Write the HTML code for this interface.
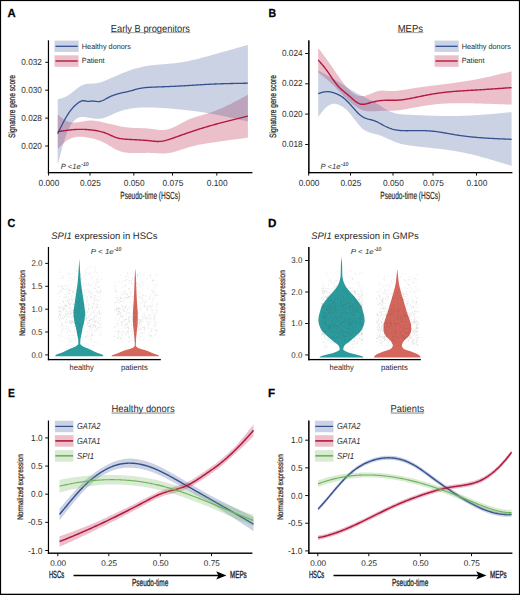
<!DOCTYPE html><html><head><meta charset="utf-8"><style>html,body{margin:0;padding:0;background:#fff}svg{display:block}</style></head><body><svg width="520" height="595" viewBox="0 0 520 595" font-family='"Liberation Sans", sans-serif' text-rendering="geometricPrecision">
<rect x="0" y="0" width="520" height="595" fill="#fff"/>
<path d="M57.70,114.50 L58.70,115.32 L59.70,116.13 L60.70,116.93 L61.70,117.70 L62.70,118.44 L63.70,119.14 L64.70,119.80 L65.70,120.40 L66.70,120.93 L67.70,121.40 L68.70,121.78 L69.70,122.09 L70.70,122.32 L71.70,122.48 L72.70,122.59 L73.70,122.63 L74.70,122.62 L75.70,122.57 L76.70,122.49 L77.70,122.37 L78.70,122.22 L79.70,122.05 L80.70,121.87 L81.70,121.67 L82.70,121.48 L83.70,121.29 L84.70,121.10 L85.70,120.93 L86.70,120.79 L87.70,120.67 L88.70,120.58 L89.70,120.52 L90.70,120.51 L91.70,120.52 L92.70,120.56 L93.70,120.63 L94.70,120.73 L95.70,120.85 L96.70,120.99 L97.70,121.15 L98.70,121.33 L99.70,121.52 L100.70,121.73 L101.70,121.95 L102.70,122.18 L103.70,122.41 L104.70,122.65 L105.70,122.89 L106.70,123.13 L107.70,123.38 L108.70,123.63 L109.70,123.87 L110.70,124.12 L111.70,124.36 L112.70,124.61 L113.70,124.85 L114.70,125.08 L115.70,125.31 L116.70,125.54 L117.70,125.76 L118.70,125.97 L119.70,126.18 L120.70,126.38 L121.70,126.57 L122.70,126.75 L123.70,126.92 L124.70,127.08 L125.70,127.23 L126.70,127.36 L127.70,127.48 L128.70,127.59 L129.70,127.68 L130.70,127.76 L131.70,127.83 L132.70,127.89 L133.70,127.93 L134.70,127.97 L135.70,128.01 L136.70,128.04 L137.70,128.06 L138.70,128.09 L139.70,128.11 L140.70,128.14 L141.70,128.17 L142.70,128.20 L143.70,128.24 L144.70,128.28 L145.70,128.34 L146.70,128.40 L147.70,128.48 L148.70,128.56 L149.70,128.67 L150.70,128.78 L151.70,128.92 L152.70,129.06 L153.70,129.20 L154.70,129.35 L155.70,129.49 L156.70,129.63 L157.70,129.75 L158.70,129.86 L159.70,129.94 L160.70,130.00 L161.70,130.03 L162.70,130.03 L163.70,129.99 L164.70,129.91 L165.70,129.78 L166.70,129.60 L167.70,129.38 L168.70,129.10 L169.70,128.78 L170.70,128.42 L171.70,128.03 L172.70,127.60 L173.70,127.15 L174.70,126.67 L175.70,126.17 L176.70,125.66 L177.70,125.13 L178.70,124.59 L179.70,124.05 L180.70,123.51 L181.70,122.96 L182.70,122.43 L183.70,121.90 L184.70,121.39 L185.70,120.89 L186.70,120.41 L187.70,119.96 L188.70,119.53 L189.70,119.11 L190.70,118.72 L191.70,118.34 L192.70,117.98 L193.70,117.63 L194.70,117.29 L195.70,116.97 L196.70,116.66 L197.70,116.35 L198.70,116.05 L199.70,115.75 L200.70,115.46 L201.70,115.18 L202.70,114.89 L203.70,114.60 L204.70,114.31 L205.70,114.02 L206.70,113.73 L207.70,113.42 L208.70,113.11 L209.70,112.80 L210.70,112.47 L211.70,112.13 L212.70,111.77 L213.70,111.41 L214.70,111.04 L215.70,110.66 L216.70,110.26 L217.70,109.86 L218.70,109.45 L219.70,109.03 L220.70,108.60 L221.70,108.16 L222.70,107.71 L223.70,107.26 L224.70,106.79 L225.70,106.33 L226.70,105.85 L227.70,105.37 L228.70,104.88 L229.70,104.38 L230.70,103.88 L231.70,103.38 L232.70,102.87 L233.70,102.35 L234.70,101.83 L235.70,101.31 L236.70,100.78 L237.70,100.25 L238.70,99.71 L239.70,99.17 L240.70,98.63 L241.70,98.09 L242.70,97.55 L243.70,97.00 L244.70,96.46 L245.70,95.91 L246.70,95.36 L247.70,94.81 L247.90,94.70 L247.90,137.70 L247.70,137.73 L246.70,137.86 L245.70,137.99 L244.70,138.12 L243.70,138.25 L242.70,138.38 L241.70,138.51 L240.70,138.64 L239.70,138.77 L238.70,138.90 L237.70,139.03 L236.70,139.16 L235.70,139.30 L234.70,139.43 L233.70,139.56 L232.70,139.69 L231.70,139.83 L230.70,139.96 L229.70,140.10 L228.70,140.23 L227.70,140.37 L226.70,140.50 L225.70,140.64 L224.70,140.78 L223.70,140.92 L222.70,141.06 L221.70,141.19 L220.70,141.34 L219.70,141.48 L218.70,141.62 L217.70,141.76 L216.70,141.90 L215.70,142.05 L214.70,142.19 L213.70,142.34 L212.70,142.49 L211.70,142.64 L210.70,142.79 L209.70,142.94 L208.70,143.09 L207.70,143.24 L206.70,143.40 L205.70,143.56 L204.70,143.72 L203.70,143.89 L202.70,144.06 L201.70,144.24 L200.70,144.42 L199.70,144.62 L198.70,144.81 L197.70,145.02 L196.70,145.23 L195.70,145.45 L194.70,145.69 L193.70,145.93 L192.70,146.18 L191.70,146.44 L190.70,146.72 L189.70,147.00 L188.70,147.30 L187.70,147.60 L186.70,147.92 L185.70,148.24 L184.70,148.56 L183.70,148.89 L182.70,149.22 L181.70,149.55 L180.70,149.87 L179.70,150.19 L178.70,150.51 L177.70,150.82 L176.70,151.12 L175.70,151.40 L174.70,151.68 L173.70,151.94 L172.70,152.19 L171.70,152.42 L170.70,152.63 L169.70,152.82 L168.70,152.99 L167.70,153.13 L166.70,153.25 L165.70,153.34 L164.70,153.41 L163.70,153.45 L162.70,153.47 L161.70,153.46 L160.70,153.45 L159.70,153.42 L158.70,153.37 L157.70,153.32 L156.70,153.26 L155.70,153.20 L154.70,153.14 L153.70,153.08 L152.70,153.02 L151.70,152.97 L150.70,152.92 L149.70,152.89 L148.70,152.87 L147.70,152.87 L146.70,152.87 L145.70,152.88 L144.70,152.89 L143.70,152.92 L142.70,152.94 L141.70,152.97 L140.70,153.00 L139.70,153.03 L138.70,153.06 L137.70,153.08 L136.70,153.10 L135.70,153.11 L134.70,153.12 L133.70,153.11 L132.70,153.10 L131.70,153.07 L130.70,153.02 L129.70,152.97 L128.70,152.89 L127.70,152.80 L126.70,152.68 L125.70,152.55 L124.70,152.38 L123.70,152.19 L122.70,151.97 L121.70,151.72 L120.70,151.44 L119.70,151.11 L118.70,150.75 L117.70,150.35 L116.70,149.90 L115.70,149.41 L114.70,148.88 L113.70,148.32 L112.70,147.73 L111.70,147.12 L110.70,146.50 L109.70,145.88 L108.70,145.25 L107.70,144.64 L106.70,144.04 L105.70,143.46 L104.70,142.91 L103.70,142.39 L102.70,141.91 L101.70,141.46 L100.70,141.04 L99.70,140.65 L98.70,140.28 L97.70,139.95 L96.70,139.63 L95.70,139.34 L94.70,139.07 L93.70,138.82 L92.70,138.58 L91.70,138.36 L90.70,138.15 L89.70,137.95 L88.70,137.76 L87.70,137.57 L86.70,137.40 L85.70,137.24 L84.70,137.09 L83.70,136.96 L82.70,136.86 L81.70,136.78 L80.70,136.73 L79.70,136.70 L78.70,136.72 L77.70,136.77 L76.70,136.87 L75.70,137.01 L74.70,137.19 L73.70,137.43 L72.70,137.72 L71.70,138.07 L70.70,138.48 L69.70,138.96 L68.70,139.50 L67.70,140.12 L66.70,140.80 L65.70,141.54 L64.70,142.34 L63.70,143.19 L62.70,144.08 L61.70,145.00 L60.70,145.95 L59.70,146.92 L58.70,147.91 L57.70,148.90 Z" fill="#b5173f" fill-opacity="0.27"/>
<path d="M57.70,99.40 L58.70,99.12 L59.70,98.84 L60.70,98.54 L61.70,98.23 L62.70,97.89 L63.70,97.52 L64.70,97.11 L65.70,96.66 L66.70,96.16 L67.70,95.60 L68.70,94.98 L69.70,94.31 L70.70,93.58 L71.70,92.82 L72.70,92.02 L73.70,91.22 L74.70,90.40 L75.70,89.60 L76.70,88.81 L77.70,88.05 L78.70,87.32 L79.70,86.65 L80.70,86.03 L81.70,85.49 L82.70,85.03 L83.70,84.65 L84.70,84.35 L85.70,84.11 L86.70,83.93 L87.70,83.80 L88.70,83.70 L89.70,83.63 L90.70,83.59 L91.70,83.55 L92.70,83.51 L93.70,83.46 L94.70,83.40 L95.70,83.30 L96.70,83.17 L97.70,83.00 L98.70,82.78 L99.70,82.53 L100.70,82.24 L101.70,81.93 L102.70,81.58 L103.70,81.22 L104.70,80.83 L105.70,80.43 L106.70,80.01 L107.70,79.59 L108.70,79.16 L109.70,78.72 L110.70,78.29 L111.70,77.85 L112.70,77.41 L113.70,76.98 L114.70,76.54 L115.70,76.10 L116.70,75.67 L117.70,75.23 L118.70,74.80 L119.70,74.37 L120.70,73.95 L121.70,73.53 L122.70,73.12 L123.70,72.71 L124.70,72.31 L125.70,71.91 L126.70,71.52 L127.70,71.14 L128.70,70.77 L129.70,70.40 L130.70,70.05 L131.70,69.70 L132.70,69.37 L133.70,69.05 L134.70,68.74 L135.70,68.44 L136.70,68.16 L137.70,67.88 L138.70,67.63 L139.70,67.38 L140.70,67.15 L141.70,66.93 L142.70,66.72 L143.70,66.52 L144.70,66.33 L145.70,66.16 L146.70,65.99 L147.70,65.83 L148.70,65.68 L149.70,65.54 L150.70,65.41 L151.70,65.28 L152.70,65.16 L153.70,65.05 L154.70,64.95 L155.70,64.84 L156.70,64.75 L157.70,64.66 L158.70,64.57 L159.70,64.48 L160.70,64.40 L161.70,64.32 L162.70,64.24 L163.70,64.16 L164.70,64.08 L165.70,64.00 L166.70,63.92 L167.70,63.84 L168.70,63.76 L169.70,63.68 L170.70,63.59 L171.70,63.50 L172.70,63.40 L173.70,63.31 L174.70,63.20 L175.70,63.09 L176.70,62.98 L177.70,62.85 L178.70,62.72 L179.70,62.59 L180.70,62.44 L181.70,62.29 L182.70,62.12 L183.70,61.95 L184.70,61.78 L185.70,61.59 L186.70,61.40 L187.70,61.20 L188.70,60.99 L189.70,60.78 L190.70,60.56 L191.70,60.34 L192.70,60.11 L193.70,59.88 L194.70,59.64 L195.70,59.39 L196.70,59.14 L197.70,58.89 L198.70,58.64 L199.70,58.38 L200.70,58.11 L201.70,57.85 L202.70,57.58 L203.70,57.31 L204.70,57.04 L205.70,56.76 L206.70,56.49 L207.70,56.21 L208.70,55.93 L209.70,55.65 L210.70,55.37 L211.70,55.09 L212.70,54.81 L213.70,54.53 L214.70,54.25 L215.70,53.97 L216.70,53.69 L217.70,53.41 L218.70,53.13 L219.70,52.85 L220.70,52.57 L221.70,52.29 L222.70,52.01 L223.70,51.73 L224.70,51.45 L225.70,51.16 L226.70,50.88 L227.70,50.60 L228.70,50.32 L229.70,50.04 L230.70,49.76 L231.70,49.47 L232.70,49.19 L233.70,48.91 L234.70,48.63 L235.70,48.35 L236.70,48.06 L237.70,47.78 L238.70,47.50 L239.70,47.22 L240.70,46.93 L241.70,46.65 L242.70,46.37 L243.70,46.09 L244.70,45.80 L245.70,45.52 L246.70,45.24 L247.70,44.96 L247.90,44.90 L247.90,121.60 L247.70,121.55 L246.70,121.32 L245.70,121.09 L244.70,120.86 L243.70,120.62 L242.70,120.39 L241.70,120.16 L240.70,119.93 L239.70,119.70 L238.70,119.47 L237.70,119.24 L236.70,119.01 L235.70,118.78 L234.70,118.56 L233.70,118.33 L232.70,118.11 L231.70,117.89 L230.70,117.66 L229.70,117.44 L228.70,117.22 L227.70,117.01 L226.70,116.79 L225.70,116.58 L224.70,116.36 L223.70,116.15 L222.70,115.95 L221.70,115.74 L220.70,115.53 L219.70,115.33 L218.70,115.13 L217.70,114.93 L216.70,114.74 L215.70,114.55 L214.70,114.36 L213.70,114.17 L212.70,113.98 L211.70,113.80 L210.70,113.62 L209.70,113.44 L208.70,113.27 L207.70,113.10 L206.70,112.93 L205.70,112.77 L204.70,112.61 L203.70,112.45 L202.70,112.30 L201.70,112.15 L200.70,112.00 L199.70,111.85 L198.70,111.71 L197.70,111.57 L196.70,111.43 L195.70,111.30 L194.70,111.16 L193.70,111.03 L192.70,110.91 L191.70,110.78 L190.70,110.66 L189.70,110.54 L188.70,110.42 L187.70,110.30 L186.70,110.19 L185.70,110.08 L184.70,109.97 L183.70,109.86 L182.70,109.75 L181.70,109.64 L180.70,109.54 L179.70,109.44 L178.70,109.34 L177.70,109.24 L176.70,109.14 L175.70,109.05 L174.70,108.95 L173.70,108.86 L172.70,108.77 L171.70,108.68 L170.70,108.60 L169.70,108.51 L168.70,108.43 L167.70,108.36 L166.70,108.28 L165.70,108.21 L164.70,108.14 L163.70,108.07 L162.70,108.01 L161.70,107.95 L160.70,107.89 L159.70,107.84 L158.70,107.79 L157.70,107.74 L156.70,107.69 L155.70,107.65 L154.70,107.62 L153.70,107.59 L152.70,107.56 L151.70,107.53 L150.70,107.51 L149.70,107.50 L148.70,107.48 L147.70,107.48 L146.70,107.48 L145.70,107.48 L144.70,107.49 L143.70,107.51 L142.70,107.53 L141.70,107.57 L140.70,107.61 L139.70,107.66 L138.70,107.72 L137.70,107.79 L136.70,107.87 L135.70,107.96 L134.70,108.07 L133.70,108.18 L132.70,108.31 L131.70,108.45 L130.70,108.61 L129.70,108.78 L128.70,108.96 L127.70,109.16 L126.70,109.38 L125.70,109.61 L124.70,109.86 L123.70,110.12 L122.70,110.40 L121.70,110.70 L120.70,111.02 L119.70,111.36 L118.70,111.72 L117.70,112.10 L116.70,112.50 L115.70,112.92 L114.70,113.36 L113.70,113.81 L112.70,114.26 L111.70,114.72 L110.70,115.18 L109.70,115.62 L108.70,116.06 L107.70,116.48 L106.70,116.88 L105.70,117.26 L104.70,117.60 L103.70,117.91 L102.70,118.18 L101.70,118.40 L100.70,118.57 L99.70,118.69 L98.70,118.76 L97.70,118.78 L96.70,118.76 L95.70,118.71 L94.70,118.62 L93.70,118.50 L92.70,118.36 L91.70,118.20 L90.70,118.02 L89.70,117.84 L88.70,117.66 L87.70,117.47 L86.70,117.29 L85.70,117.14 L84.70,117.02 L83.70,116.94 L82.70,116.92 L81.70,116.97 L80.70,117.10 L79.70,117.32 L78.70,117.65 L77.70,118.09 L76.70,118.65 L75.70,119.36 L74.70,120.21 L73.70,121.23 L72.70,122.42 L71.70,123.79 L70.70,125.35 L69.70,127.11 L68.70,129.09 L67.70,131.28 L66.70,133.69 L65.70,136.35 L64.70,139.25 L63.70,142.41 L62.70,145.81 L61.70,149.41 L60.70,153.16 L59.70,157.04 L58.70,161.00 L57.70,165.00 Z" fill="#3d5a98" fill-opacity="0.27"/>
<path d="M57.70,133.70 L58.70,131.60 L59.70,129.51 L60.70,127.45 L61.70,125.42 L62.70,123.45 L63.70,121.53 L64.70,119.69 L65.70,117.93 L66.70,116.25 L67.70,114.65 L68.70,113.14 L69.70,111.71 L70.70,110.36 L71.70,109.10 L72.70,107.92 L73.70,106.83 L74.70,105.82 L75.70,104.89 L76.70,104.02 L77.70,103.23 L78.70,102.50 L79.70,101.85 L80.70,101.32 L81.70,100.94 L82.70,100.75 L83.70,100.73 L84.70,100.84 L85.70,101.01 L86.70,101.20 L87.70,101.35 L88.70,101.40 L89.70,101.34 L90.70,101.21 L91.70,101.08 L92.70,101.00 L93.70,101.03 L94.70,101.15 L95.70,101.31 L96.70,101.47 L97.70,101.58 L98.70,101.59 L99.70,101.48 L100.70,101.25 L101.70,100.93 L102.70,100.52 L103.70,100.05 L104.70,99.53 L105.70,98.99 L106.70,98.43 L107.70,97.88 L108.70,97.35 L109.70,96.85 L110.70,96.39 L111.70,95.96 L112.70,95.57 L113.70,95.20 L114.70,94.85 L115.70,94.53 L116.70,94.23 L117.70,93.94 L118.70,93.67 L119.70,93.42 L120.70,93.17 L121.70,92.94 L122.70,92.71 L123.70,92.48 L124.70,92.26 L125.70,92.03 L126.70,91.80 L127.70,91.57 L128.70,91.32 L129.70,91.07 L130.70,90.81 L131.70,90.54 L132.70,90.27 L133.70,90.00 L134.70,89.73 L135.70,89.46 L136.70,89.20 L137.70,88.95 L138.70,88.71 L139.70,88.49 L140.70,88.28 L141.70,88.09 L142.70,87.93 L143.70,87.79 L144.70,87.67 L145.70,87.58 L146.70,87.49 L147.70,87.43 L148.70,87.37 L149.70,87.32 L150.70,87.27 L151.70,87.22 L152.70,87.17 L153.70,87.13 L154.70,87.08 L155.70,87.04 L156.70,87.00 L157.70,86.96 L158.70,86.92 L159.70,86.88 L160.70,86.85 L161.70,86.81 L162.70,86.77 L163.70,86.73 L164.70,86.69 L165.70,86.66 L166.70,86.62 L167.70,86.58 L168.70,86.54 L169.70,86.50 L170.70,86.46 L171.70,86.41 L172.70,86.37 L173.70,86.32 L174.70,86.28 L175.70,86.23 L176.70,86.18 L177.70,86.12 L178.70,86.07 L179.70,86.02 L180.70,85.96 L181.70,85.90 L182.70,85.85 L183.70,85.79 L184.70,85.73 L185.70,85.67 L186.70,85.61 L187.70,85.54 L188.70,85.48 L189.70,85.42 L190.70,85.36 L191.70,85.30 L192.70,85.23 L193.70,85.17 L194.70,85.11 L195.70,85.04 L196.70,84.98 L197.70,84.92 L198.70,84.86 L199.70,84.80 L200.70,84.74 L201.70,84.68 L202.70,84.62 L203.70,84.56 L204.70,84.51 L205.70,84.45 L206.70,84.40 L207.70,84.34 L208.70,84.29 L209.70,84.24 L210.70,84.20 L211.70,84.15 L212.70,84.10 L213.70,84.06 L214.70,84.02 L215.70,83.98 L216.70,83.94 L217.70,83.90 L218.70,83.87 L219.70,83.83 L220.70,83.80 L221.70,83.76 L222.70,83.73 L223.70,83.70 L224.70,83.67 L225.70,83.65 L226.70,83.62 L227.70,83.59 L228.70,83.57 L229.70,83.54 L230.70,83.52 L231.70,83.50 L232.70,83.48 L233.70,83.45 L234.70,83.43 L235.70,83.41 L236.70,83.39 L237.70,83.38 L238.70,83.36 L239.70,83.34 L240.70,83.32 L241.70,83.30 L242.70,83.29 L243.70,83.27 L244.70,83.25 L245.70,83.24 L246.70,83.22 L247.70,83.20 L247.90,83.20" fill="none" stroke="#34508f" stroke-width="1.3" stroke-linecap="butt" stroke-linejoin="round"/>
<path d="M57.70,131.70 L58.70,131.54 L59.70,131.38 L60.70,131.21 L61.70,131.06 L62.70,130.90 L63.70,130.75 L64.70,130.60 L65.70,130.46 L66.70,130.32 L67.70,130.19 L68.70,130.07 L69.70,129.95 L70.70,129.84 L71.70,129.75 L72.70,129.66 L73.70,129.58 L74.70,129.51 L75.70,129.46 L76.70,129.41 L77.70,129.37 L78.70,129.35 L79.70,129.33 L80.70,129.33 L81.70,129.33 L82.70,129.35 L83.70,129.38 L84.70,129.42 L85.70,129.47 L86.70,129.53 L87.70,129.60 L88.70,129.68 L89.70,129.77 L90.70,129.88 L91.70,129.99 L92.70,130.12 L93.70,130.26 L94.70,130.40 L95.70,130.56 L96.70,130.74 L97.70,130.92 L98.70,131.12 L99.70,131.33 L100.70,131.57 L101.70,131.83 L102.70,132.11 L103.70,132.43 L104.70,132.77 L105.70,133.15 L106.70,133.55 L107.70,133.98 L108.70,134.42 L109.70,134.87 L110.70,135.31 L111.70,135.76 L112.70,136.19 L113.70,136.61 L114.70,137.00 L115.70,137.37 L116.70,137.70 L117.70,137.99 L118.70,138.24 L119.70,138.46 L120.70,138.64 L121.70,138.80 L122.70,138.93 L123.70,139.05 L124.70,139.14 L125.70,139.22 L126.70,139.28 L127.70,139.34 L128.70,139.39 L129.70,139.45 L130.70,139.50 L131.70,139.55 L132.70,139.60 L133.70,139.65 L134.70,139.70 L135.70,139.75 L136.70,139.80 L137.70,139.86 L138.70,139.91 L139.70,139.97 L140.70,140.03 L141.70,140.10 L142.70,140.17 L143.70,140.24 L144.70,140.31 L145.70,140.39 L146.70,140.48 L147.70,140.57 L148.70,140.67 L149.70,140.77 L150.70,140.88 L151.70,140.99 L152.70,141.10 L153.70,141.20 L154.70,141.29 L155.70,141.37 L156.70,141.43 L157.70,141.46 L158.70,141.46 L159.70,141.42 L160.70,141.35 L161.70,141.24 L162.70,141.09 L163.70,140.91 L164.70,140.69 L165.70,140.45 L166.70,140.19 L167.70,139.90 L168.70,139.59 L169.70,139.27 L170.70,138.93 L171.70,138.59 L172.70,138.24 L173.70,137.88 L174.70,137.52 L175.70,137.16 L176.70,136.81 L177.70,136.45 L178.70,136.09 L179.70,135.74 L180.70,135.38 L181.70,135.03 L182.70,134.68 L183.70,134.33 L184.70,133.98 L185.70,133.63 L186.70,133.28 L187.70,132.93 L188.70,132.59 L189.70,132.25 L190.70,131.91 L191.70,131.57 L192.70,131.23 L193.70,130.90 L194.70,130.57 L195.70,130.24 L196.70,129.91 L197.70,129.59 L198.70,129.27 L199.70,128.95 L200.70,128.64 L201.70,128.33 L202.70,128.02 L203.70,127.71 L204.70,127.41 L205.70,127.11 L206.70,126.81 L207.70,126.51 L208.70,126.22 L209.70,125.93 L210.70,125.64 L211.70,125.36 L212.70,125.08 L213.70,124.80 L214.70,124.52 L215.70,124.24 L216.70,123.97 L217.70,123.69 L218.70,123.42 L219.70,123.16 L220.70,122.89 L221.70,122.63 L222.70,122.36 L223.70,122.10 L224.70,121.84 L225.70,121.58 L226.70,121.33 L227.70,121.07 L228.70,120.82 L229.70,120.56 L230.70,120.31 L231.70,120.06 L232.70,119.81 L233.70,119.56 L234.70,119.31 L235.70,119.07 L236.70,118.82 L237.70,118.58 L238.70,118.33 L239.70,118.09 L240.70,117.84 L241.70,117.60 L242.70,117.36 L243.70,117.12 L244.70,116.87 L245.70,116.63 L246.70,116.39 L247.70,116.15 L247.90,116.10" fill="none" stroke="#b4173f" stroke-width="1.4" stroke-linecap="butt" stroke-linejoin="round"/>
<rect x="47.850" y="40.3" width="1.2" height="133.025" fill="#000"/><rect x="47.850" y="171.975" width="204.550" height="1.35" fill="#000"/>
<path d="M45.2,62.3 H48.3" stroke="#111" stroke-width="1"/>
<path d="M45.2,90.2 H48.3" stroke="#111" stroke-width="1"/>
<path d="M45.2,118.1 H48.3" stroke="#111" stroke-width="1"/>
<path d="M45.2,146.0 H48.3" stroke="#111" stroke-width="1"/>
<text x="41.9" y="64.95" font-size="8.8" text-anchor="end" font-weight="normal" font-style="normal" fill="#2a2a2a" textLength="20.6" lengthAdjust="spacingAndGlyphs" >0.032</text>
<text x="41.9" y="92.85000000000001" font-size="8.8" text-anchor="end" font-weight="normal" font-style="normal" fill="#2a2a2a" textLength="20.6" lengthAdjust="spacingAndGlyphs" >0.030</text>
<text x="41.9" y="120.75" font-size="8.8" text-anchor="end" font-weight="normal" font-style="normal" fill="#2a2a2a" textLength="20.6" lengthAdjust="spacingAndGlyphs" >0.028</text>
<text x="41.9" y="148.65" font-size="8.8" text-anchor="end" font-weight="normal" font-style="normal" fill="#2a2a2a" textLength="20.6" lengthAdjust="spacingAndGlyphs" >0.020</text>
<path d="M48.55,172.5 V175.6" stroke="#111" stroke-width="1"/>
<text x="48.949999999999996" y="185.8" font-size="8.8" text-anchor="middle" font-weight="normal" font-style="normal" fill="#2a2a2a" textLength="20.8" lengthAdjust="spacingAndGlyphs" >0.000</text>
<path d="M90.0,172.5 V175.6" stroke="#111" stroke-width="1"/>
<text x="90.4" y="185.8" font-size="8.8" text-anchor="middle" font-weight="normal" font-style="normal" fill="#2a2a2a" textLength="20.8" lengthAdjust="spacingAndGlyphs" >0.025</text>
<path d="M133.8,172.5 V175.6" stroke="#111" stroke-width="1"/>
<text x="134.20000000000002" y="185.8" font-size="8.8" text-anchor="middle" font-weight="normal" font-style="normal" fill="#2a2a2a" textLength="20.8" lengthAdjust="spacingAndGlyphs" >0.050</text>
<path d="M172.5,172.5 V175.6" stroke="#111" stroke-width="1"/>
<text x="172.9" y="185.8" font-size="8.8" text-anchor="middle" font-weight="normal" font-style="normal" fill="#2a2a2a" textLength="20.8" lengthAdjust="spacingAndGlyphs" >0.075</text>
<path d="M216.8,172.5 V175.6" stroke="#111" stroke-width="1"/>
<text x="217.20000000000002" y="185.8" font-size="8.8" text-anchor="middle" font-weight="normal" font-style="normal" fill="#2a2a2a" textLength="20.8" lengthAdjust="spacingAndGlyphs" >0.100</text>
<text x="150.3" y="198.6" font-size="10.4" text-anchor="middle" font-weight="normal" font-style="normal" fill="#2a2a2a" textLength="60" lengthAdjust="spacingAndGlyphs" stroke="#2a2a2a" stroke-width="0.2" >Pseudo-time (HSCs)</text>
<text transform="translate(12.1,106.5) rotate(-90)" x="0" y="0" font-size="9.2" text-anchor="middle" dominant-baseline="central" fill="#2a2a2a" stroke="#2a2a2a" stroke-width="0.25" textLength="63" lengthAdjust="spacingAndGlyphs">Signature gene score</text>
<text x="110.8" y="31.9" font-size="10.2" text-anchor="start" font-weight="normal" font-style="normal" fill="#2a2a2a" textLength="79.2" lengthAdjust="spacingAndGlyphs" >Early B progenitors</text>
<rect x="110.8" y="32.2" width="79.5" height="0.9" fill="#999"/>
<rect x="54.5" y="40.6" width="24.2" height="11.3" fill="#3d5a98" fill-opacity="0.27"/>
<rect x="54.5" y="55.3" width="24.2" height="11.5" fill="#b5173f" fill-opacity="0.27"/>
<path d="M55.5,46.3 H77.7" stroke="#34508f" stroke-width="1.3"/>
<path d="M55.5,61 H77.7" stroke="#b4173f" stroke-width="1.4"/>
<text x="81.8" y="48.5" font-size="7.5" text-anchor="start" font-weight="normal" font-style="normal" fill="#2a2a2a" textLength="49.1" lengthAdjust="spacingAndGlyphs" >Healthy donors</text>
<text x="81.8" y="63.3" font-size="7.5" text-anchor="start" font-weight="normal" font-style="normal" fill="#2a2a2a" textLength="22.726344117996906" lengthAdjust="spacingAndGlyphs" >Patient</text>
<text x="60.8" y="168.8" font-size="7.5" font-style="italic" fill="#333" textLength="19.9" lengthAdjust="spacingAndGlyphs">P &lt;1e</text>
<text x="81.3" y="165.7" font-size="5.4" font-style="italic" fill="#333" stroke="#333" stroke-width="0.12" textLength="7.3" lengthAdjust="spacingAndGlyphs">-10</text>
<path d="M318.20,47.90 L319.20,49.22 L320.20,50.54 L321.20,51.87 L322.20,53.20 L323.20,54.54 L324.20,55.88 L325.20,57.23 L326.20,58.60 L327.20,59.97 L328.20,61.36 L329.20,62.76 L330.20,64.18 L331.20,65.62 L332.20,67.07 L333.20,68.54 L334.20,70.01 L335.20,71.48 L336.20,72.95 L337.20,74.42 L338.20,75.87 L339.20,77.31 L340.20,78.72 L341.20,80.11 L342.20,81.47 L343.20,82.79 L344.20,84.07 L345.20,85.31 L346.20,86.50 L347.20,87.64 L348.20,88.73 L349.20,89.75 L350.20,90.71 L351.20,91.61 L352.20,92.43 L353.20,93.18 L354.20,93.85 L355.20,94.44 L356.20,94.95 L357.20,95.36 L358.20,95.69 L359.20,95.92 L360.20,96.06 L361.20,96.12 L362.20,96.11 L363.20,96.03 L364.20,95.88 L365.20,95.68 L366.20,95.42 L367.20,95.12 L368.20,94.78 L369.20,94.40 L370.20,94.00 L371.20,93.58 L372.20,93.15 L373.20,92.72 L374.20,92.31 L375.20,91.93 L376.20,91.58 L377.20,91.27 L378.20,91.02 L379.20,90.84 L380.20,90.71 L381.20,90.64 L382.20,90.61 L383.20,90.62 L384.20,90.66 L385.20,90.71 L386.20,90.78 L387.20,90.86 L388.20,90.93 L389.20,90.98 L390.20,91.02 L391.20,91.03 L392.20,91.03 L393.20,91.00 L394.20,90.96 L395.20,90.90 L396.20,90.82 L397.20,90.73 L398.20,90.62 L399.20,90.50 L400.20,90.37 L401.20,90.23 L402.20,90.09 L403.20,89.93 L404.20,89.77 L405.20,89.61 L406.20,89.44 L407.20,89.27 L408.20,89.10 L409.20,88.93 L410.20,88.77 L411.20,88.60 L412.20,88.44 L413.20,88.28 L414.20,88.13 L415.20,87.98 L416.20,87.83 L417.20,87.68 L418.20,87.53 L419.20,87.39 L420.20,87.25 L421.20,87.11 L422.20,86.97 L423.20,86.83 L424.20,86.70 L425.20,86.57 L426.20,86.44 L427.20,86.31 L428.20,86.18 L429.20,86.05 L430.20,85.92 L431.20,85.80 L432.20,85.67 L433.20,85.54 L434.20,85.42 L435.20,85.30 L436.20,85.17 L437.20,85.05 L438.20,84.92 L439.20,84.80 L440.20,84.68 L441.20,84.55 L442.20,84.43 L443.20,84.30 L444.20,84.17 L445.20,84.05 L446.20,83.92 L447.20,83.79 L448.20,83.66 L449.20,83.53 L450.20,83.40 L451.20,83.27 L452.20,83.13 L453.20,83.00 L454.20,82.86 L455.20,82.72 L456.20,82.58 L457.20,82.44 L458.20,82.30 L459.20,82.15 L460.20,82.00 L461.20,81.86 L462.20,81.70 L463.20,81.55 L464.20,81.40 L465.20,81.24 L466.20,81.08 L467.20,80.92 L468.20,80.75 L469.20,80.59 L470.20,80.42 L471.20,80.24 L472.20,80.07 L473.20,79.89 L474.20,79.71 L475.20,79.53 L476.20,79.34 L477.20,79.15 L478.20,78.96 L479.20,78.77 L480.20,78.57 L481.20,78.37 L482.20,78.16 L483.20,77.95 L484.20,77.74 L485.20,77.53 L486.20,77.32 L487.20,77.10 L488.20,76.88 L489.20,76.66 L490.20,76.43 L491.20,76.21 L492.20,75.98 L493.20,75.75 L494.20,75.52 L495.20,75.28 L496.20,75.05 L497.20,74.81 L498.20,74.57 L499.20,74.33 L500.20,74.09 L501.20,73.85 L502.20,73.61 L503.20,73.37 L504.20,73.12 L505.20,72.88 L506.20,72.63 L507.20,72.39 L508.20,72.14 L509.20,71.89 L510.20,71.65 L511.20,71.40 L511.60,71.30 L511.60,104.60 L511.20,104.59 L510.20,104.55 L509.20,104.52 L508.20,104.48 L507.20,104.45 L506.20,104.41 L505.20,104.38 L504.20,104.34 L503.20,104.31 L502.20,104.28 L501.20,104.24 L500.20,104.21 L499.20,104.17 L498.20,104.14 L497.20,104.11 L496.20,104.07 L495.20,104.04 L494.20,104.01 L493.20,103.97 L492.20,103.94 L491.20,103.91 L490.20,103.87 L489.20,103.84 L488.20,103.81 L487.20,103.78 L486.20,103.75 L485.20,103.72 L484.20,103.68 L483.20,103.65 L482.20,103.62 L481.20,103.59 L480.20,103.56 L479.20,103.53 L478.20,103.51 L477.20,103.48 L476.20,103.45 L475.20,103.42 L474.20,103.39 L473.20,103.37 L472.20,103.34 L471.20,103.32 L470.20,103.30 L469.20,103.28 L468.20,103.26 L467.20,103.24 L466.20,103.22 L465.20,103.21 L464.20,103.19 L463.20,103.18 L462.20,103.18 L461.20,103.17 L460.20,103.17 L459.20,103.17 L458.20,103.17 L457.20,103.17 L456.20,103.18 L455.20,103.20 L454.20,103.21 L453.20,103.23 L452.20,103.25 L451.20,103.28 L450.20,103.31 L449.20,103.34 L448.20,103.38 L447.20,103.42 L446.20,103.47 L445.20,103.52 L444.20,103.58 L443.20,103.64 L442.20,103.70 L441.20,103.77 L440.20,103.85 L439.20,103.93 L438.20,104.02 L437.20,104.11 L436.20,104.21 L435.20,104.31 L434.20,104.42 L433.20,104.54 L432.20,104.66 L431.20,104.79 L430.20,104.93 L429.20,105.07 L428.20,105.21 L427.20,105.36 L426.20,105.52 L425.20,105.67 L424.20,105.84 L423.20,106.00 L422.20,106.17 L421.20,106.35 L420.20,106.52 L419.20,106.70 L418.20,106.88 L417.20,107.06 L416.20,107.25 L415.20,107.43 L414.20,107.62 L413.20,107.80 L412.20,107.99 L411.20,108.18 L410.20,108.36 L409.20,108.55 L408.20,108.73 L407.20,108.91 L406.20,109.09 L405.20,109.27 L404.20,109.43 L403.20,109.60 L402.20,109.75 L401.20,109.90 L400.20,110.05 L399.20,110.18 L398.20,110.30 L397.20,110.41 L396.20,110.51 L395.20,110.60 L394.20,110.67 L393.20,110.73 L392.20,110.78 L391.20,110.81 L390.20,110.82 L389.20,110.82 L388.20,110.82 L387.20,110.81 L386.20,110.80 L385.20,110.79 L384.20,110.78 L383.20,110.79 L382.20,110.81 L381.20,110.85 L380.20,110.90 L379.20,110.95 L378.20,111.01 L377.20,111.07 L376.20,111.13 L375.20,111.18 L374.20,111.23 L373.20,111.27 L372.20,111.30 L371.20,111.31 L370.20,111.30 L369.20,111.28 L368.20,111.22 L367.20,111.14 L366.20,111.02 L365.20,110.85 L364.20,110.64 L363.20,110.38 L362.20,110.06 L361.20,109.67 L360.20,109.22 L359.20,108.70 L358.20,108.12 L357.20,107.48 L356.20,106.79 L355.20,106.06 L354.20,105.29 L353.20,104.49 L352.20,103.67 L351.20,102.82 L350.20,101.96 L349.20,101.08 L348.20,100.18 L347.20,99.26 L346.20,98.33 L345.20,97.37 L344.20,96.40 L343.20,95.41 L342.20,94.40 L341.20,93.37 L340.20,92.33 L339.20,91.29 L338.20,90.23 L337.20,89.18 L336.20,88.14 L335.20,87.10 L334.20,86.08 L333.20,85.08 L332.20,84.10 L331.20,83.15 L330.20,82.23 L329.20,81.33 L328.20,80.45 L327.20,79.60 L326.20,78.76 L325.20,77.95 L324.20,77.14 L323.20,76.35 L322.20,75.57 L321.20,74.79 L320.20,74.02 L319.20,73.26 L318.20,72.50 Z" fill="#b5173f" fill-opacity="0.27"/>
<path d="M318.20,70.40 L319.20,70.96 L320.20,71.51 L321.20,72.07 L322.20,72.63 L323.20,73.18 L324.20,73.74 L325.20,74.31 L326.20,74.87 L327.20,75.43 L328.20,76.00 L329.20,76.57 L330.20,77.14 L331.20,77.72 L332.20,78.30 L333.20,78.88 L334.20,79.47 L335.20,80.06 L336.20,80.65 L337.20,81.25 L338.20,81.85 L339.20,82.46 L340.20,83.07 L341.20,83.68 L342.20,84.30 L343.20,84.92 L344.20,85.55 L345.20,86.17 L346.20,86.80 L347.20,87.42 L348.20,88.05 L349.20,88.67 L350.20,89.29 L351.20,89.91 L352.20,90.52 L353.20,91.13 L354.20,91.72 L355.20,92.31 L356.20,92.89 L357.20,93.46 L358.20,94.02 L359.20,94.56 L360.20,95.09 L361.20,95.60 L362.20,96.10 L363.20,96.59 L364.20,97.06 L365.20,97.53 L366.20,98.00 L367.20,98.47 L368.20,98.94 L369.20,99.41 L370.20,99.89 L371.20,100.38 L372.20,100.89 L373.20,101.41 L374.20,101.95 L375.20,102.51 L376.20,103.10 L377.20,103.71 L378.20,104.35 L379.20,105.00 L380.20,105.66 L381.20,106.33 L382.20,106.99 L383.20,107.64 L384.20,108.27 L385.20,108.88 L386.20,109.46 L387.20,110.02 L388.20,110.53 L389.20,111.02 L390.20,111.47 L391.20,111.88 L392.20,112.26 L393.20,112.60 L394.20,112.90 L395.20,113.18 L396.20,113.42 L397.20,113.63 L398.20,113.82 L399.20,113.99 L400.20,114.13 L401.20,114.25 L402.20,114.36 L403.20,114.45 L404.20,114.52 L405.20,114.59 L406.20,114.64 L407.20,114.69 L408.20,114.73 L409.20,114.77 L410.20,114.81 L411.20,114.85 L412.20,114.89 L413.20,114.93 L414.20,114.97 L415.20,115.01 L416.20,115.05 L417.20,115.09 L418.20,115.13 L419.20,115.17 L420.20,115.21 L421.20,115.25 L422.20,115.30 L423.20,115.34 L424.20,115.38 L425.20,115.42 L426.20,115.46 L427.20,115.50 L428.20,115.53 L429.20,115.57 L430.20,115.61 L431.20,115.64 L432.20,115.68 L433.20,115.71 L434.20,115.74 L435.20,115.77 L436.20,115.80 L437.20,115.83 L438.20,115.86 L439.20,115.88 L440.20,115.91 L441.20,115.93 L442.20,115.95 L443.20,115.97 L444.20,115.98 L445.20,116.00 L446.20,116.01 L447.20,116.02 L448.20,116.02 L449.20,116.03 L450.20,116.03 L451.20,116.03 L452.20,116.03 L453.20,116.02 L454.20,116.01 L455.20,116.00 L456.20,115.99 L457.20,115.97 L458.20,115.95 L459.20,115.93 L460.20,115.90 L461.20,115.87 L462.20,115.84 L463.20,115.81 L464.20,115.77 L465.20,115.73 L466.20,115.69 L467.20,115.65 L468.20,115.60 L469.20,115.55 L470.20,115.50 L471.20,115.45 L472.20,115.39 L473.20,115.34 L474.20,115.28 L475.20,115.22 L476.20,115.15 L477.20,115.09 L478.20,115.02 L479.20,114.95 L480.20,114.88 L481.20,114.81 L482.20,114.74 L483.20,114.66 L484.20,114.59 L485.20,114.51 L486.20,114.43 L487.20,114.35 L488.20,114.26 L489.20,114.18 L490.20,114.10 L491.20,114.01 L492.20,113.92 L493.20,113.84 L494.20,113.75 L495.20,113.66 L496.20,113.57 L497.20,113.48 L498.20,113.38 L499.20,113.29 L500.20,113.20 L501.20,113.10 L502.20,113.01 L503.20,112.91 L504.20,112.82 L505.20,112.72 L506.20,112.62 L507.20,112.53 L508.20,112.43 L509.20,112.33 L510.20,112.24 L511.20,112.14 L511.60,112.10 L511.60,165.90 L511.20,165.78 L510.20,165.47 L509.20,165.16 L508.20,164.85 L507.20,164.54 L506.20,164.23 L505.20,163.92 L504.20,163.62 L503.20,163.31 L502.20,163.00 L501.20,162.70 L500.20,162.39 L499.20,162.09 L498.20,161.79 L497.20,161.49 L496.20,161.19 L495.20,160.89 L494.20,160.59 L493.20,160.30 L492.20,160.00 L491.20,159.71 L490.20,159.42 L489.20,159.13 L488.20,158.85 L487.20,158.56 L486.20,158.28 L485.20,158.00 L484.20,157.72 L483.20,157.45 L482.20,157.17 L481.20,156.90 L480.20,156.64 L479.20,156.37 L478.20,156.11 L477.20,155.85 L476.20,155.59 L475.20,155.34 L474.20,155.09 L473.20,154.84 L472.20,154.60 L471.20,154.36 L470.20,154.12 L469.20,153.89 L468.20,153.66 L467.20,153.44 L466.20,153.22 L465.20,153.00 L464.20,152.79 L463.20,152.58 L462.20,152.37 L461.20,152.17 L460.20,151.98 L459.20,151.79 L458.20,151.60 L457.20,151.42 L456.20,151.24 L455.20,151.07 L454.20,150.90 L453.20,150.74 L452.20,150.58 L451.20,150.42 L450.20,150.27 L449.20,150.13 L448.20,149.98 L447.20,149.85 L446.20,149.71 L445.20,149.58 L444.20,149.45 L443.20,149.32 L442.20,149.20 L441.20,149.08 L440.20,148.96 L439.20,148.84 L438.20,148.73 L437.20,148.61 L436.20,148.50 L435.20,148.39 L434.20,148.28 L433.20,148.17 L432.20,148.07 L431.20,147.96 L430.20,147.85 L429.20,147.75 L428.20,147.64 L427.20,147.54 L426.20,147.43 L425.20,147.32 L424.20,147.21 L423.20,147.11 L422.20,147.00 L421.20,146.88 L420.20,146.77 L419.20,146.66 L418.20,146.54 L417.20,146.42 L416.20,146.30 L415.20,146.18 L414.20,146.06 L413.20,145.93 L412.20,145.80 L411.20,145.66 L410.20,145.53 L409.20,145.39 L408.20,145.24 L407.20,145.09 L406.20,144.93 L405.20,144.75 L404.20,144.56 L403.20,144.36 L402.20,144.14 L401.20,143.90 L400.20,143.64 L399.20,143.35 L398.20,143.04 L397.20,142.70 L396.20,142.34 L395.20,141.96 L394.20,141.56 L393.20,141.15 L392.20,140.72 L391.20,140.28 L390.20,139.84 L389.20,139.38 L388.20,138.93 L387.20,138.47 L386.20,138.02 L385.20,137.57 L384.20,137.13 L383.20,136.70 L382.20,136.28 L381.20,135.87 L380.20,135.49 L379.20,135.12 L378.20,134.77 L377.20,134.45 L376.20,134.16 L375.20,133.89 L374.20,133.65 L373.20,133.41 L372.20,133.18 L371.20,132.93 L370.20,132.67 L369.20,132.37 L368.20,132.02 L367.20,131.62 L366.20,131.16 L365.20,130.62 L364.20,129.99 L363.20,129.26 L362.20,128.42 L361.20,127.47 L360.20,126.43 L359.20,125.30 L358.20,124.10 L357.20,122.85 L356.20,121.56 L355.20,120.26 L354.20,118.95 L353.20,117.66 L352.20,116.37 L351.20,115.12 L350.20,113.90 L349.20,112.73 L348.20,111.61 L347.20,110.56 L346.20,109.59 L345.20,108.69 L344.20,107.88 L343.20,107.15 L342.20,106.50 L341.20,105.91 L340.20,105.40 L339.20,104.94 L338.20,104.55 L337.20,104.24 L336.20,104.01 L335.20,103.86 L334.20,103.81 L333.20,103.86 L332.20,104.02 L331.20,104.29 L330.20,104.68 L329.20,105.17 L328.20,105.78 L327.20,106.49 L326.20,107.32 L325.20,108.24 L324.20,109.28 L323.20,110.42 L322.20,111.65 L321.20,112.95 L320.20,114.30 L319.20,115.69 L318.20,117.10 Z" fill="#3d5a98" fill-opacity="0.27"/>
<path d="M318.20,93.70 L319.20,93.36 L320.20,93.03 L321.20,92.71 L322.20,92.42 L323.20,92.17 L324.20,91.96 L325.20,91.79 L326.20,91.69 L327.20,91.66 L328.20,91.68 L329.20,91.77 L330.20,91.91 L331.20,92.10 L332.20,92.34 L333.20,92.62 L334.20,92.95 L335.20,93.30 L336.20,93.69 L337.20,94.11 L338.20,94.57 L339.20,95.08 L340.20,95.63 L341.20,96.24 L342.20,96.90 L343.20,97.63 L344.20,98.42 L345.20,99.28 L346.20,100.20 L347.20,101.18 L348.20,102.21 L349.20,103.28 L350.20,104.38 L351.20,105.50 L352.20,106.63 L353.20,107.77 L354.20,108.91 L355.20,110.04 L356.20,111.14 L357.20,112.20 L358.20,113.22 L359.20,114.17 L360.20,115.06 L361.20,115.86 L362.20,116.57 L363.20,117.18 L364.20,117.68 L365.20,118.11 L366.20,118.47 L367.20,118.77 L368.20,119.04 L369.20,119.28 L370.20,119.52 L371.20,119.75 L372.20,120.01 L373.20,120.30 L374.20,120.64 L375.20,121.04 L376.20,121.48 L377.20,121.95 L378.20,122.46 L379.20,123.00 L380.20,123.54 L381.20,124.10 L382.20,124.66 L383.20,125.20 L384.20,125.74 L385.20,126.25 L386.20,126.73 L387.20,127.18 L388.20,127.61 L389.20,128.00 L390.20,128.37 L391.20,128.70 L392.20,129.01 L393.20,129.29 L394.20,129.54 L395.20,129.77 L396.20,129.96 L397.20,130.13 L398.20,130.28 L399.20,130.40 L400.20,130.49 L401.20,130.57 L402.20,130.63 L403.20,130.67 L404.20,130.70 L405.20,130.72 L406.20,130.73 L407.20,130.73 L408.20,130.72 L409.20,130.71 L410.20,130.70 L411.20,130.68 L412.20,130.67 L413.20,130.66 L414.20,130.65 L415.20,130.64 L416.20,130.63 L417.20,130.62 L418.20,130.62 L419.20,130.62 L420.20,130.63 L421.20,130.63 L422.20,130.65 L423.20,130.67 L424.20,130.69 L425.20,130.72 L426.20,130.76 L427.20,130.80 L428.20,130.86 L429.20,130.92 L430.20,130.99 L431.20,131.06 L432.20,131.15 L433.20,131.25 L434.20,131.36 L435.20,131.47 L436.20,131.60 L437.20,131.73 L438.20,131.88 L439.20,132.02 L440.20,132.18 L441.20,132.34 L442.20,132.50 L443.20,132.67 L444.20,132.84 L445.20,133.01 L446.20,133.19 L447.20,133.37 L448.20,133.55 L449.20,133.73 L450.20,133.90 L451.20,134.08 L452.20,134.26 L453.20,134.43 L454.20,134.60 L455.20,134.77 L456.20,134.93 L457.20,135.09 L458.20,135.24 L459.20,135.39 L460.20,135.54 L461.20,135.68 L462.20,135.81 L463.20,135.95 L464.20,136.08 L465.20,136.20 L466.20,136.32 L467.20,136.44 L468.20,136.56 L469.20,136.67 L470.20,136.78 L471.20,136.88 L472.20,136.98 L473.20,137.08 L474.20,137.18 L475.20,137.27 L476.20,137.36 L477.20,137.44 L478.20,137.53 L479.20,137.61 L480.20,137.69 L481.20,137.76 L482.20,137.84 L483.20,137.91 L484.20,137.98 L485.20,138.05 L486.20,138.11 L487.20,138.17 L488.20,138.23 L489.20,138.29 L490.20,138.35 L491.20,138.41 L492.20,138.46 L493.20,138.51 L494.20,138.56 L495.20,138.61 L496.20,138.66 L497.20,138.71 L498.20,138.76 L499.20,138.80 L500.20,138.84 L501.20,138.89 L502.20,138.93 L503.20,138.97 L504.20,139.01 L505.20,139.05 L506.20,139.09 L507.20,139.13 L508.20,139.17 L509.20,139.21 L510.20,139.25 L511.20,139.28 L511.60,139.30" fill="none" stroke="#34508f" stroke-width="1.3" stroke-linecap="butt" stroke-linejoin="round"/>
<path d="M318.20,60.00 L319.20,61.13 L320.20,62.27 L321.20,63.42 L322.20,64.59 L323.20,65.79 L324.20,67.03 L325.20,68.31 L326.20,69.64 L327.20,71.02 L328.20,72.44 L329.20,73.89 L330.20,75.36 L331.20,76.83 L332.20,78.29 L333.20,79.73 L334.20,81.14 L335.20,82.51 L336.20,83.81 L337.20,85.05 L338.20,86.20 L339.20,87.27 L340.20,88.27 L341.20,89.21 L342.20,90.11 L343.20,90.97 L344.20,91.80 L345.20,92.62 L346.20,93.43 L347.20,94.25 L348.20,95.09 L349.20,95.95 L350.20,96.84 L351.20,97.74 L352.20,98.64 L353.20,99.53 L354.20,100.38 L355.20,101.19 L356.20,101.93 L357.20,102.60 L358.20,103.18 L359.20,103.65 L360.20,104.00 L361.20,104.22 L362.20,104.32 L363.20,104.31 L364.20,104.22 L365.20,104.05 L366.20,103.83 L367.20,103.57 L368.20,103.29 L369.20,103.00 L370.20,102.72 L371.20,102.44 L372.20,102.18 L373.20,101.93 L374.20,101.70 L375.20,101.48 L376.20,101.28 L377.20,101.09 L378.20,100.92 L379.20,100.77 L380.20,100.65 L381.20,100.54 L382.20,100.45 L383.20,100.39 L384.20,100.34 L385.20,100.30 L386.20,100.28 L387.20,100.26 L388.20,100.26 L389.20,100.26 L390.20,100.26 L391.20,100.26 L392.20,100.26 L393.20,100.26 L394.20,100.26 L395.20,100.24 L396.20,100.22 L397.20,100.18 L398.20,100.13 L399.20,100.06 L400.20,99.98 L401.20,99.88 L402.20,99.76 L403.20,99.64 L404.20,99.50 L405.20,99.34 L406.20,99.18 L407.20,99.01 L408.20,98.83 L409.20,98.65 L410.20,98.46 L411.20,98.27 L412.20,98.07 L413.20,97.87 L414.20,97.67 L415.20,97.47 L416.20,97.26 L417.20,97.06 L418.20,96.85 L419.20,96.64 L420.20,96.43 L421.20,96.23 L422.20,96.02 L423.20,95.81 L424.20,95.61 L425.20,95.41 L426.20,95.21 L427.20,95.01 L428.20,94.82 L429.20,94.63 L430.20,94.44 L431.20,94.26 L432.20,94.09 L433.20,93.92 L434.20,93.75 L435.20,93.59 L436.20,93.44 L437.20,93.29 L438.20,93.15 L439.20,93.01 L440.20,92.87 L441.20,92.74 L442.20,92.62 L443.20,92.50 L444.20,92.38 L445.20,92.27 L446.20,92.16 L447.20,92.06 L448.20,91.95 L449.20,91.86 L450.20,91.76 L451.20,91.67 L452.20,91.58 L453.20,91.50 L454.20,91.42 L455.20,91.34 L456.20,91.26 L457.20,91.18 L458.20,91.11 L459.20,91.04 L460.20,90.97 L461.20,90.90 L462.20,90.84 L463.20,90.77 L464.20,90.71 L465.20,90.65 L466.20,90.59 L467.20,90.53 L468.20,90.47 L469.20,90.41 L470.20,90.35 L471.20,90.29 L472.20,90.24 L473.20,90.18 L474.20,90.12 L475.20,90.06 L476.20,90.01 L477.20,89.95 L478.20,89.89 L479.20,89.83 L480.20,89.77 L481.20,89.71 L482.20,89.64 L483.20,89.58 L484.20,89.52 L485.20,89.45 L486.20,89.39 L487.20,89.32 L488.20,89.26 L489.20,89.19 L490.20,89.12 L491.20,89.05 L492.20,88.99 L493.20,88.92 L494.20,88.85 L495.20,88.78 L496.20,88.71 L497.20,88.64 L498.20,88.57 L499.20,88.50 L500.20,88.43 L501.20,88.35 L502.20,88.28 L503.20,88.21 L504.20,88.14 L505.20,88.07 L506.20,87.99 L507.20,87.92 L508.20,87.85 L509.20,87.77 L510.20,87.70 L511.20,87.63 L511.60,87.60" fill="none" stroke="#b4173f" stroke-width="1.4" stroke-linecap="butt" stroke-linejoin="round"/>
<rect x="308.100" y="40.3" width="1.5" height="133.025" fill="#000"/><rect x="308.100" y="171.975" width="204.300" height="1.35" fill="#000"/>
<path d="M305.2,53.5 H308.3" stroke="#111" stroke-width="1"/>
<path d="M305.2,83.8 H308.3" stroke="#111" stroke-width="1"/>
<path d="M305.2,114.1 H308.3" stroke="#111" stroke-width="1"/>
<path d="M305.2,144.5 H308.3" stroke="#111" stroke-width="1"/>
<text x="302.6" y="56.15" font-size="8.8" text-anchor="end" font-weight="normal" font-style="normal" fill="#2a2a2a" textLength="20.6" lengthAdjust="spacingAndGlyphs" >0.024</text>
<text x="302.6" y="86.45" font-size="8.8" text-anchor="end" font-weight="normal" font-style="normal" fill="#2a2a2a" textLength="20.6" lengthAdjust="spacingAndGlyphs" >0.022</text>
<text x="302.6" y="116.75" font-size="8.8" text-anchor="end" font-weight="normal" font-style="normal" fill="#2a2a2a" textLength="20.6" lengthAdjust="spacingAndGlyphs" >0.020</text>
<text x="302.6" y="147.15" font-size="8.8" text-anchor="end" font-weight="normal" font-style="normal" fill="#2a2a2a" textLength="20.6" lengthAdjust="spacingAndGlyphs" >0.018</text>
<path d="M308.7,172.5 V175.6" stroke="#111" stroke-width="1"/>
<text x="309.09999999999997" y="185.8" font-size="8.8" text-anchor="middle" font-weight="normal" font-style="normal" fill="#2a2a2a" textLength="20.8" lengthAdjust="spacingAndGlyphs" >0.000</text>
<path d="M350.5,172.5 V175.6" stroke="#111" stroke-width="1"/>
<text x="350.9" y="185.8" font-size="8.8" text-anchor="middle" font-weight="normal" font-style="normal" fill="#2a2a2a" textLength="20.8" lengthAdjust="spacingAndGlyphs" >0.025</text>
<path d="M393.0,172.5 V175.6" stroke="#111" stroke-width="1"/>
<text x="393.4" y="185.8" font-size="8.8" text-anchor="middle" font-weight="normal" font-style="normal" fill="#2a2a2a" textLength="20.8" lengthAdjust="spacingAndGlyphs" >0.050</text>
<path d="M433.0,172.5 V175.6" stroke="#111" stroke-width="1"/>
<text x="433.4" y="185.8" font-size="8.8" text-anchor="middle" font-weight="normal" font-style="normal" fill="#2a2a2a" textLength="20.8" lengthAdjust="spacingAndGlyphs" >0.075</text>
<path d="M476.5,172.5 V175.6" stroke="#111" stroke-width="1"/>
<text x="476.9" y="185.8" font-size="8.8" text-anchor="middle" font-weight="normal" font-style="normal" fill="#2a2a2a" textLength="20.8" lengthAdjust="spacingAndGlyphs" >0.100</text>
<text x="410.3" y="198.6" font-size="10.4" text-anchor="middle" font-weight="normal" font-style="normal" fill="#2a2a2a" textLength="60" lengthAdjust="spacingAndGlyphs" stroke="#2a2a2a" stroke-width="0.2" >Pseudo-time (HSCs)</text>
<text transform="translate(272.8,106.5) rotate(-90)" x="0" y="0" font-size="9.2" text-anchor="middle" dominant-baseline="central" fill="#2a2a2a" stroke="#2a2a2a" stroke-width="0.25" textLength="63" lengthAdjust="spacingAndGlyphs">Signature gene score</text>
<text x="397.7" y="31.9" font-size="10.2" text-anchor="start" font-weight="normal" font-style="normal" fill="#2a2a2a" textLength="25.30000000000001" lengthAdjust="spacingAndGlyphs" >MEPs</text>
<rect x="397.7" y="32.2" width="25.600000000000012" height="0.9" fill="#999"/>
<rect x="434.5" y="40.6" width="24.2" height="11.3" fill="#3d5a98" fill-opacity="0.27"/>
<rect x="434.5" y="55.3" width="24.2" height="11.5" fill="#b5173f" fill-opacity="0.27"/>
<path d="M435.5,46.3 H457.7" stroke="#34508f" stroke-width="1.3"/>
<path d="M435.5,61 H457.7" stroke="#b4173f" stroke-width="1.4"/>
<text x="461.7" y="48.5" font-size="7.5" text-anchor="start" font-weight="normal" font-style="normal" fill="#2a2a2a" textLength="49.1" lengthAdjust="spacingAndGlyphs" >Healthy donors</text>
<text x="461.7" y="63.3" font-size="7.5" text-anchor="start" font-weight="normal" font-style="normal" fill="#2a2a2a" textLength="22.726344117996906" lengthAdjust="spacingAndGlyphs" >Patient</text>
<text x="320.6" y="168.8" font-size="7.5" font-style="italic" fill="#333" textLength="19.9" lengthAdjust="spacingAndGlyphs">P &lt;1e</text>
<text x="341.1" y="165.7" font-size="5.4" font-style="italic" fill="#333" stroke="#333" stroke-width="0.12" textLength="7.3" lengthAdjust="spacingAndGlyphs">-10</text>
<rect x="47.850" y="247" width="1.2" height="113.250" fill="#000"/><rect x="47.850" y="358.950" width="112.950" height="1.3" fill="#000"/>
<path d="M45.2,263.4 H48.3" stroke="#111" stroke-width="1"/>
<text x="42.4" y="266.15" font-size="8.4" text-anchor="end" font-weight="normal" font-style="normal" fill="#2a2a2a" textLength="11.0" lengthAdjust="spacingAndGlyphs" >2.0</text>
<path d="M45.2,286.3 H48.3" stroke="#111" stroke-width="1"/>
<text x="42.4" y="289.05" font-size="8.4" text-anchor="end" font-weight="normal" font-style="normal" fill="#2a2a2a" textLength="11.0" lengthAdjust="spacingAndGlyphs" >1.5</text>
<path d="M45.2,309.2 H48.3" stroke="#111" stroke-width="1"/>
<text x="42.4" y="311.95" font-size="8.4" text-anchor="end" font-weight="normal" font-style="normal" fill="#2a2a2a" textLength="11.0" lengthAdjust="spacingAndGlyphs" >1.0</text>
<path d="M45.2,332.0 H48.3" stroke="#111" stroke-width="1"/>
<text x="42.4" y="334.75" font-size="8.4" text-anchor="end" font-weight="normal" font-style="normal" fill="#2a2a2a" textLength="11.0" lengthAdjust="spacingAndGlyphs" >0.5</text>
<path d="M45.2,354.9 H48.3" stroke="#111" stroke-width="1"/>
<text x="42.4" y="357.65" font-size="8.4" text-anchor="end" font-weight="normal" font-style="normal" fill="#2a2a2a" textLength="11.0" lengthAdjust="spacingAndGlyphs" >0.0</text>
<text transform="translate(22.4,303) rotate(-90)" x="0" y="0" font-size="8.2" text-anchor="middle" dominant-baseline="central" fill="#2a2a2a" stroke="#2a2a2a" stroke-width="0.25" textLength="65.6" lengthAdjust="spacingAndGlyphs">Normalized expression</text>
<text x="51.25" y="238.8" font-size="9.5" fill="#2a2a2a" textLength="106.3" lengthAdjust="spacingAndGlyphs"><tspan font-style="italic">SPI1</tspan> expression in HSCs</text>
<text x="90.8" y="253.6" font-size="7.2" font-style="italic" fill="#333" textLength="23" lengthAdjust="spacingAndGlyphs">P &lt; 1e</text>
<text x="114.19999999999999" y="250.6" font-size="5.4" font-style="italic" fill="#333" stroke="#333" stroke-width="0.12" textLength="7.2" lengthAdjust="spacingAndGlyphs">-10</text>
<text x="81.65" y="369.6" font-size="7.9" text-anchor="middle" font-weight="normal" font-style="normal" fill="#2a2a2a" textLength="24.3" lengthAdjust="spacingAndGlyphs" >healthy</text>
<text x="134.35" y="369.6" font-size="7.9" text-anchor="middle" font-weight="normal" font-style="normal" fill="#2a2a2a" textLength="26.9" lengthAdjust="spacingAndGlyphs" >patients</text>
<path d="M79.30,258.50 L79.33,259.00 L79.36,259.50 L79.38,260.00 L79.41,260.50 L79.44,261.00 L79.47,261.50 L79.50,262.00 L79.53,262.50 L79.56,263.00 L79.59,263.50 L79.62,264.00 L79.65,264.50 L79.68,265.00 L79.71,265.50 L79.74,266.00 L79.77,266.50 L79.80,267.00 L79.84,267.50 L79.87,268.00 L79.90,268.50 L79.93,269.00 L79.96,269.50 L80.00,270.00 L80.03,270.50 L80.06,271.00 L80.09,271.50 L80.12,272.00 L80.15,272.50 L80.18,273.00 L80.21,273.50 L80.25,274.00 L80.28,274.50 L80.31,275.00 L80.34,275.50 L80.38,276.00 L80.41,276.50 L80.45,277.00 L80.48,277.50 L80.52,278.00 L80.56,278.50 L80.60,279.00 L80.64,279.50 L80.68,280.00 L80.72,280.50 L80.77,281.00 L80.81,281.50 L80.86,282.00 L80.91,282.50 L80.96,283.00 L81.02,283.50 L81.08,284.00 L81.14,284.50 L81.21,285.00 L81.28,285.50 L81.35,286.00 L81.42,286.50 L81.49,287.00 L81.57,287.50 L81.64,288.00 L81.72,288.50 L81.80,289.00 L81.88,289.50 L81.96,290.00 L82.04,290.50 L82.12,291.00 L82.20,291.50 L82.28,292.00 L82.36,292.50 L82.44,293.00 L82.52,293.50 L82.59,294.00 L82.67,294.50 L82.74,295.00 L82.81,295.50 L82.89,296.00 L82.96,296.50 L83.03,297.00 L83.11,297.50 L83.18,298.00 L83.25,298.50 L83.33,299.00 L83.40,299.50 L83.48,300.00 L83.55,300.50 L83.62,301.00 L83.70,301.50 L83.77,302.00 L83.85,302.50 L83.92,303.00 L83.99,303.50 L84.06,304.00 L84.13,304.50 L84.20,305.00 L84.27,305.50 L84.34,306.00 L84.41,306.50 L84.47,307.00 L84.54,307.50 L84.60,308.00 L84.66,308.50 L84.73,309.00 L84.79,309.50 L84.87,310.00 L84.94,310.50 L85.01,311.00 L85.07,311.50 L85.11,312.00 L85.14,312.50 L85.15,313.00 L85.14,313.50 L85.13,314.00 L85.10,314.50 L85.07,315.00 L85.03,315.50 L84.98,316.00 L84.93,316.50 L84.87,317.00 L84.82,317.50 L84.75,318.00 L84.69,318.50 L84.63,319.00 L84.56,319.50 L84.49,320.00 L84.41,320.50 L84.32,321.00 L84.22,321.50 L84.11,322.00 L84.00,322.50 L83.87,323.00 L83.75,323.50 L83.62,324.00 L83.48,324.50 L83.35,325.00 L83.22,325.50 L83.10,326.00 L82.97,326.50 L82.85,327.00 L82.74,327.50 L82.64,328.00 L82.54,328.50 L82.43,329.00 L82.33,329.50 L82.24,330.00 L82.14,330.50 L82.04,331.00 L81.95,331.50 L81.85,332.00 L81.76,332.50 L81.66,333.00 L81.57,333.50 L81.48,334.00 L81.39,334.50 L81.30,335.00 L81.21,335.50 L81.11,336.00 L81.00,336.50 L80.90,337.00 L80.79,337.50 L80.70,338.00 L80.60,338.50 L80.52,339.00 L80.45,339.50 L80.39,340.00 L80.36,340.50 L80.33,341.00 L80.31,341.50 L80.29,342.00 L80.27,342.50 L80.26,343.00 L80.25,343.50 L80.31,344.00 L80.61,344.50 L81.10,345.00 L81.70,345.50 L82.33,346.00 L83.16,346.50 L84.22,347.00 L85.42,347.50 L86.70,348.00 L87.95,348.50 L89.10,349.00 L90.15,349.50 L91.17,350.00 L92.18,350.50 L93.19,351.00 L94.22,351.50 L95.27,352.00 L96.41,352.50 L97.78,353.00 L99.26,353.50 L100.69,354.00 L101.91,354.50 L102.77,355.00 L103.13,355.50 L103.27,356.00 L103.30,356.30 L55.30,356.30 L55.33,356.00 L55.47,355.50 L55.83,355.00 L56.69,354.50 L57.91,354.00 L59.34,353.50 L60.82,353.00 L62.19,352.50 L63.33,352.00 L64.38,351.50 L65.41,351.00 L66.42,350.50 L67.43,350.00 L68.45,349.50 L69.50,349.00 L70.65,348.50 L71.90,348.00 L73.18,347.50 L74.38,347.00 L75.44,346.50 L76.27,346.00 L76.90,345.50 L77.50,345.00 L77.99,344.50 L78.29,344.00 L78.35,343.50 L78.34,343.00 L78.33,342.50 L78.31,342.00 L78.29,341.50 L78.27,341.00 L78.24,340.50 L78.21,340.00 L78.15,339.50 L78.08,339.00 L78.00,338.50 L77.90,338.00 L77.81,337.50 L77.70,337.00 L77.60,336.50 L77.49,336.00 L77.39,335.50 L77.30,335.00 L77.21,334.50 L77.12,334.00 L77.03,333.50 L76.94,333.00 L76.84,332.50 L76.75,332.00 L76.65,331.50 L76.56,331.00 L76.46,330.50 L76.36,330.00 L76.27,329.50 L76.17,329.00 L76.06,328.50 L75.96,328.00 L75.86,327.50 L75.75,327.00 L75.63,326.50 L75.50,326.00 L75.38,325.50 L75.25,325.00 L75.12,324.50 L74.98,324.00 L74.85,323.50 L74.73,323.00 L74.60,322.50 L74.49,322.00 L74.38,321.50 L74.28,321.00 L74.19,320.50 L74.11,320.00 L74.04,319.50 L73.97,319.00 L73.91,318.50 L73.85,318.00 L73.78,317.50 L73.73,317.00 L73.67,316.50 L73.62,316.00 L73.57,315.50 L73.53,315.00 L73.50,314.50 L73.47,314.00 L73.46,313.50 L73.45,313.00 L73.46,312.50 L73.49,312.00 L73.53,311.50 L73.59,311.00 L73.66,310.50 L73.73,310.00 L73.81,309.50 L73.87,309.00 L73.94,308.50 L74.00,308.00 L74.06,307.50 L74.13,307.00 L74.19,306.50 L74.26,306.00 L74.33,305.50 L74.40,305.00 L74.47,304.50 L74.54,304.00 L74.61,303.50 L74.68,303.00 L74.75,302.50 L74.83,302.00 L74.90,301.50 L74.98,301.00 L75.05,300.50 L75.12,300.00 L75.20,299.50 L75.27,299.00 L75.35,298.50 L75.42,298.00 L75.49,297.50 L75.57,297.00 L75.64,296.50 L75.71,296.00 L75.79,295.50 L75.86,295.00 L75.93,294.50 L76.01,294.00 L76.08,293.50 L76.16,293.00 L76.24,292.50 L76.32,292.00 L76.40,291.50 L76.48,291.00 L76.56,290.50 L76.64,290.00 L76.72,289.50 L76.80,289.00 L76.88,288.50 L76.96,288.00 L77.03,287.50 L77.11,287.00 L77.18,286.50 L77.25,286.00 L77.32,285.50 L77.39,285.00 L77.46,284.50 L77.52,284.00 L77.58,283.50 L77.64,283.00 L77.69,282.50 L77.74,282.00 L77.79,281.50 L77.83,281.00 L77.88,280.50 L77.92,280.00 L77.96,279.50 L78.00,279.00 L78.04,278.50 L78.08,278.00 L78.12,277.50 L78.15,277.00 L78.19,276.50 L78.22,276.00 L78.26,275.50 L78.29,275.00 L78.32,274.50 L78.35,274.00 L78.39,273.50 L78.42,273.00 L78.45,272.50 L78.48,272.00 L78.51,271.50 L78.54,271.00 L78.57,270.50 L78.60,270.00 L78.64,269.50 L78.67,269.00 L78.70,268.50 L78.73,268.00 L78.76,267.50 L78.80,267.00 L78.83,266.50 L78.86,266.00 L78.89,265.50 L78.92,265.00 L78.95,264.50 L78.98,264.00 L79.01,263.50 L79.04,263.00 L79.07,262.50 L79.10,262.00 L79.13,261.50 L79.16,261.00 L79.19,260.50 L79.22,260.00 L79.24,259.50 L79.27,259.00 L79.30,258.50 Z" fill="#2b9c9e"/>
<path d="M135.30,268.30 L135.34,268.80 L135.38,269.30 L135.42,269.80 L135.45,270.30 L135.49,270.80 L135.53,271.30 L135.56,271.80 L135.60,272.30 L135.63,272.80 L135.66,273.30 L135.70,273.80 L135.73,274.30 L135.76,274.80 L135.79,275.30 L135.82,275.80 L135.84,276.30 L135.87,276.80 L135.90,277.30 L135.92,277.80 L135.95,278.30 L135.97,278.80 L135.99,279.30 L136.01,279.80 L136.03,280.30 L136.05,280.80 L136.07,281.30 L136.09,281.80 L136.10,282.30 L136.12,282.80 L136.14,283.30 L136.15,283.80 L136.17,284.30 L136.18,284.80 L136.20,285.30 L136.22,285.80 L136.24,286.30 L136.25,286.80 L136.27,287.30 L136.29,287.80 L136.32,288.30 L136.34,288.80 L136.36,289.30 L136.38,289.80 L136.40,290.30 L136.42,290.80 L136.45,291.30 L136.47,291.80 L136.49,292.30 L136.52,292.80 L136.54,293.30 L136.56,293.80 L136.59,294.30 L136.61,294.80 L136.64,295.30 L136.66,295.80 L136.68,296.30 L136.71,296.80 L136.73,297.30 L136.75,297.80 L136.78,298.30 L136.80,298.80 L136.82,299.30 L136.85,299.80 L136.87,300.30 L136.90,300.80 L136.92,301.30 L136.95,301.80 L136.98,302.30 L137.00,302.80 L137.03,303.30 L137.06,303.80 L137.09,304.30 L137.12,304.80 L137.16,305.30 L137.20,305.80 L137.25,306.30 L137.29,306.80 L137.34,307.30 L137.39,307.80 L137.43,308.30 L137.48,308.80 L137.52,309.30 L137.56,309.80 L137.60,310.30 L137.63,310.80 L137.66,311.30 L137.68,311.80 L137.69,312.30 L137.70,312.80 L137.70,313.30 L137.70,313.80 L137.70,314.30 L137.70,314.80 L137.70,315.30 L137.70,315.80 L137.70,316.30 L137.70,316.80 L137.70,317.30 L137.70,317.80 L137.70,318.30 L137.70,318.80 L137.70,319.30 L137.70,319.80 L137.70,320.30 L137.70,320.80 L137.70,321.30 L137.69,321.80 L137.68,322.30 L137.66,322.80 L137.64,323.30 L137.61,323.80 L137.57,324.30 L137.53,324.80 L137.48,325.30 L137.43,325.80 L137.38,326.30 L137.33,326.80 L137.28,327.30 L137.22,327.80 L137.16,328.30 L137.10,328.80 L137.05,329.30 L136.99,329.80 L136.94,330.30 L136.89,330.80 L136.84,331.30 L136.79,331.80 L136.74,332.30 L136.69,332.80 L136.64,333.30 L136.59,333.80 L136.54,334.30 L136.48,334.80 L136.43,335.30 L136.38,335.80 L136.32,336.30 L136.27,336.80 L136.22,337.30 L136.18,337.80 L136.13,338.30 L136.09,338.80 L136.05,339.30 L136.02,339.80 L135.99,340.30 L135.97,340.80 L135.94,341.30 L135.92,341.80 L135.89,342.30 L135.87,342.80 L135.85,343.30 L135.83,343.80 L135.82,344.30 L135.81,344.80 L135.80,345.30 L135.85,345.80 L136.10,346.30 L136.52,346.80 L137.05,347.30 L137.68,347.80 L138.75,348.30 L140.21,348.80 L141.91,349.30 L143.70,349.80 L145.41,350.30 L146.90,350.80 L148.17,351.30 L149.36,351.80 L150.51,352.30 L151.65,352.80 L152.82,353.30 L154.04,353.80 L155.50,354.30 L157.16,354.80 L158.43,355.30 L158.94,355.80 L159.10,356.20 L111.50,356.20 L111.66,355.80 L112.17,355.30 L113.44,354.80 L115.10,354.30 L116.56,353.80 L117.78,353.30 L118.95,352.80 L120.09,352.30 L121.24,351.80 L122.43,351.30 L123.70,350.80 L125.19,350.30 L126.90,349.80 L128.69,349.30 L130.39,348.80 L131.85,348.30 L132.92,347.80 L133.55,347.30 L134.08,346.80 L134.50,346.30 L134.75,345.80 L134.80,345.30 L134.79,344.80 L134.78,344.30 L134.77,343.80 L134.75,343.30 L134.73,342.80 L134.71,342.30 L134.68,341.80 L134.66,341.30 L134.63,340.80 L134.61,340.30 L134.58,339.80 L134.55,339.30 L134.51,338.80 L134.47,338.30 L134.42,337.80 L134.38,337.30 L134.33,336.80 L134.28,336.30 L134.22,335.80 L134.17,335.30 L134.12,334.80 L134.06,334.30 L134.01,333.80 L133.96,333.30 L133.91,332.80 L133.86,332.30 L133.81,331.80 L133.76,331.30 L133.71,330.80 L133.66,330.30 L133.61,329.80 L133.55,329.30 L133.50,328.80 L133.44,328.30 L133.38,327.80 L133.32,327.30 L133.27,326.80 L133.22,326.30 L133.17,325.80 L133.12,325.30 L133.07,324.80 L133.03,324.30 L132.99,323.80 L132.96,323.30 L132.94,322.80 L132.92,322.30 L132.91,321.80 L132.90,321.30 L132.90,320.80 L132.90,320.30 L132.90,319.80 L132.90,319.30 L132.90,318.80 L132.90,318.30 L132.90,317.80 L132.90,317.30 L132.90,316.80 L132.90,316.30 L132.90,315.80 L132.90,315.30 L132.90,314.80 L132.90,314.30 L132.90,313.80 L132.90,313.30 L132.90,312.80 L132.91,312.30 L132.92,311.80 L132.94,311.30 L132.97,310.80 L133.00,310.30 L133.04,309.80 L133.08,309.30 L133.12,308.80 L133.17,308.30 L133.21,307.80 L133.26,307.30 L133.31,306.80 L133.35,306.30 L133.40,305.80 L133.44,305.30 L133.48,304.80 L133.51,304.30 L133.54,303.80 L133.57,303.30 L133.60,302.80 L133.62,302.30 L133.65,301.80 L133.68,301.30 L133.70,300.80 L133.73,300.30 L133.75,299.80 L133.78,299.30 L133.80,298.80 L133.82,298.30 L133.85,297.80 L133.87,297.30 L133.89,296.80 L133.92,296.30 L133.94,295.80 L133.96,295.30 L133.99,294.80 L134.01,294.30 L134.04,293.80 L134.06,293.30 L134.08,292.80 L134.11,292.30 L134.13,291.80 L134.15,291.30 L134.18,290.80 L134.20,290.30 L134.22,289.80 L134.24,289.30 L134.26,288.80 L134.28,288.30 L134.31,287.80 L134.33,287.30 L134.35,286.80 L134.36,286.30 L134.38,285.80 L134.40,285.30 L134.42,284.80 L134.43,284.30 L134.45,283.80 L134.46,283.30 L134.48,282.80 L134.50,282.30 L134.51,281.80 L134.53,281.30 L134.55,280.80 L134.57,280.30 L134.59,279.80 L134.61,279.30 L134.63,278.80 L134.65,278.30 L134.68,277.80 L134.70,277.30 L134.73,276.80 L134.76,276.30 L134.78,275.80 L134.81,275.30 L134.84,274.80 L134.87,274.30 L134.90,273.80 L134.94,273.30 L134.97,272.80 L135.00,272.30 L135.04,271.80 L135.07,271.30 L135.11,270.80 L135.15,270.30 L135.18,269.80 L135.22,269.30 L135.26,268.80 L135.30,268.30 Z" fill="#d4665c"/>
<path d="M85.8,316.0h0.75M89.2,333.1h0.75M62.5,324.0h0.75M65.8,294.3h0.75M71.3,299.3h0.75M70.1,330.9h0.75M90.5,266.8h0.75M100.7,326.9h0.75M87.4,325.3h0.75M59.4,308.5h0.75M70.8,299.4h0.75M92.5,298.0h0.75M97.7,296.4h0.75M83.6,307.3h0.75M73.0,310.4h0.75M73.3,313.1h0.75M85.2,345.9h0.75M95.2,325.0h0.75M72.7,316.1h0.75M66.2,345.5h0.75M58.1,293.7h0.75M63.9,289.2h0.75M94.6,315.4h0.75M84.9,274.6h0.75M100.6,272.9h0.75M61.0,310.8h0.75M73.7,308.5h0.75M92.2,335.1h0.75M86.4,316.7h0.75M60.9,310.8h0.75M75.3,310.1h0.75M85.4,296.0h0.75M87.6,268.3h0.75M77.4,291.7h0.75M66.1,319.6h0.75M99.5,292.3h0.75M78.1,303.7h0.75M88.8,266.3h0.75M81.0,327.3h0.75M61.5,288.4h0.75M68.2,297.7h0.75M60.7,331.3h0.75M66.2,310.7h0.75M66.6,329.1h0.75M75.8,316.8h0.75M71.8,322.0h0.75M73.6,281.5h0.75M93.1,312.0h0.75M58.9,310.6h0.75M62.4,330.6h0.75M92.7,303.2h0.75M81.0,314.8h0.75M76.9,277.2h0.75M69.5,304.5h0.75M81.3,301.1h0.75M67.5,288.2h0.75M94.9,326.7h0.75M93.4,303.9h0.75M71.8,344.0h0.75M59.1,314.7h0.75M96.2,315.2h0.75M70.8,316.4h0.75M86.2,318.7h0.75M94.9,288.0h0.75M92.3,307.4h0.75M95.1,295.6h0.75M79.0,305.5h0.75M94.2,282.0h0.75M77.8,341.9h0.75M69.3,293.5h0.75M78.7,318.3h0.75M72.4,299.3h0.75M91.0,331.1h0.75M93.8,318.0h0.75M64.1,286.1h0.75M65.1,328.7h0.75M74.5,338.4h0.75M77.9,333.4h0.75M99.1,313.4h0.75M98.5,287.4h0.75M99.6,291.6h0.75M89.4,336.4h0.75M87.1,312.4h0.75M69.6,290.6h0.75M74.0,331.8h0.75M58.1,316.8h0.75M93.8,313.6h0.75M69.9,304.1h0.75M61.4,305.4h0.75M71.6,295.6h0.75M71.9,273.3h0.75M89.1,331.0h0.75M58.2,308.5h0.75M67.9,312.4h0.75M96.5,300.4h0.75M94.8,322.6h0.75M85.0,271.0h0.75M82.0,303.3h0.75M67.6,272.1h0.75M95.6,284.8h0.75M90.7,342.2h0.75M80.1,317.4h0.75M64.9,306.4h0.75M67.3,311.4h0.75M74.3,331.2h0.75M72.2,301.9h0.75M60.6,314.6h0.75M75.5,319.2h0.75M77.3,302.7h0.75M70.3,310.8h0.75M74.5,323.5h0.75M72.3,334.1h0.75M74.2,288.1h0.75M84.6,336.9h0.75M79.4,266.9h0.75M66.5,322.3h0.75M92.2,325.8h0.75M80.1,286.5h0.75M77.7,305.8h0.75M88.7,326.4h0.75M90.3,268.9h0.75M94.5,316.3h0.75M92.9,324.8h0.75M86.8,311.2h0.75M89.0,321.0h0.75M64.8,294.4h0.75M88.1,292.1h0.75M68.9,302.8h0.75M69.1,290.4h0.75M63.2,302.2h0.75M75.1,339.2h0.75M58.9,313.6h0.75M86.3,301.8h0.75M90.2,297.4h0.75M91.3,339.3h0.75M63.5,307.4h0.75M85.6,343.8h0.75M94.0,310.8h0.75M59.5,311.1h0.75M66.3,332.8h0.75M69.5,321.8h0.75M77.9,314.2h0.75M65.4,306.4h0.75M81.2,331.4h0.75M72.8,305.8h0.75M86.2,335.6h0.75M80.8,278.1h0.75M87.5,306.5h0.75M68.6,311.1h0.75M88.4,339.3h0.75M89.6,295.9h0.75M89.0,326.0h0.75M60.9,318.7h0.75M98.7,320.7h0.75M82.8,316.6h0.75M69.7,342.5h0.75M76.7,301.3h0.75M80.3,305.2h0.75M80.3,292.3h0.75M68.7,275.3h0.75M69.4,293.6h0.75M73.6,335.2h0.75M91.6,328.1h0.75M76.8,284.0h0.75M59.7,314.8h0.75M77.4,308.8h0.75M66.7,314.7h0.75M58.5,318.2h0.75M100.0,299.9h0.75M70.6,341.2h0.75M81.1,308.5h0.75M73.4,315.9h0.75M60.3,316.5h0.75M96.7,290.8h0.75M98.2,277.0h0.75M66.0,305.8h0.75M76.0,323.1h0.75M74.1,326.5h0.75M65.2,321.7h0.75M86.5,284.2h0.75M91.6,334.4h0.75M90.7,325.4h0.75M87.0,331.7h0.75M58.8,311.5h0.75M67.9,334.8h0.75M80.1,274.8h0.75M88.2,272.2h0.75M74.6,270.0h0.75M77.3,295.8h0.75M94.2,296.0h0.75M59.0,291.5h0.75M69.5,313.5h0.75M70.5,273.7h0.75M100.7,314.7h0.75M67.8,289.3h0.75M60.0,318.3h0.75M75.9,270.0h0.75M85.9,300.2h0.75M64.6,337.6h0.75M94.1,312.1h0.75M66.4,326.0h0.75M88.3,317.4h0.75M65.0,315.7h0.75M95.9,291.3h0.75M66.7,313.6h0.75M89.4,273.3h0.75M94.1,325.5h0.75M69.0,341.2h0.75M62.0,329.5h0.75M83.2,275.3h0.75M79.5,301.5h0.75M78.6,300.6h0.75M91.6,283.8h0.75M77.9,315.9h0.75M79.4,325.3h0.75M79.0,300.0h0.75M77.5,329.9h0.75M75.4,325.5h0.75M64.9,285.9h0.75M70.7,323.6h0.75M69.4,331.3h0.75M68.7,292.2h0.75M91.7,313.7h0.75M62.9,317.0h0.75M66.8,315.5h0.75M80.6,282.2h0.75M71.4,317.9h0.75M68.3,316.7h0.75M74.1,326.9h0.75M79.6,325.6h0.75M87.0,300.9h0.75M99.8,321.1h0.75M94.7,330.7h0.75M76.5,332.3h0.75M77.4,289.2h0.75M75.9,271.5h0.75M68.3,317.4h0.75M98.9,293.4h0.75M61.0,312.8h0.75M66.8,338.4h0.75M86.5,304.1h0.75M83.4,295.8h0.75M70.0,308.1h0.75M98.3,317.7h0.75M75.6,282.7h0.75M83.6,304.2h0.75M61.9,286.7h0.75M96.3,317.8h0.75M62.4,327.7h0.75M74.9,303.9h0.75M96.1,303.7h0.75M98.6,312.2h0.75M96.9,293.6h0.75M93.6,296.0h0.75M68.0,300.9h0.75M59.4,308.0h0.75M77.4,279.9h0.75M60.7,322.3h0.75M99.3,313.8h0.75M58.4,299.7h0.75M72.0,279.7h0.75M66.7,322.8h0.75M58.6,285.8h0.75M79.5,286.4h0.75M61.3,285.8h0.75M96.7,279.8h0.75M87.6,334.0h0.75M73.9,297.5h0.75M94.2,300.0h0.75M92.3,327.4h0.75M72.0,316.1h0.75M94.4,291.4h0.75M98.0,306.9h0.75M84.7,332.0h0.75M73.1,304.2h0.75M96.7,320.4h0.75M98.5,282.1h0.75M72.9,320.9h0.75M61.7,324.2h0.75M95.3,326.9h0.75M86.6,318.5h0.75M68.0,303.7h0.75M82.4,277.6h0.75M71.3,310.8h0.75M97.5,322.8h0.75M72.7,291.7h0.75M66.4,296.8h0.75M59.9,311.9h0.75M72.7,322.7h0.75M100.5,332.8h0.75M67.4,285.3h0.75M77.7,290.9h0.75M99.8,325.3h0.75M58.3,317.0h0.75M70.7,321.0h0.75M93.3,345.9h0.75M62.1,337.3h0.75M97.9,328.7h0.75M93.9,324.2h0.75M64.2,305.0h0.75M83.5,316.8h0.75M81.9,291.0h0.75M87.8,323.1h0.75M71.2,323.0h0.75M74.5,321.2h0.75M68.4,307.4h0.75M70.6,304.0h0.75M65.6,305.8h0.75M96.9,272.5h0.75M96.2,328.6h0.75M73.5,312.1h0.75M87.8,304.4h0.75M79.1,312.7h0.75M70.1,321.1h0.75M73.0,304.0h0.75M99.5,327.5h0.75M72.7,335.6h0.75M82.9,304.3h0.75M98.6,287.1h0.75M70.8,323.1h0.75M92.8,345.5h0.75M62.9,288.2h0.75M89.5,320.5h0.75M92.7,327.0h0.75M94.0,335.4h0.75M99.9,285.2h0.75M88.6,281.4h0.75M100.0,345.1h0.75M70.0,284.5h0.75M80.4,290.7h0.75M67.2,313.7h0.75M61.6,307.3h0.75M76.9,322.7h0.75M88.9,291.6h0.75M91.5,334.8h0.75M58.7,293.5h0.75M98.5,323.3h0.75M68.6,278.0h0.75M70.6,308.8h0.75M93.8,272.4h0.75M96.5,299.9h0.75M89.7,300.1h0.75M72.3,321.2h0.75M77.9,308.2h0.75M93.9,276.4h0.75M73.4,346.0h0.75M92.6,332.3h0.75M91.6,334.9h0.75M78.2,296.2h0.75M96.6,304.8h0.75M74.5,294.7h0.75M90.2,285.6h0.75M85.5,272.4h0.75M72.2,310.6h0.75M80.9,284.9h0.75M84.1,290.7h0.75M81.1,329.8h0.75M62.8,309.3h0.75M100.6,291.1h0.75M99.6,318.5h0.75M59.6,296.8h0.75M98.6,311.5h0.75M80.9,298.4h0.75M63.4,311.0h0.75M93.3,316.6h0.75M76.6,312.2h0.75M88.7,304.8h0.75M93.6,325.0h0.75M81.1,331.2h0.75M60.1,290.5h0.75M93.4,286.6h0.75M87.8,283.8h0.75M97.1,344.2h0.75M69.6,338.0h0.75M91.8,294.7h0.75M95.5,342.6h0.75M73.3,293.2h0.75M75.6,310.3h0.75M72.4,310.1h0.75M58.2,334.8h0.75M68.0,273.9h0.75M72.3,300.4h0.75M62.7,315.0h0.75M90.9,278.1h0.75M76.4,295.2h0.75M82.4,308.3h0.75M70.2,331.3h0.75M73.5,322.9h0.75M90.4,327.7h0.75M78.2,323.0h0.75M83.7,320.0h0.75M76.2,329.1h0.75M82.0,319.1h0.75M96.6,321.4h0.75M69.5,299.3h0.75M80.3,289.5h0.75M87.6,323.2h0.75M61.7,289.5h0.75M99.4,335.3h0.75M79.4,315.0h0.75M68.5,300.9h0.75M90.7,337.5h0.75M93.1,288.5h0.75M85.1,311.2h0.75M97.4,281.4h0.75M61.8,341.5h0.75M80.7,314.1h0.75M89.9,325.7h0.75M97.4,298.1h0.75M85.6,325.5h0.75M83.9,320.2h0.75M74.7,317.0h0.75M82.6,339.7h0.75M81.9,306.9h0.75M96.9,305.8h0.75M93.6,319.7h0.75M89.7,327.9h0.75M97.7,301.7h0.75M60.8,318.6h0.75M91.1,293.0h0.75M77.9,312.3h0.75M90.3,323.6h0.75M70.7,277.3h0.75M78.1,321.2h0.75M93.5,269.2h0.75M59.5,340.4h0.75M70.5,308.3h0.75M79.0,305.7h0.75M94.6,321.0h0.75M69.6,311.3h0.75M93.4,321.5h0.75M68.5,280.4h0.75M71.0,313.0h0.75M81.8,313.1h0.75M86.1,337.2h0.75M95.8,273.7h0.75M95.8,307.8h0.75M68.8,316.5h0.75M90.1,312.5h0.75M85.3,279.2h0.75M74.6,314.3h0.75M91.4,294.0h0.75M96.6,292.2h0.75M78.6,331.4h0.75M97.4,291.9h0.75M63.5,308.0h0.75M65.1,322.4h0.75M90.9,320.2h0.75M71.1,312.3h0.75M83.2,325.9h0.75M79.4,308.3h0.75M64.3,316.1h0.75M90.4,326.4h0.75M89.9,318.7h0.75M64.2,317.2h0.75M69.2,305.7h0.75M92.4,312.9h0.75M97.2,304.8h0.75M95.4,321.9h0.75M79.6,304.2h0.75M73.8,308.6h0.75M77.1,322.8h0.75M65.6,310.6h0.75M79.3,301.7h0.75M67.9,327.7h0.75M65.0,304.1h0.75M74.4,328.7h0.75M60.7,324.7h0.75M78.2,307.4h0.75M87.9,320.3h0.75M86.0,272.6h0.75M99.9,304.3h0.75M96.1,329.9h0.75M85.3,314.2h0.75M96.6,313.0h0.75M77.1,318.0h0.75M92.4,318.7h0.75M70.2,313.9h0.75M80.6,306.2h0.75M100.1,291.2h0.75M83.7,298.9h0.75M79.8,298.9h0.75M91.9,306.8h0.75M71.4,346.2h0.75M93.7,302.3h0.75M58.8,307.3h0.75M68.2,303.7h0.75M65.6,314.0h0.75M69.1,339.1h0.75M98.7,332.6h0.75M59.0,303.8h0.75M70.8,296.8h0.75M82.7,332.0h0.75M88.2,309.8h0.75M91.3,319.0h0.75M74.5,279.1h0.75M67.5,330.6h0.75M94.7,300.1h0.75M63.2,309.8h0.75M60.8,291.9h0.75M68.0,306.2h0.75M79.2,327.3h0.75M98.5,327.5h0.75M89.3,308.8h0.75M82.3,323.7h0.75M80.4,307.8h0.75M87.8,303.5h0.75M84.9,312.5h0.75M72.5,292.6h0.75M62.0,300.7h0.75M66.6,320.1h0.75M91.7,323.4h0.75M85.3,276.3h0.75M92.3,321.6h0.75M59.9,326.7h0.75M96.7,307.3h0.75M74.4,277.6h0.75M97.8,318.8h0.75M83.6,296.0h0.75M81.5,317.0h0.75M93.2,304.1h0.75M84.9,316.7h0.75M87.0,296.6h0.75M64.8,308.9h0.75M84.0,311.6h0.75M73.3,316.5h0.75M61.3,292.5h0.75M63.7,340.9h0.75M78.6,298.5h0.75M69.3,299.4h0.75M90.9,296.4h0.75M63.3,277.8h0.75M58.6,306.5h0.75M100.9,323.4h0.75M71.5,320.7h0.75M79.9,292.2h0.75M67.0,286.4h0.75M67.0,300.6h0.75M75.3,323.7h0.75M92.0,309.4h0.75M59.7,336.0h0.75M94.0,317.5h0.75M100.6,316.1h0.75M82.0,323.7h0.75M73.5,322.3h0.75M68.1,302.2h0.75M65.9,296.6h0.75M71.9,307.1h0.75M94.6,309.6h0.75M58.1,287.2h0.75M91.8,307.4h0.75M86.7,317.1h0.75M58.8,286.4h0.75M61.0,287.0h0.75M89.6,290.1h0.75M86.9,298.4h0.75M71.5,340.8h0.75M95.0,271.1h0.75M67.0,291.2h0.75M76.4,289.6h0.75M62.9,308.9h0.75M85.8,269.1h0.75M61.7,307.8h0.75M65.7,289.1h0.75M91.0,297.5h0.75M79.5,325.1h0.75M86.5,291.0h0.75M89.6,315.4h0.75M84.1,305.6h0.75M66.5,306.0h0.75M88.0,326.6h0.75M63.0,288.9h0.75M69.6,335.8h0.75M77.3,332.5h0.75M62.9,318.1h0.75M62.6,275.7h0.75M86.0,318.2h0.75M89.9,314.8h0.75M73.9,323.6h0.75M74.8,293.4h0.75M66.9,340.1h0.75M80.4,331.9h0.75M83.0,283.9h0.75M98.1,300.5h0.75M59.7,272.5h0.75M97.1,327.6h0.75M100.6,335.1h0.75M72.9,345.6h0.75M89.2,315.4h0.75M93.5,318.1h0.75M86.0,318.4h0.75M70.4,313.6h0.75M84.8,339.5h0.75M95.7,315.5h0.75M62.6,301.3h0.75M78.6,311.0h0.75M59.0,269.9h0.75M94.3,320.9h0.75M91.5,319.3h0.75M60.0,306.6h0.75M90.1,329.2h0.75M87.7,322.9h0.75M63.4,301.3h0.75M80.6,279.6h0.75M87.6,285.8h0.75M72.4,291.2h0.75M79.7,299.3h0.75M100.0,307.4h0.75M85.3,336.5h0.75M79.6,297.8h0.75M60.8,332.9h0.75M63.2,318.9h0.75M94.6,329.6h0.75M89.9,305.7h0.75M93.9,266.4h0.75M82.9,324.6h0.75M82.8,295.3h0.75M80.8,287.0h0.75M89.6,325.5h0.75M72.2,318.9h0.75M79.4,293.7h0.75M78.2,297.6h0.75M86.5,337.3h0.75M67.3,297.4h0.75M59.1,320.2h0.75M61.8,286.2h0.75M65.7,326.6h0.75M94.9,284.7h0.75M88.8,311.2h0.75M90.2,273.1h0.75M77.1,312.6h0.75M62.4,328.4h0.75M78.0,280.4h0.75M95.1,297.6h0.75M79.9,323.7h0.75M85.2,315.4h0.75M74.1,299.9h0.75M64.5,316.3h0.75M84.9,308.1h0.75M78.9,330.0h0.75M72.9,299.1h0.75M69.1,322.9h0.75M87.9,316.6h0.75M71.7,322.1h0.75M82.8,304.0h0.75M69.2,320.8h0.75M90.4,319.5h0.75M74.1,304.6h0.75M78.6,271.3h0.75M97.9,341.3h0.75M88.9,320.5h0.75M89.7,292.4h0.75M72.6,321.7h0.75M94.1,298.2h0.75M74.6,308.7h0.75M100.5,330.2h0.75M96.5,307.6h0.75M86.3,298.3h0.75M93.8,299.7h0.75M81.4,279.6h0.75M89.5,294.1h0.75M63.4,297.6h0.75M100.5,290.2h0.75M92.4,277.4h0.75M64.1,308.6h0.75M68.4,293.5h0.75M82.7,321.9h0.75M90.8,335.4h0.75M64.4,297.3h0.75M99.3,313.5h0.75M72.9,310.4h0.75M100.8,279.0h0.75M90.4,285.7h0.75M78.9,332.1h0.75M73.6,309.1h0.75M62.1,325.7h0.75M61.8,277.9h0.75M85.1,314.5h0.75M91.3,329.8h0.75M97.0,330.4h0.75M73.7,267.2h0.75M98.3,311.3h0.75M70.8,303.6h0.75M98.4,323.2h0.75M97.5,279.0h0.75M64.7,297.1h0.75M95.0,326.5h0.75M88.3,308.4h0.75M88.2,308.0h0.75M94.1,341.8h0.75M81.1,300.4h0.75M79.8,273.9h0.75M73.8,304.7h0.75M95.2,288.4h0.75M96.7,279.9h0.75M64.9,313.7h0.75M91.2,339.8h0.75M69.8,314.2h0.75M65.9,317.2h0.75M66.5,301.1h0.75M82.7,313.5h0.75M70.0,322.3h0.75M68.4,314.3h0.75M62.2,325.3h0.75M72.0,312.4h0.75M91.3,292.0h0.75M58.9,314.2h0.75M78.8,310.0h0.75M83.9,289.7h0.75M60.1,316.1h0.75M70.6,326.3h0.75M97.0,286.5h0.75M100.8,312.3h0.75M94.6,321.3h0.75M65.3,305.7h0.75M90.9,297.4h0.75M77.4,303.3h0.75M65.3,311.8h0.75M78.7,319.1h0.75M97.7,313.0h0.75M95.7,283.3h0.75M74.8,326.6h0.75M60.7,335.9h0.75M96.7,282.6h0.75M100.4,296.0h0.75M80.0,290.0h0.75M67.7,329.0h0.75M81.4,334.6h0.75M87.9,274.7h0.75M78.7,301.6h0.75M73.2,291.3h0.75M68.7,308.5h0.75M70.8,335.4h0.75M60.1,278.3h0.75M69.0,289.8h0.75M99.0,309.4h0.75M58.3,311.7h0.75M89.3,322.1h0.75M91.9,307.2h0.75M75.4,287.1h0.75M83.6,302.4h0.75M67.5,344.4h0.75M86.7,322.5h0.75M88.4,284.4h0.75M89.6,326.0h0.75M79.1,300.1h0.75M99.7,324.3h0.75M95.3,268.4h0.75M82.6,330.5h0.75M87.3,289.1h0.75" stroke="#555" stroke-width="0.75" stroke-opacity="0.2" fill="none"/>
<path d="M141.0,298.1h0.75M114.6,336.3h0.75M130.8,318.9h0.75M144.2,332.2h0.75M129.4,299.4h0.75M148.7,339.6h0.75M153.2,284.7h0.75M119.7,313.3h0.75M143.5,285.1h0.75M130.0,292.3h0.75M121.3,324.2h0.75M128.9,280.5h0.75M134.6,305.2h0.75M152.5,292.2h0.75M146.9,329.5h0.75M114.0,282.3h0.75M116.2,302.6h0.75M156.7,329.7h0.75M137.8,320.9h0.75M140.2,321.1h0.75M129.0,340.7h0.75M149.7,275.4h0.75M137.9,319.8h0.75M139.4,323.7h0.75M124.6,323.8h0.75M147.4,322.4h0.75M123.1,281.1h0.75M119.7,282.2h0.75M139.6,324.7h0.75M149.8,317.5h0.75M126.5,297.6h0.75M126.9,273.2h0.75M120.3,313.1h0.75M139.9,283.4h0.75M147.1,324.0h0.75M119.2,302.6h0.75M136.9,327.0h0.75M137.1,283.9h0.75M118.4,311.2h0.75M136.7,284.0h0.75M125.5,325.2h0.75M122.4,314.9h0.75M156.4,295.6h0.75M117.7,337.8h0.75M128.6,320.3h0.75M140.5,303.0h0.75M131.3,330.0h0.75M114.6,305.3h0.75M151.2,335.6h0.75M124.1,300.3h0.75M131.6,340.2h0.75M153.0,280.5h0.75M155.7,323.4h0.75M153.3,299.8h0.75M131.6,307.7h0.75M145.9,318.4h0.75M150.5,278.1h0.75M122.3,295.0h0.75M155.7,284.4h0.75M118.2,323.3h0.75M142.2,294.9h0.75M124.1,311.7h0.75M123.1,302.1h0.75M119.7,295.8h0.75M154.5,335.1h0.75M119.3,311.6h0.75M153.2,318.8h0.75M121.0,322.0h0.75M128.0,327.7h0.75M122.9,297.8h0.75M156.5,282.0h0.75M117.8,310.0h0.75M151.0,290.5h0.75M126.8,275.4h0.75M154.9,334.3h0.75M146.2,317.8h0.75M125.2,307.4h0.75M135.8,287.3h0.75M120.8,324.2h0.75M131.4,313.2h0.75M114.9,290.6h0.75M143.2,339.7h0.75M139.4,336.9h0.75M125.5,334.8h0.75M114.4,327.6h0.75M154.4,313.5h0.75M119.2,300.1h0.75M128.0,319.0h0.75M114.9,288.9h0.75M130.4,317.3h0.75M131.2,280.3h0.75M136.8,274.5h0.75M127.8,322.1h0.75M124.6,302.6h0.75M147.7,321.3h0.75M125.8,325.2h0.75M128.1,328.3h0.75M135.0,317.3h0.75M125.6,329.1h0.75M145.2,319.5h0.75M117.4,334.9h0.75M127.8,332.1h0.75M132.0,277.9h0.75M124.9,297.8h0.75M150.1,305.9h0.75M129.1,296.9h0.75M132.0,291.5h0.75M134.1,330.6h0.75M149.7,276.0h0.75M123.2,291.3h0.75M149.6,324.2h0.75M154.8,294.7h0.75M125.3,297.2h0.75M121.1,338.5h0.75M147.9,324.3h0.75M127.3,309.1h0.75M123.6,287.4h0.75M117.2,298.3h0.75M140.3,340.0h0.75M154.3,325.6h0.75M151.9,281.0h0.75M139.2,322.0h0.75M132.7,305.1h0.75M156.0,322.3h0.75M142.3,299.6h0.75M155.1,286.8h0.75M143.5,274.6h0.75M143.9,300.0h0.75M144.1,329.6h0.75M119.2,331.9h0.75M124.7,320.9h0.75M116.6,323.7h0.75M154.1,292.2h0.75M156.8,304.0h0.75M139.9,332.6h0.75M120.5,340.2h0.75M119.2,308.7h0.75M133.1,325.3h0.75M130.7,335.2h0.75M122.3,341.6h0.75M117.7,299.8h0.75M141.8,319.4h0.75M148.0,305.9h0.75M116.5,309.8h0.75M127.2,309.7h0.75M126.8,298.6h0.75M137.2,274.8h0.75M139.9,324.9h0.75M131.5,321.3h0.75M151.2,329.0h0.75M130.7,289.2h0.75M126.9,296.0h0.75M146.9,316.4h0.75M150.2,335.5h0.75M151.7,310.5h0.75M121.1,292.7h0.75M122.3,316.5h0.75M133.8,337.3h0.75M155.6,330.4h0.75M140.6,333.0h0.75M140.7,306.8h0.75M127.9,297.8h0.75M156.6,330.6h0.75M121.7,325.8h0.75M138.0,329.2h0.75M143.0,305.7h0.75M148.8,299.2h0.75M148.9,296.5h0.75M130.5,330.9h0.75M125.5,334.4h0.75M156.1,304.1h0.75M137.7,330.7h0.75M126.0,305.5h0.75M119.8,309.1h0.75M148.5,315.0h0.75M150.5,294.8h0.75M138.4,297.7h0.75M130.4,297.8h0.75M142.3,297.3h0.75M156.1,312.3h0.75M138.8,284.3h0.75M147.8,325.4h0.75M151.9,290.7h0.75M146.5,308.6h0.75M134.8,318.8h0.75M121.5,287.6h0.75M143.9,306.8h0.75M149.7,314.8h0.75M155.4,314.4h0.75M120.4,332.1h0.75M118.7,325.7h0.75M141.3,286.4h0.75M149.5,328.2h0.75M117.1,314.5h0.75M140.3,320.4h0.75M125.3,289.6h0.75M157.0,310.2h0.75M129.4,321.4h0.75M117.3,326.3h0.75M147.6,326.9h0.75M126.8,294.5h0.75M131.9,328.4h0.75M119.4,314.8h0.75M128.1,320.0h0.75M119.6,329.3h0.75M124.9,306.6h0.75M138.8,334.2h0.75M126.7,331.3h0.75M142.6,327.0h0.75M152.7,305.4h0.75M138.7,312.7h0.75M115.0,291.0h0.75M155.3,324.3h0.75M122.3,331.7h0.75M128.8,289.8h0.75M136.5,323.7h0.75M140.5,321.1h0.75M128.6,277.4h0.75M132.8,333.9h0.75M140.9,311.0h0.75M133.5,298.1h0.75M126.0,276.5h0.75M131.5,325.4h0.75M130.4,302.7h0.75M126.4,312.3h0.75M139.7,292.9h0.75M135.9,316.7h0.75M131.6,306.1h0.75M144.4,327.0h0.75M148.9,319.6h0.75M141.8,322.3h0.75M128.5,296.8h0.75M154.3,280.5h0.75M118.3,331.3h0.75M148.6,335.3h0.75M132.0,319.0h0.75M130.9,334.2h0.75M150.2,321.9h0.75M142.1,316.7h0.75M155.9,307.4h0.75M151.7,303.9h0.75M118.8,311.5h0.75M135.5,294.8h0.75M147.0,307.7h0.75M117.4,311.9h0.75M137.2,276.5h0.75M156.7,306.2h0.75M124.1,299.1h0.75M118.8,318.1h0.75M126.3,327.5h0.75M128.7,317.1h0.75M126.1,319.6h0.75M132.5,317.1h0.75M149.8,297.5h0.75M136.2,305.2h0.75M139.3,328.9h0.75M118.5,336.4h0.75M116.6,291.3h0.75M154.9,273.9h0.75M128.8,337.8h0.75M154.7,329.8h0.75M128.3,316.7h0.75M141.4,327.1h0.75M142.4,316.3h0.75M117.7,332.7h0.75M116.9,296.2h0.75M132.9,309.0h0.75M119.3,319.7h0.75M126.6,294.1h0.75M122.3,322.4h0.75M127.3,297.8h0.75M133.5,321.6h0.75M127.2,326.7h0.75M128.3,307.9h0.75M134.8,340.7h0.75M143.3,318.0h0.75M115.6,324.4h0.75M156.9,275.3h0.75M132.4,285.5h0.75M153.7,321.6h0.75M114.1,336.2h0.75M116.3,318.0h0.75M118.1,333.8h0.75M153.2,279.6h0.75M131.6,332.3h0.75M150.4,331.4h0.75M143.8,317.9h0.75M117.6,308.1h0.75M129.4,321.6h0.75M128.1,296.3h0.75M133.4,319.6h0.75M146.4,321.1h0.75M117.4,313.9h0.75M153.8,297.3h0.75M134.4,272.1h0.75M129.6,293.0h0.75M143.9,328.2h0.75M125.7,294.0h0.75M144.6,281.4h0.75M131.8,296.4h0.75M134.5,312.8h0.75M122.0,315.9h0.75M122.6,331.2h0.75M151.0,329.7h0.75M138.7,338.5h0.75M132.0,331.7h0.75M147.3,309.2h0.75M153.2,287.9h0.75M120.7,337.2h0.75M156.9,295.2h0.75M114.4,318.0h0.75M140.3,297.7h0.75M125.2,327.2h0.75M124.7,293.0h0.75M135.2,307.7h0.75M139.9,294.2h0.75M132.7,330.0h0.75M144.6,317.2h0.75M154.9,318.0h0.75M121.1,301.5h0.75M124.1,291.5h0.75M140.1,329.7h0.75M131.5,324.7h0.75M127.4,323.4h0.75M135.6,342.0h0.75M143.9,314.7h0.75M153.1,291.2h0.75M154.4,316.7h0.75M149.2,299.1h0.75M128.8,312.3h0.75M152.0,309.8h0.75M144.5,314.9h0.75M121.3,334.1h0.75M155.0,326.6h0.75M124.5,307.1h0.75M143.3,327.2h0.75M143.8,329.6h0.75M153.0,325.0h0.75M142.6,314.2h0.75M156.3,332.6h0.75M116.4,311.4h0.75M115.4,285.0h0.75M122.3,298.4h0.75M138.7,319.4h0.75M132.1,305.2h0.75M117.4,307.8h0.75M122.5,306.7h0.75M138.8,292.5h0.75M131.2,283.5h0.75M146.8,278.8h0.75M134.0,320.0h0.75M151.7,301.9h0.75M146.6,309.4h0.75M135.2,335.2h0.75M129.3,317.7h0.75M123.0,326.7h0.75M126.4,324.5h0.75M129.1,337.5h0.75M129.4,281.0h0.75M121.5,305.5h0.75M134.2,337.0h0.75M118.6,309.8h0.75M151.3,336.4h0.75M137.6,291.6h0.75M117.9,279.9h0.75M128.0,332.1h0.75M124.8,307.5h0.75M120.5,312.5h0.75M134.6,335.1h0.75M121.7,294.4h0.75M120.4,338.5h0.75M144.1,306.1h0.75M132.4,296.8h0.75M142.8,295.8h0.75M134.1,312.9h0.75M135.6,310.0h0.75M127.2,331.9h0.75M132.2,278.7h0.75M134.6,277.8h0.75M128.6,288.8h0.75M149.5,316.6h0.75M124.4,325.1h0.75M123.3,310.7h0.75M128.7,317.1h0.75M147.7,318.7h0.75M150.4,274.9h0.75M138.2,296.5h0.75M129.4,341.8h0.75M141.8,302.4h0.75M149.5,336.4h0.75M124.3,311.4h0.75M142.6,294.9h0.75M144.5,272.1h0.75M130.7,294.5h0.75M120.1,301.6h0.75M140.0,308.6h0.75M122.9,308.8h0.75M129.7,313.8h0.75M137.3,310.4h0.75M155.4,276.7h0.75M120.1,298.0h0.75M117.0,337.9h0.75M137.1,276.0h0.75M154.5,322.8h0.75M115.8,310.1h0.75M141.5,321.6h0.75M115.0,302.4h0.75M137.6,304.8h0.75M118.9,312.3h0.75M142.3,333.2h0.75M129.4,302.1h0.75M142.1,282.8h0.75M125.0,277.2h0.75M117.0,331.5h0.75M121.7,301.1h0.75M125.6,286.0h0.75M120.9,316.5h0.75M122.4,328.7h0.75M137.3,316.4h0.75M132.7,288.8h0.75M149.5,306.8h0.75M135.3,298.0h0.75M137.1,275.0h0.75M144.5,338.2h0.75M150.7,310.0h0.75M139.1,287.1h0.75M115.4,331.6h0.75M133.6,340.3h0.75M115.2,327.2h0.75M139.9,296.8h0.75M116.6,292.3h0.75M137.1,312.8h0.75M120.3,316.0h0.75M150.8,331.5h0.75M117.9,338.2h0.75M142.3,333.2h0.75M144.2,302.9h0.75M125.7,315.6h0.75M139.4,286.3h0.75M128.1,312.9h0.75M125.0,280.6h0.75M125.0,285.4h0.75M114.5,286.4h0.75M142.9,300.2h0.75M116.9,300.7h0.75M122.3,321.8h0.75M117.6,281.7h0.75M148.5,285.5h0.75M136.7,319.3h0.75M134.0,320.2h0.75M139.0,322.0h0.75M148.7,322.4h0.75M140.8,319.6h0.75M136.0,314.3h0.75M127.3,323.3h0.75M136.1,282.5h0.75M156.4,293.7h0.75M138.4,323.3h0.75M134.4,292.5h0.75M152.2,313.3h0.75M116.2,297.5h0.75M116.5,308.1h0.75M147.9,328.2h0.75M154.5,319.1h0.75M116.0,309.0h0.75M114.8,298.3h0.75M114.2,326.7h0.75M138.7,319.1h0.75M119.8,308.8h0.75M138.0,330.6h0.75M142.5,320.8h0.75M114.5,339.9h0.75M151.4,319.7h0.75M124.7,332.6h0.75M137.7,314.2h0.75M129.1,321.6h0.75M128.6,329.0h0.75M131.2,283.1h0.75M114.0,310.4h0.75M132.3,316.7h0.75M125.2,279.9h0.75M129.2,325.9h0.75M120.8,322.1h0.75M128.3,335.4h0.75M144.0,305.0h0.75M156.3,310.3h0.75M122.3,333.9h0.75M151.2,307.2h0.75M140.4,328.1h0.75M118.2,307.9h0.75M114.4,303.0h0.75M152.0,298.7h0.75M123.9,293.6h0.75M118.4,308.2h0.75M142.1,289.9h0.75M144.3,327.7h0.75M152.5,339.5h0.75M135.4,283.9h0.75M127.3,279.5h0.75M127.5,272.8h0.75M122.6,335.4h0.75M141.2,281.5h0.75M154.5,320.1h0.75M117.5,300.3h0.75M130.5,292.6h0.75M129.0,296.4h0.75M117.3,320.7h0.75M139.5,274.9h0.75M156.3,330.2h0.75M125.8,314.9h0.75M145.2,295.9h0.75M152.7,294.0h0.75M125.5,319.5h0.75M153.5,317.8h0.75M146.1,301.4h0.75M141.7,302.1h0.75M122.2,309.6h0.75M125.8,333.4h0.75M118.2,313.5h0.75M152.5,328.9h0.75M148.7,318.3h0.75M117.5,314.9h0.75M136.7,311.4h0.75M123.0,320.3h0.75M146.9,311.2h0.75M138.6,323.0h0.75M154.6,291.2h0.75M145.2,302.0h0.75M118.1,330.9h0.75M129.9,306.4h0.75M138.7,329.0h0.75M153.2,336.0h0.75M129.8,315.5h0.75M121.9,284.3h0.75M126.0,324.2h0.75M124.5,319.9h0.75M120.5,300.0h0.75M128.7,330.4h0.75M124.6,310.6h0.75M135.9,279.1h0.75M152.4,280.8h0.75M155.0,295.4h0.75M120.7,317.0h0.75M138.4,327.2h0.75M142.9,283.8h0.75M120.4,275.3h0.75M136.8,317.6h0.75M122.4,306.6h0.75M129.5,308.8h0.75M127.8,327.8h0.75M149.0,334.5h0.75M123.9,338.1h0.75M137.1,325.5h0.75M139.1,272.7h0.75M128.1,288.8h0.75M154.0,315.9h0.75M128.1,337.1h0.75M127.9,282.5h0.75M143.7,312.5h0.75M134.9,306.5h0.75M145.1,306.6h0.75M120.4,298.4h0.75M120.2,298.4h0.75M145.6,296.0h0.75M130.6,284.2h0.75M150.8,314.1h0.75M123.9,309.0h0.75M124.2,321.7h0.75M151.1,318.1h0.75M129.4,336.6h0.75M118.5,302.9h0.75M123.3,331.3h0.75M147.0,305.9h0.75M125.3,319.5h0.75M137.8,326.6h0.75M149.9,306.5h0.75M140.2,309.0h0.75M146.3,318.0h0.75M156.0,285.4h0.75M126.7,313.2h0.75M151.7,283.2h0.75M137.6,295.0h0.75M122.5,317.8h0.75M119.5,338.8h0.75M128.0,341.9h0.75M119.7,297.4h0.75M147.1,288.4h0.75M137.9,312.9h0.75M115.7,308.8h0.75M151.7,305.4h0.75M139.5,324.7h0.75M132.9,321.7h0.75M119.9,315.0h0.75M134.1,318.0h0.75M153.4,315.9h0.75M139.0,320.1h0.75M133.6,334.6h0.75M140.1,336.5h0.75M137.6,340.0h0.75M140.7,329.7h0.75" stroke="#555" stroke-width="0.75" stroke-opacity="0.2" fill="none"/>
<rect x="308.100" y="247" width="1.5" height="113.250" fill="#000"/><rect x="308.100" y="358.950" width="112.700" height="1.3" fill="#000"/>
<path d="M305.2,260.5 H308.3" stroke="#111" stroke-width="1"/>
<text x="302.3" y="263.25" font-size="8.4" text-anchor="end" font-weight="normal" font-style="normal" fill="#2a2a2a" textLength="11.0" lengthAdjust="spacingAndGlyphs" >3.0</text>
<path d="M305.2,292.0 H308.3" stroke="#111" stroke-width="1"/>
<text x="302.3" y="294.75" font-size="8.4" text-anchor="end" font-weight="normal" font-style="normal" fill="#2a2a2a" textLength="11.0" lengthAdjust="spacingAndGlyphs" >2.0</text>
<path d="M305.2,323.5 H308.3" stroke="#111" stroke-width="1"/>
<text x="302.3" y="326.25" font-size="8.4" text-anchor="end" font-weight="normal" font-style="normal" fill="#2a2a2a" textLength="11.0" lengthAdjust="spacingAndGlyphs" >1.0</text>
<path d="M305.2,354.95 H308.3" stroke="#111" stroke-width="1"/>
<text x="302.3" y="357.7" font-size="8.4" text-anchor="end" font-weight="normal" font-style="normal" fill="#2a2a2a" textLength="11.0" lengthAdjust="spacingAndGlyphs" >0.0</text>
<text transform="translate(282.4,303) rotate(-90)" x="0" y="0" font-size="8.2" text-anchor="middle" dominant-baseline="central" fill="#2a2a2a" stroke="#2a2a2a" stroke-width="0.25" textLength="65.6" lengthAdjust="spacingAndGlyphs">Normalized expression</text>
<text x="311.25" y="238.8" font-size="9.5" fill="#2a2a2a" textLength="107.5" lengthAdjust="spacingAndGlyphs"><tspan font-style="italic">SPI1</tspan> expression in GMPs</text>
<text x="350.8" y="253.6" font-size="7.2" font-style="italic" fill="#333" textLength="23" lengthAdjust="spacingAndGlyphs">P &lt; 1e</text>
<text x="374.2" y="250.6" font-size="5.4" font-style="italic" fill="#333" stroke="#333" stroke-width="0.12" textLength="7.2" lengthAdjust="spacingAndGlyphs">-10</text>
<text x="341.65" y="369.6" font-size="7.9" text-anchor="middle" font-weight="normal" font-style="normal" fill="#2a2a2a" textLength="24.3" lengthAdjust="spacingAndGlyphs" >healthy</text>
<text x="394.35" y="369.6" font-size="7.9" text-anchor="middle" font-weight="normal" font-style="normal" fill="#2a2a2a" textLength="26.9" lengthAdjust="spacingAndGlyphs" >patients</text>
<path d="M341.50,257.00 L341.55,257.50 L341.59,258.00 L341.64,258.50 L341.69,259.00 L341.73,259.50 L341.77,260.00 L341.82,260.50 L341.86,261.00 L341.89,261.50 L341.93,262.00 L341.96,262.50 L342.00,263.00 L342.02,263.50 L342.05,264.00 L342.08,264.50 L342.10,265.00 L342.11,265.50 L342.13,266.00 L342.14,266.50 L342.16,267.00 L342.17,267.50 L342.18,268.00 L342.19,268.50 L342.19,269.00 L342.20,269.50 L342.21,270.00 L342.22,270.50 L342.23,271.00 L342.24,271.50 L342.25,272.00 L342.26,272.50 L342.27,273.00 L342.28,273.50 L342.30,274.00 L342.32,274.50 L342.34,275.00 L342.36,275.50 L342.40,276.00 L342.45,276.50 L342.52,277.00 L342.59,277.50 L342.68,278.00 L342.78,278.50 L342.88,279.00 L342.99,279.50 L343.11,280.00 L343.23,280.50 L343.35,281.00 L343.50,281.50 L343.68,282.00 L343.86,282.50 L344.07,283.00 L344.29,283.50 L344.52,284.00 L344.77,284.50 L345.02,285.00 L345.29,285.50 L345.55,286.00 L345.84,286.50 L346.16,287.00 L346.50,287.50 L346.85,288.00 L347.23,288.50 L347.61,289.00 L348.01,289.50 L348.42,290.00 L348.83,290.50 L349.24,291.00 L349.65,291.50 L350.09,292.00 L350.54,292.50 L351.01,293.00 L351.49,293.50 L351.97,294.00 L352.45,294.50 L352.93,295.00 L353.40,295.50 L353.85,296.00 L354.29,296.50 L354.71,297.00 L355.13,297.50 L355.55,298.00 L355.96,298.50 L356.37,299.00 L356.77,299.50 L357.16,300.00 L357.54,300.50 L357.91,301.00 L358.26,301.50 L358.61,302.00 L358.95,302.50 L359.29,303.00 L359.63,303.50 L359.96,304.00 L360.28,304.50 L360.59,305.00 L360.88,305.50 L361.14,306.00 L361.38,306.50 L361.60,307.00 L361.79,307.50 L361.97,308.00 L362.13,308.50 L362.28,309.00 L362.42,309.50 L362.56,310.00 L362.69,310.50 L362.83,311.00 L362.97,311.50 L363.11,312.00 L363.26,312.50 L363.41,313.00 L363.56,313.50 L363.70,314.00 L363.83,314.50 L363.96,315.00 L364.08,315.50 L364.18,316.00 L364.27,316.50 L364.35,317.00 L364.40,317.50 L364.44,318.00 L364.48,318.50 L364.52,319.00 L364.55,319.50 L364.58,320.00 L364.59,320.50 L364.60,321.00 L364.58,321.50 L364.53,322.00 L364.44,322.50 L364.34,323.00 L364.21,323.50 L364.08,324.00 L363.94,324.50 L363.80,325.00 L363.65,325.50 L363.48,326.00 L363.29,326.50 L363.08,327.00 L362.86,327.50 L362.61,328.00 L362.35,328.50 L362.08,329.00 L361.79,329.50 L361.49,330.00 L361.17,330.50 L360.81,331.00 L360.41,331.50 L359.98,332.00 L359.51,332.50 L359.02,333.00 L358.51,333.50 L357.99,334.00 L357.46,334.50 L356.93,335.00 L356.40,335.50 L355.88,336.00 L355.33,336.50 L354.78,337.00 L354.20,337.50 L353.62,338.00 L353.03,338.50 L352.44,339.00 L351.84,339.50 L351.25,340.00 L350.66,340.50 L350.08,341.00 L349.47,341.50 L348.80,342.00 L348.11,342.50 L347.42,343.00 L346.73,343.50 L346.08,344.00 L345.48,344.50 L344.96,345.00 L344.52,345.50 L344.19,346.00 L343.97,346.50 L343.77,347.00 L343.59,347.50 L343.44,348.00 L343.33,348.50 L343.26,349.00 L343.28,349.50 L343.60,350.00 L344.23,350.50 L345.08,351.00 L346.11,351.50 L347.24,352.00 L348.40,352.50 L349.89,353.00 L351.85,353.50 L353.97,354.00 L355.95,354.50 L357.76,355.00 L359.66,355.50 L361.38,356.00 L362.61,356.50 L363.21,357.00 L363.50,357.50 L319.50,357.50 L319.79,357.00 L320.39,356.50 L321.62,356.00 L323.34,355.50 L325.24,355.00 L327.05,354.50 L329.03,354.00 L331.15,353.50 L333.11,353.00 L334.60,352.50 L335.76,352.00 L336.89,351.50 L337.92,351.00 L338.77,350.50 L339.40,350.00 L339.72,349.50 L339.74,349.00 L339.67,348.50 L339.56,348.00 L339.41,347.50 L339.23,347.00 L339.03,346.50 L338.81,346.00 L338.48,345.50 L338.04,345.00 L337.52,344.50 L336.92,344.00 L336.27,343.50 L335.58,343.00 L334.89,342.50 L334.20,342.00 L333.53,341.50 L332.92,341.00 L332.34,340.50 L331.75,340.00 L331.16,339.50 L330.56,339.00 L329.97,338.50 L329.38,338.00 L328.80,337.50 L328.22,337.00 L327.67,336.50 L327.12,336.00 L326.60,335.50 L326.07,335.00 L325.54,334.50 L325.01,334.00 L324.49,333.50 L323.98,333.00 L323.49,332.50 L323.02,332.00 L322.59,331.50 L322.19,331.00 L321.83,330.50 L321.51,330.00 L321.21,329.50 L320.92,329.00 L320.65,328.50 L320.39,328.00 L320.14,327.50 L319.92,327.00 L319.71,326.50 L319.52,326.00 L319.35,325.50 L319.20,325.00 L319.06,324.50 L318.92,324.00 L318.79,323.50 L318.66,323.00 L318.56,322.50 L318.47,322.00 L318.42,321.50 L318.40,321.00 L318.41,320.50 L318.42,320.00 L318.45,319.50 L318.48,319.00 L318.52,318.50 L318.56,318.00 L318.60,317.50 L318.65,317.00 L318.73,316.50 L318.82,316.00 L318.92,315.50 L319.04,315.00 L319.17,314.50 L319.30,314.00 L319.44,313.50 L319.59,313.00 L319.74,312.50 L319.89,312.00 L320.03,311.50 L320.17,311.00 L320.31,310.50 L320.44,310.00 L320.58,309.50 L320.72,309.00 L320.87,308.50 L321.03,308.00 L321.21,307.50 L321.40,307.00 L321.62,306.50 L321.86,306.00 L322.12,305.50 L322.41,305.00 L322.72,304.50 L323.04,304.00 L323.37,303.50 L323.71,303.00 L324.05,302.50 L324.39,302.00 L324.74,301.50 L325.09,301.00 L325.46,300.50 L325.84,300.00 L326.23,299.50 L326.63,299.00 L327.04,298.50 L327.45,298.00 L327.87,297.50 L328.29,297.00 L328.71,296.50 L329.15,296.00 L329.60,295.50 L330.07,295.00 L330.55,294.50 L331.03,294.00 L331.51,293.50 L331.99,293.00 L332.46,292.50 L332.91,292.00 L333.35,291.50 L333.76,291.00 L334.17,290.50 L334.58,290.00 L334.99,289.50 L335.39,289.00 L335.77,288.50 L336.15,288.00 L336.50,287.50 L336.84,287.00 L337.16,286.50 L337.45,286.00 L337.71,285.50 L337.98,285.00 L338.23,284.50 L338.48,284.00 L338.71,283.50 L338.93,283.00 L339.14,282.50 L339.32,282.00 L339.50,281.50 L339.65,281.00 L339.77,280.50 L339.89,280.00 L340.01,279.50 L340.12,279.00 L340.22,278.50 L340.32,278.00 L340.41,277.50 L340.48,277.00 L340.55,276.50 L340.60,276.00 L340.64,275.50 L340.66,275.00 L340.68,274.50 L340.70,274.00 L340.72,273.50 L340.73,273.00 L340.74,272.50 L340.75,272.00 L340.76,271.50 L340.77,271.00 L340.78,270.50 L340.79,270.00 L340.80,269.50 L340.81,269.00 L340.81,268.50 L340.82,268.00 L340.83,267.50 L340.84,267.00 L340.86,266.50 L340.87,266.00 L340.89,265.50 L340.90,265.00 L340.92,264.50 L340.95,264.00 L340.98,263.50 L341.00,263.00 L341.04,262.50 L341.07,262.00 L341.11,261.50 L341.14,261.00 L341.18,260.50 L341.23,260.00 L341.27,259.50 L341.31,259.00 L341.36,258.50 L341.41,258.00 L341.45,257.50 L341.50,257.00 Z" fill="#2b9c9e"/>
<path d="M397.30,269.10 L397.35,269.60 L397.41,270.10 L397.46,270.60 L397.52,271.10 L397.57,271.60 L397.62,272.10 L397.68,272.60 L397.73,273.10 L397.79,273.60 L397.84,274.10 L397.89,274.60 L397.95,275.10 L398.00,275.60 L398.05,276.10 L398.11,276.60 L398.16,277.10 L398.21,277.60 L398.26,278.10 L398.31,278.60 L398.36,279.10 L398.40,279.60 L398.45,280.10 L398.51,280.60 L398.56,281.10 L398.62,281.60 L398.69,282.10 L398.76,282.60 L398.84,283.10 L398.92,283.60 L399.01,284.10 L399.11,284.60 L399.21,285.10 L399.32,285.60 L399.43,286.10 L399.55,286.60 L399.66,287.10 L399.79,287.60 L399.91,288.10 L400.04,288.60 L400.16,289.10 L400.29,289.60 L400.43,290.10 L400.56,290.60 L400.69,291.10 L400.82,291.60 L400.95,292.10 L401.08,292.60 L401.21,293.10 L401.35,293.60 L401.49,294.10 L401.63,294.60 L401.77,295.10 L401.92,295.60 L402.07,296.10 L402.22,296.60 L402.37,297.10 L402.53,297.60 L402.68,298.10 L402.84,298.60 L402.99,299.10 L403.15,299.60 L403.30,300.10 L403.46,300.60 L403.61,301.10 L403.76,301.60 L403.91,302.10 L404.06,302.60 L404.21,303.10 L404.35,303.60 L404.50,304.10 L404.64,304.60 L404.79,305.10 L404.93,305.60 L405.08,306.10 L405.22,306.60 L405.37,307.10 L405.51,307.60 L405.66,308.10 L405.81,308.60 L405.95,309.10 L406.10,309.60 L406.25,310.10 L406.41,310.60 L406.56,311.10 L406.71,311.60 L406.87,312.10 L407.03,312.60 L407.20,313.10 L407.37,313.60 L407.54,314.10 L407.72,314.60 L407.90,315.10 L408.09,315.60 L408.27,316.10 L408.45,316.60 L408.63,317.10 L408.81,317.60 L408.99,318.10 L409.16,318.60 L409.33,319.10 L409.49,319.60 L409.64,320.10 L409.79,320.60 L409.95,321.10 L410.12,321.60 L410.29,322.10 L410.46,322.60 L410.61,323.10 L410.75,323.60 L410.88,324.10 L410.97,324.60 L411.03,325.10 L411.05,325.60 L411.05,326.10 L411.05,326.60 L411.05,327.10 L411.05,327.60 L411.05,328.10 L411.05,328.60 L411.05,329.10 L411.05,329.60 L411.05,330.10 L411.05,330.60 L411.04,331.10 L410.99,331.60 L410.87,332.10 L410.71,332.60 L410.50,333.10 L410.25,333.60 L409.98,334.10 L409.69,334.60 L409.38,335.10 L409.07,335.60 L408.76,336.10 L408.42,336.60 L407.99,337.10 L407.49,337.60 L406.94,338.10 L406.36,338.60 L405.78,339.10 L405.21,339.60 L404.67,340.10 L404.19,340.60 L403.79,341.10 L403.48,341.60 L403.19,342.10 L402.90,342.60 L402.62,343.10 L402.36,343.60 L402.15,344.10 L401.97,344.60 L401.85,345.10 L401.80,345.60 L401.84,346.10 L401.99,346.60 L402.24,347.10 L402.57,347.60 L402.97,348.10 L403.41,348.60 L403.98,349.10 L405.00,349.60 L406.36,350.10 L407.92,350.60 L409.53,351.10 L411.05,351.60 L412.34,352.10 L413.57,352.60 L414.82,353.10 L416.03,353.60 L417.14,354.10 L418.11,354.60 L418.88,355.10 L419.45,355.60 L419.94,356.10 L420.30,356.60 L420.52,357.10 L420.60,357.40 L374.00,357.40 L374.08,357.10 L374.30,356.60 L374.66,356.10 L375.15,355.60 L375.72,355.10 L376.49,354.60 L377.46,354.10 L378.57,353.60 L379.78,353.10 L381.03,352.60 L382.26,352.10 L383.55,351.60 L385.07,351.10 L386.68,350.60 L388.24,350.10 L389.60,349.60 L390.62,349.10 L391.19,348.60 L391.63,348.10 L392.03,347.60 L392.36,347.10 L392.61,346.60 L392.76,346.10 L392.80,345.60 L392.75,345.10 L392.63,344.60 L392.45,344.10 L392.24,343.60 L391.98,343.10 L391.70,342.60 L391.41,342.10 L391.12,341.60 L390.81,341.10 L390.41,340.60 L389.93,340.10 L389.39,339.60 L388.82,339.10 L388.24,338.60 L387.66,338.10 L387.11,337.60 L386.61,337.10 L386.18,336.60 L385.84,336.10 L385.53,335.60 L385.22,335.10 L384.91,334.60 L384.62,334.10 L384.35,333.60 L384.10,333.10 L383.89,332.60 L383.73,332.10 L383.61,331.60 L383.56,331.10 L383.55,330.60 L383.55,330.10 L383.55,329.60 L383.55,329.10 L383.55,328.60 L383.55,328.10 L383.55,327.60 L383.55,327.10 L383.55,326.60 L383.55,326.10 L383.55,325.60 L383.57,325.10 L383.63,324.60 L383.72,324.10 L383.85,323.60 L383.99,323.10 L384.14,322.60 L384.31,322.10 L384.48,321.60 L384.65,321.10 L384.81,320.60 L384.96,320.10 L385.11,319.60 L385.27,319.10 L385.44,318.60 L385.61,318.10 L385.79,317.60 L385.97,317.10 L386.15,316.60 L386.33,316.10 L386.51,315.60 L386.70,315.10 L386.88,314.60 L387.06,314.10 L387.23,313.60 L387.40,313.10 L387.57,312.60 L387.73,312.10 L387.89,311.60 L388.04,311.10 L388.19,310.60 L388.35,310.10 L388.50,309.60 L388.65,309.10 L388.79,308.60 L388.94,308.10 L389.09,307.60 L389.23,307.10 L389.38,306.60 L389.52,306.10 L389.67,305.60 L389.81,305.10 L389.96,304.60 L390.10,304.10 L390.25,303.60 L390.39,303.10 L390.54,302.60 L390.69,302.10 L390.84,301.60 L390.99,301.10 L391.14,300.60 L391.30,300.10 L391.45,299.60 L391.61,299.10 L391.76,298.60 L391.92,298.10 L392.07,297.60 L392.23,297.10 L392.38,296.60 L392.53,296.10 L392.68,295.60 L392.83,295.10 L392.97,294.60 L393.11,294.10 L393.25,293.60 L393.39,293.10 L393.52,292.60 L393.65,292.10 L393.78,291.60 L393.91,291.10 L394.04,290.60 L394.17,290.10 L394.31,289.60 L394.44,289.10 L394.56,288.60 L394.69,288.10 L394.81,287.60 L394.94,287.10 L395.05,286.60 L395.17,286.10 L395.28,285.60 L395.39,285.10 L395.49,284.60 L395.59,284.10 L395.68,283.60 L395.76,283.10 L395.84,282.60 L395.91,282.10 L395.98,281.60 L396.04,281.10 L396.09,280.60 L396.15,280.10 L396.20,279.60 L396.24,279.10 L396.29,278.60 L396.34,278.10 L396.39,277.60 L396.44,277.10 L396.49,276.60 L396.55,276.10 L396.60,275.60 L396.65,275.10 L396.71,274.60 L396.76,274.10 L396.81,273.60 L396.87,273.10 L396.92,272.60 L396.98,272.10 L397.03,271.60 L397.08,271.10 L397.14,270.60 L397.19,270.10 L397.25,269.60 L397.30,269.10 Z" fill="#d4665c"/>
<path d="M327.2,301.5h0.75M339.2,298.6h0.75M352.4,278.7h0.75M353.4,331.7h0.75M360.8,272.5h0.75M345.6,305.2h0.75M327.2,319.8h0.75M324.3,316.7h0.75M347.8,335.8h0.75M343.3,302.7h0.75M331.4,296.1h0.75M327.9,298.9h0.75M335.6,316.6h0.75M333.0,306.7h0.75M335.7,314.3h0.75M335.6,324.6h0.75M352.3,307.8h0.75M340.2,323.6h0.75M356.3,281.8h0.75M341.9,318.6h0.75M333.1,335.8h0.75M359.4,338.5h0.75M348.1,319.7h0.75M356.1,343.9h0.75M330.7,303.7h0.75M361.5,307.0h0.75M347.4,313.8h0.75M336.6,317.2h0.75M331.4,330.8h0.75M325.1,314.0h0.75M322.4,288.7h0.75M329.2,325.2h0.75M333.9,303.0h0.75M343.1,334.4h0.75M337.6,302.5h0.75M322.9,306.9h0.75M327.0,297.4h0.75M321.8,306.9h0.75M322.7,320.9h0.75M333.4,305.3h0.75M347.6,288.6h0.75M327.4,319.8h0.75M357.8,327.0h0.75M362.1,295.4h0.75M346.6,313.1h0.75M323.0,291.5h0.75M328.6,281.0h0.75M342.3,310.6h0.75M359.9,306.5h0.75M361.8,334.2h0.75M351.7,279.0h0.75M358.0,323.2h0.75M325.0,327.2h0.75M342.1,312.6h0.75M340.9,316.4h0.75M330.0,304.5h0.75M344.5,304.3h0.75M344.4,289.6h0.75M361.4,336.1h0.75M323.8,284.7h0.75M333.4,297.3h0.75M328.1,326.3h0.75M330.3,314.6h0.75M334.2,317.1h0.75M336.3,306.8h0.75M360.8,299.3h0.75M334.7,329.9h0.75M341.1,296.4h0.75M327.9,306.8h0.75M330.2,327.3h0.75M330.0,306.9h0.75M344.7,339.8h0.75M333.5,299.8h0.75M332.6,317.3h0.75M342.8,317.9h0.75M321.7,316.6h0.75M356.9,328.6h0.75M323.1,288.6h0.75M338.1,318.5h0.75M362.1,329.3h0.75M328.0,288.8h0.75M322.9,318.3h0.75M341.2,314.2h0.75M347.2,312.2h0.75M336.9,318.0h0.75M330.2,322.1h0.75M349.7,325.6h0.75M345.5,335.7h0.75M335.4,323.4h0.75M346.6,349.2h0.75M355.9,323.6h0.75M342.4,305.4h0.75M337.1,298.4h0.75M346.6,291.3h0.75M342.0,305.5h0.75M325.1,296.2h0.75M358.6,324.6h0.75M326.2,324.8h0.75M351.9,321.3h0.75M339.0,310.9h0.75M353.6,314.8h0.75M342.8,304.8h0.75M355.1,337.1h0.75M340.5,280.4h0.75M331.3,308.0h0.75M353.0,319.4h0.75M355.4,300.7h0.75M341.9,333.0h0.75M359.6,315.3h0.75M350.4,310.6h0.75M359.8,290.4h0.75M329.1,306.0h0.75M360.2,320.4h0.75M352.9,306.0h0.75M360.2,287.9h0.75M335.6,319.9h0.75M344.1,307.3h0.75M358.2,332.7h0.75M349.0,324.9h0.75M333.0,325.9h0.75M333.0,335.0h0.75M360.4,330.3h0.75M348.9,308.4h0.75M323.2,319.5h0.75M331.8,305.0h0.75M344.2,302.0h0.75M328.9,301.9h0.75M340.4,295.6h0.75M348.8,304.1h0.75M324.5,302.9h0.75M331.6,323.9h0.75M357.6,304.6h0.75M322.7,288.5h0.75M325.6,313.2h0.75M355.1,301.3h0.75M349.1,325.0h0.75M340.6,302.9h0.75M356.7,318.9h0.75M329.7,300.2h0.75M321.2,315.4h0.75M354.8,333.6h0.75M347.5,307.2h0.75M335.0,317.7h0.75M345.1,313.3h0.75M324.4,291.3h0.75M334.0,281.8h0.75M344.6,331.9h0.75M356.1,309.2h0.75M334.2,324.6h0.75M323.5,312.3h0.75M324.7,331.8h0.75M333.7,301.6h0.75M347.1,315.6h0.75M350.3,318.3h0.75M349.9,329.5h0.75M357.4,284.8h0.75M349.4,309.9h0.75M348.9,315.3h0.75M345.7,320.7h0.75M348.7,298.0h0.75M351.4,318.6h0.75M361.6,324.9h0.75M328.5,326.9h0.75M347.8,303.1h0.75M326.2,314.1h0.75M329.6,307.2h0.75M359.6,311.4h0.75M337.8,309.9h0.75M344.6,339.0h0.75M329.8,278.9h0.75M342.2,339.7h0.75M322.0,285.9h0.75M345.2,292.4h0.75M360.7,302.0h0.75M349.6,306.5h0.75M348.7,332.9h0.75M344.1,331.8h0.75M334.3,338.6h0.75M353.2,311.3h0.75M337.2,280.7h0.75M335.0,321.9h0.75M343.8,335.4h0.75M361.6,295.5h0.75M351.5,331.7h0.75M349.1,270.9h0.75M326.3,326.5h0.75M354.6,316.0h0.75M338.6,336.3h0.75M347.1,333.9h0.75M344.3,288.7h0.75M353.7,316.7h0.75M322.3,303.9h0.75M325.1,313.7h0.75M332.7,290.8h0.75M329.4,310.1h0.75M349.4,312.3h0.75M325.9,273.0h0.75M324.8,315.5h0.75M343.0,335.5h0.75M323.8,290.7h0.75M354.0,338.9h0.75M334.7,315.8h0.75M333.6,302.3h0.75M345.8,342.1h0.75M361.6,314.8h0.75M332.8,313.3h0.75M330.4,310.8h0.75M336.3,334.7h0.75M353.4,297.0h0.75M359.8,302.3h0.75M327.4,306.1h0.75M322.2,290.4h0.75M333.7,332.5h0.75M334.3,316.2h0.75M352.1,321.1h0.75M349.3,335.0h0.75M352.1,316.2h0.75M337.3,306.0h0.75M338.8,318.0h0.75M360.2,316.7h0.75M323.0,307.2h0.75M321.9,303.6h0.75M321.7,309.9h0.75M355.0,327.0h0.75M342.5,299.3h0.75M349.9,347.4h0.75M348.2,303.6h0.75M354.8,305.5h0.75M343.0,296.7h0.75M334.7,311.6h0.75M325.7,310.5h0.75M338.1,324.7h0.75M329.1,335.5h0.75M359.5,304.6h0.75M352.7,330.5h0.75M332.8,307.4h0.75M342.3,312.1h0.75M340.5,296.8h0.75M346.1,335.2h0.75M360.4,310.7h0.75M332.5,325.7h0.75M346.6,284.0h0.75M342.0,325.0h0.75M360.7,303.0h0.75M330.1,314.5h0.75M348.0,323.9h0.75M324.8,300.1h0.75M343.6,317.7h0.75M360.9,332.0h0.75M350.9,299.7h0.75M322.3,314.9h0.75M361.9,300.7h0.75M343.5,298.2h0.75M345.1,316.1h0.75M360.3,314.7h0.75M345.3,322.6h0.75M330.2,333.1h0.75M338.9,325.5h0.75M352.2,308.8h0.75M337.5,315.8h0.75M328.0,324.2h0.75M337.2,331.8h0.75M325.3,324.6h0.75M325.2,316.3h0.75M326.1,297.6h0.75M342.2,333.7h0.75M334.4,306.1h0.75M328.5,311.8h0.75M351.7,334.6h0.75M346.4,302.0h0.75M355.1,336.7h0.75M327.7,303.3h0.75M346.8,293.4h0.75M331.9,317.2h0.75M341.6,330.2h0.75M339.6,312.2h0.75M345.3,332.0h0.75M344.7,311.6h0.75M359.2,331.2h0.75M347.0,295.6h0.75M335.6,305.8h0.75M354.0,296.3h0.75M327.7,326.8h0.75M353.3,314.8h0.75M345.0,323.3h0.75M331.8,303.9h0.75M352.3,327.1h0.75M325.7,346.7h0.75M322.5,292.5h0.75M332.3,307.8h0.75M342.0,334.2h0.75M347.2,332.7h0.75M334.1,334.2h0.75M345.1,302.8h0.75M361.8,319.0h0.75M362.5,293.6h0.75M351.0,313.5h0.75M333.6,319.8h0.75M340.8,305.2h0.75M354.6,313.0h0.75M357.9,310.3h0.75M360.6,292.9h0.75M337.1,291.6h0.75M335.1,328.9h0.75M335.0,272.1h0.75M353.7,344.4h0.75M360.8,335.5h0.75M344.4,344.9h0.75M339.4,329.3h0.75M348.7,271.7h0.75M338.5,295.9h0.75M344.7,308.1h0.75M328.8,300.7h0.75M325.1,290.4h0.75M337.9,336.8h0.75M332.2,336.5h0.75M327.3,328.4h0.75M361.1,304.7h0.75M350.0,332.8h0.75M337.2,331.1h0.75M362.3,307.8h0.75M325.5,296.9h0.75M335.5,297.3h0.75M357.8,312.7h0.75M361.3,331.5h0.75M354.0,292.6h0.75M328.7,313.3h0.75M344.6,309.4h0.75M324.0,335.2h0.75M323.6,298.6h0.75M356.9,323.6h0.75M321.1,308.0h0.75M325.0,322.9h0.75M325.4,331.2h0.75M350.6,331.4h0.75M347.1,332.3h0.75M330.0,306.6h0.75M338.1,305.8h0.75M360.6,296.6h0.75M329.8,305.1h0.75M323.8,296.4h0.75M347.9,329.0h0.75M325.5,288.5h0.75M344.1,300.8h0.75M331.6,329.3h0.75M322.4,328.4h0.75M348.4,342.3h0.75M352.3,310.8h0.75M334.1,287.9h0.75M327.6,330.6h0.75M361.6,306.5h0.75M331.2,328.3h0.75M331.2,282.1h0.75M336.2,286.1h0.75M331.0,320.6h0.75M331.2,324.6h0.75M359.5,318.9h0.75M324.4,318.2h0.75M355.7,320.5h0.75M343.2,296.8h0.75M322.5,291.1h0.75M327.3,309.6h0.75M348.3,318.5h0.75M344.3,304.5h0.75M331.1,300.6h0.75M333.1,314.1h0.75M359.6,312.5h0.75M351.7,305.3h0.75M348.5,337.4h0.75M359.4,339.2h0.75M330.6,288.5h0.75M334.7,315.6h0.75M355.9,303.8h0.75M339.3,309.0h0.75M339.6,284.6h0.75M354.7,292.6h0.75M362.6,286.2h0.75M357.9,296.5h0.75M353.1,322.9h0.75M339.6,292.3h0.75M350.4,334.9h0.75M330.4,330.0h0.75M331.6,305.7h0.75M329.5,325.0h0.75M349.4,340.1h0.75M360.4,296.1h0.75M352.4,318.8h0.75M332.1,314.9h0.75M348.5,307.5h0.75M335.6,306.3h0.75M355.3,293.3h0.75M341.2,323.1h0.75M331.4,301.6h0.75M333.1,312.8h0.75M324.6,337.8h0.75M336.0,309.7h0.75M335.1,308.0h0.75M340.1,337.9h0.75M348.4,320.1h0.75M359.6,319.6h0.75M355.0,303.2h0.75M344.9,322.3h0.75M336.0,311.1h0.75M328.1,318.5h0.75M345.6,311.9h0.75M323.7,293.0h0.75M323.2,334.3h0.75M347.7,324.8h0.75M327.8,340.3h0.75M356.3,307.6h0.75M348.9,306.1h0.75M342.8,297.4h0.75M359.9,307.4h0.75M326.5,308.6h0.75M333.9,300.4h0.75M342.1,305.4h0.75M361.2,307.2h0.75M324.3,333.0h0.75M346.0,314.0h0.75M359.3,331.1h0.75M327.0,288.8h0.75M350.3,300.9h0.75M349.7,340.1h0.75M336.0,289.1h0.75M343.3,291.7h0.75M359.9,316.9h0.75M340.5,306.5h0.75M340.0,301.4h0.75M344.5,320.8h0.75M322.3,320.8h0.75M354.7,300.8h0.75M323.1,317.8h0.75M361.7,314.5h0.75M361.4,332.5h0.75M355.0,291.6h0.75M358.2,303.6h0.75M346.6,319.5h0.75M333.7,286.1h0.75M346.1,332.5h0.75M349.2,341.4h0.75M326.9,308.5h0.75M353.2,329.1h0.75M333.6,304.7h0.75M342.3,339.7h0.75M332.1,302.3h0.75M332.7,274.6h0.75M357.5,291.3h0.75M353.0,314.6h0.75M323.6,287.2h0.75M353.1,343.6h0.75M359.5,321.8h0.75M350.3,319.5h0.75M349.8,321.8h0.75M332.0,312.6h0.75M350.1,335.1h0.75M336.8,326.1h0.75M359.4,313.4h0.75M350.3,306.5h0.75M334.4,297.9h0.75M357.8,308.2h0.75M353.2,309.7h0.75M329.4,292.8h0.75M329.9,337.5h0.75M321.5,305.1h0.75M353.0,317.9h0.75M324.6,290.8h0.75M332.5,318.3h0.75M351.6,323.1h0.75M333.7,292.3h0.75M332.9,342.4h0.75M323.8,299.6h0.75M323.1,304.8h0.75M344.8,327.1h0.75M326.8,309.0h0.75M361.1,333.9h0.75M322.1,304.0h0.75M334.1,307.9h0.75M328.7,325.2h0.75M358.4,333.1h0.75M352.2,334.4h0.75M325.6,306.3h0.75M323.3,318.0h0.75M324.5,312.7h0.75M351.8,324.2h0.75M352.1,303.3h0.75M347.3,331.9h0.75M341.3,326.0h0.75M340.3,300.0h0.75M345.8,307.8h0.75M325.5,308.8h0.75M354.1,338.0h0.75M353.3,314.6h0.75M349.3,321.6h0.75M330.8,338.1h0.75M329.9,311.6h0.75M361.8,339.3h0.75M360.5,306.4h0.75M352.1,278.4h0.75M353.7,294.9h0.75M340.1,324.9h0.75M357.5,310.9h0.75M349.7,331.4h0.75M339.2,317.8h0.75M349.3,324.7h0.75M324.3,309.7h0.75M337.4,320.6h0.75M356.1,324.9h0.75M341.0,311.0h0.75M344.1,316.2h0.75M344.3,332.5h0.75M360.2,338.1h0.75M329.4,309.6h0.75M349.3,291.7h0.75M339.7,332.1h0.75M330.8,313.8h0.75M323.0,342.0h0.75M346.4,328.2h0.75M328.6,310.3h0.75M345.2,332.3h0.75M338.9,318.3h0.75M337.9,325.8h0.75M357.9,334.3h0.75M324.7,320.1h0.75M344.3,339.5h0.75M338.2,312.1h0.75M327.3,311.0h0.75M337.4,322.4h0.75M357.1,312.1h0.75M329.2,325.3h0.75M349.3,317.9h0.75M332.2,327.0h0.75M342.6,331.6h0.75M343.9,319.6h0.75M324.0,336.5h0.75M354.6,329.1h0.75M336.7,332.9h0.75M329.7,282.0h0.75M329.6,280.2h0.75M362.0,322.5h0.75M360.2,308.6h0.75M340.5,334.0h0.75M332.3,311.5h0.75M350.5,327.6h0.75M323.2,304.3h0.75M356.7,321.9h0.75M321.2,335.8h0.75M323.1,333.5h0.75M334.9,310.6h0.75M340.0,315.6h0.75M321.2,317.9h0.75M332.9,309.4h0.75M361.9,315.3h0.75M353.2,341.1h0.75M323.4,334.5h0.75M357.5,307.9h0.75M340.4,324.4h0.75M362.2,339.7h0.75M334.4,310.0h0.75M333.9,332.7h0.75M349.3,329.9h0.75M341.3,334.9h0.75M332.5,293.1h0.75M342.8,337.7h0.75M347.5,343.3h0.75M334.0,304.2h0.75M355.3,322.5h0.75M352.1,293.7h0.75M352.3,321.2h0.75M348.5,325.5h0.75M330.6,327.7h0.75M350.4,332.8h0.75M328.3,306.5h0.75M326.9,296.0h0.75M342.0,330.9h0.75M328.2,284.0h0.75M326.3,303.6h0.75M345.6,303.8h0.75M361.6,329.0h0.75M323.3,314.0h0.75M339.5,331.8h0.75M324.8,324.1h0.75M343.4,331.9h0.75M344.9,329.5h0.75M341.4,334.5h0.75M322.6,306.1h0.75M350.2,310.2h0.75M342.1,322.2h0.75M344.8,320.0h0.75M348.8,328.9h0.75M358.7,330.4h0.75M339.1,307.6h0.75M359.0,296.6h0.75M328.3,327.1h0.75M339.9,324.7h0.75M328.4,306.0h0.75M336.5,290.2h0.75M358.6,283.1h0.75M361.6,304.6h0.75M340.7,305.7h0.75M332.5,302.1h0.75M334.4,289.1h0.75M358.5,300.2h0.75M339.2,309.4h0.75M329.3,294.1h0.75M355.7,301.9h0.75M342.2,313.5h0.75M338.8,332.7h0.75M358.6,334.2h0.75M352.0,312.2h0.75M321.6,297.1h0.75M361.2,305.7h0.75M339.9,324.2h0.75M328.5,312.1h0.75M358.9,319.4h0.75M338.5,326.8h0.75M349.5,323.6h0.75M352.2,333.1h0.75M329.1,293.6h0.75M361.9,307.0h0.75M344.4,286.1h0.75M323.4,317.6h0.75M343.3,321.5h0.75M321.8,304.6h0.75M361.7,289.9h0.75M348.7,315.0h0.75M336.8,299.6h0.75M354.2,301.5h0.75M354.0,310.9h0.75M350.1,338.8h0.75M330.8,310.1h0.75M324.9,325.3h0.75M356.6,310.6h0.75M358.0,311.8h0.75M335.4,298.1h0.75M337.1,300.9h0.75M337.8,328.7h0.75M332.5,312.9h0.75M360.0,306.3h0.75M343.1,345.1h0.75M350.5,334.6h0.75M346.2,304.9h0.75M324.7,313.5h0.75M324.0,319.6h0.75M327.1,299.4h0.75M341.7,312.9h0.75M347.1,306.5h0.75M362.4,330.4h0.75M358.5,293.8h0.75M351.7,346.2h0.75M337.0,303.3h0.75M335.3,308.7h0.75M350.0,292.2h0.75M335.4,336.5h0.75M352.8,331.7h0.75M351.3,291.3h0.75M326.0,317.5h0.75M354.4,311.4h0.75M324.9,320.9h0.75M334.2,309.2h0.75M361.6,340.3h0.75M348.1,302.7h0.75M356.6,330.8h0.75M359.6,305.6h0.75M332.0,322.9h0.75M354.1,313.0h0.75M336.5,317.7h0.75M323.7,317.6h0.75M325.4,321.8h0.75M326.3,291.4h0.75M347.3,290.5h0.75M347.7,342.1h0.75M356.3,304.3h0.75M333.3,310.2h0.75M352.7,304.2h0.75M332.1,323.2h0.75M334.0,343.9h0.75M348.3,311.9h0.75M337.3,308.2h0.75M362.5,309.5h0.75M334.2,284.4h0.75M330.9,293.3h0.75M357.6,288.4h0.75M357.3,308.1h0.75M327.8,344.1h0.75M335.0,297.9h0.75M342.2,318.7h0.75M323.8,302.0h0.75M336.4,286.5h0.75M353.0,331.9h0.75M353.0,297.0h0.75M327.2,297.4h0.75M333.6,331.2h0.75M332.2,304.0h0.75M349.5,301.4h0.75M326.5,339.0h0.75M362.0,301.7h0.75M325.8,331.6h0.75M343.0,307.3h0.75M350.3,319.5h0.75M360.4,307.5h0.75M346.5,308.8h0.75M356.6,338.2h0.75M343.1,336.2h0.75M330.2,299.8h0.75M338.5,326.5h0.75M346.3,297.9h0.75M343.1,306.9h0.75M353.6,291.4h0.75M343.4,322.8h0.75M336.9,326.6h0.75M342.4,327.4h0.75M342.6,328.6h0.75M321.4,311.7h0.75M334.7,300.5h0.75M344.8,272.9h0.75M350.6,313.3h0.75M338.8,338.1h0.75M352.0,314.1h0.75M341.9,321.6h0.75M336.4,336.8h0.75M331.1,333.3h0.75M354.2,327.2h0.75M359.4,320.6h0.75M351.3,303.3h0.75M330.2,327.6h0.75M350.4,312.3h0.75M342.0,325.6h0.75M359.5,303.0h0.75M321.3,339.1h0.75M353.2,299.3h0.75M340.4,329.7h0.75M356.6,335.2h0.75M346.2,298.7h0.75M321.3,333.6h0.75M349.8,322.9h0.75M343.2,321.2h0.75M331.0,304.6h0.75M326.1,308.6h0.75M337.6,303.6h0.75M344.3,313.9h0.75M340.9,323.2h0.75M321.7,326.6h0.75M327.2,325.4h0.75M349.3,309.4h0.75M343.7,308.8h0.75M351.9,328.0h0.75M338.2,342.7h0.75M331.7,302.9h0.75M354.2,312.4h0.75M330.1,306.2h0.75M323.5,342.3h0.75M336.3,280.3h0.75M339.8,335.1h0.75M329.7,328.3h0.75M360.8,308.6h0.75M330.6,324.7h0.75M326.1,310.5h0.75M348.5,322.3h0.75M327.0,312.9h0.75M332.6,337.0h0.75M338.2,314.7h0.75M332.4,330.6h0.75M348.2,320.1h0.75M326.8,310.5h0.75M347.8,341.4h0.75M325.8,301.6h0.75M345.1,336.3h0.75M361.7,343.5h0.75M353.7,332.7h0.75M360.4,321.4h0.75M343.7,322.1h0.75M327.6,338.1h0.75M336.4,313.3h0.75M353.3,331.7h0.75M326.5,328.4h0.75M348.6,333.2h0.75M334.4,313.9h0.75M359.2,323.1h0.75M335.6,294.2h0.75M334.4,292.2h0.75M332.3,295.5h0.75M343.5,326.8h0.75M360.6,310.1h0.75M343.5,336.5h0.75M351.8,292.3h0.75M342.7,299.9h0.75M324.4,332.2h0.75M345.4,312.5h0.75M345.7,302.8h0.75M345.8,329.1h0.75M333.4,303.5h0.75M332.1,342.7h0.75M334.7,306.0h0.75M322.3,332.8h0.75M327.7,315.3h0.75M332.9,338.3h0.75M342.3,307.2h0.75M358.9,337.4h0.75M350.2,306.9h0.75M342.5,314.2h0.75M350.8,321.9h0.75M339.5,319.1h0.75M323.0,324.2h0.75M349.6,325.2h0.75M350.3,305.3h0.75M348.3,276.5h0.75M356.5,326.4h0.75M353.5,321.1h0.75M355.5,318.9h0.75M322.9,315.8h0.75M362.6,337.9h0.75M345.5,306.8h0.75M345.7,336.6h0.75M346.5,299.4h0.75M332.2,325.0h0.75M333.6,338.9h0.75M357.5,298.9h0.75M346.0,328.4h0.75M361.0,305.4h0.75M329.7,290.1h0.75M345.4,313.3h0.75M346.0,325.1h0.75M322.5,305.9h0.75M347.0,339.3h0.75M337.0,271.3h0.75M338.9,305.7h0.75M328.7,308.8h0.75M345.7,310.4h0.75M349.0,307.2h0.75M358.1,282.3h0.75M356.0,302.4h0.75M361.8,304.9h0.75M361.6,324.2h0.75M350.1,310.8h0.75M332.7,326.7h0.75M343.5,313.8h0.75M324.5,309.0h0.75M344.6,299.1h0.75M333.7,303.5h0.75M343.3,336.0h0.75M352.2,314.5h0.75M323.5,307.4h0.75M357.4,302.7h0.75M322.6,334.0h0.75M341.4,325.6h0.75M330.1,325.0h0.75M322.6,330.2h0.75M341.0,303.9h0.75M331.9,326.3h0.75M324.3,292.2h0.75M355.3,323.5h0.75M331.2,308.1h0.75M360.0,323.6h0.75M346.3,303.1h0.75M335.8,309.7h0.75M323.5,324.1h0.75M356.6,338.3h0.75M325.5,309.2h0.75M353.3,299.8h0.75M343.0,296.7h0.75M340.0,323.8h0.75M324.4,335.6h0.75M338.5,281.1h0.75M321.7,309.3h0.75M352.7,300.1h0.75M350.4,340.0h0.75M326.7,296.8h0.75M342.2,291.7h0.75M328.4,328.5h0.75M350.6,349.0h0.75M328.9,328.7h0.75M328.2,295.9h0.75M332.8,312.3h0.75M361.4,317.7h0.75M355.0,335.3h0.75M337.8,327.7h0.75M354.0,290.4h0.75M336.0,314.7h0.75M328.8,329.0h0.75M358.3,318.6h0.75M322.5,324.1h0.75M354.0,341.4h0.75M360.9,343.0h0.75M324.5,332.1h0.75M356.7,319.3h0.75M353.5,307.7h0.75M322.8,299.2h0.75M339.5,299.4h0.75M331.8,322.4h0.75M337.0,328.4h0.75M336.9,333.1h0.75M337.4,336.5h0.75M321.4,306.4h0.75M332.3,309.1h0.75M333.1,301.3h0.75M348.0,318.6h0.75M350.0,339.6h0.75M352.2,327.8h0.75M347.5,313.5h0.75M358.2,299.0h0.75M344.1,332.2h0.75M334.0,335.4h0.75M322.7,328.5h0.75M351.2,306.7h0.75M344.4,311.3h0.75M327.8,320.2h0.75M342.3,336.9h0.75M360.3,303.9h0.75M346.2,313.2h0.75M333.9,290.4h0.75M354.6,271.9h0.75M337.4,303.9h0.75M321.6,330.6h0.75M324.3,324.1h0.75M361.0,315.4h0.75M324.9,312.5h0.75M353.6,305.4h0.75M322.3,328.7h0.75M338.6,315.9h0.75M332.7,291.6h0.75M335.3,322.2h0.75M324.8,346.4h0.75M337.7,292.2h0.75M352.6,348.0h0.75M342.8,294.6h0.75M326.5,307.4h0.75M354.5,343.1h0.75M357.2,342.1h0.75M340.0,301.0h0.75M335.9,326.2h0.75M321.7,321.5h0.75M323.9,311.8h0.75M336.6,329.2h0.75M325.7,322.5h0.75M361.3,303.1h0.75M347.8,316.0h0.75M334.0,325.3h0.75M345.3,321.9h0.75M328.0,318.3h0.75M359.2,327.1h0.75M341.8,297.7h0.75M350.1,288.1h0.75M328.6,285.7h0.75M340.7,321.4h0.75M350.7,313.3h0.75M337.1,332.0h0.75M323.7,341.8h0.75M340.5,295.4h0.75M355.3,310.9h0.75M340.2,312.8h0.75M361.8,318.6h0.75M344.3,336.5h0.75M357.7,321.2h0.75M322.4,307.7h0.75M347.3,323.4h0.75M342.2,308.7h0.75M335.9,319.1h0.75M358.5,294.5h0.75M324.8,319.2h0.75M341.2,315.5h0.75M333.7,322.8h0.75M360.9,319.3h0.75M353.5,319.4h0.75M329.3,327.1h0.75M326.3,297.5h0.75M322.0,327.6h0.75M328.5,321.8h0.75M359.6,324.4h0.75M357.3,312.0h0.75M354.3,293.6h0.75M337.7,337.5h0.75M341.0,331.4h0.75M344.9,342.4h0.75M354.7,314.6h0.75M321.2,334.6h0.75M328.5,333.9h0.75M345.2,318.7h0.75M326.9,335.3h0.75M360.0,330.4h0.75M322.9,295.0h0.75M361.5,297.7h0.75M329.9,312.0h0.75M329.1,318.1h0.75M338.7,323.2h0.75M347.5,319.4h0.75M361.8,333.8h0.75M340.8,330.0h0.75M358.4,295.0h0.75M358.0,308.8h0.75M362.0,334.8h0.75M336.0,328.1h0.75M340.7,280.2h0.75M321.9,322.2h0.75M337.0,296.9h0.75M335.7,316.5h0.75M326.2,347.2h0.75M355.6,292.2h0.75M332.6,330.9h0.75M326.4,315.7h0.75M325.8,343.1h0.75M322.0,332.8h0.75M352.4,291.0h0.75M343.1,322.3h0.75M342.8,333.0h0.75M338.2,306.0h0.75M361.1,325.6h0.75M336.7,304.4h0.75M340.8,302.1h0.75M349.7,308.6h0.75M359.6,306.5h0.75M356.7,341.1h0.75M357.7,303.5h0.75M328.6,313.1h0.75M360.3,316.0h0.75M355.3,325.2h0.75M334.7,341.8h0.75M354.5,321.7h0.75M360.6,333.1h0.75M351.9,296.8h0.75M351.7,323.6h0.75M355.9,299.9h0.75M357.6,334.0h0.75M353.5,320.5h0.75M324.2,297.6h0.75M329.7,332.5h0.75M326.0,317.6h0.75M340.4,315.9h0.75M323.7,292.8h0.75M343.9,336.1h0.75M359.5,317.2h0.75M361.8,333.3h0.75M322.6,292.2h0.75M349.4,324.4h0.75M326.9,310.6h0.75M356.9,317.9h0.75M322.3,322.1h0.75M325.3,331.5h0.75M334.5,337.6h0.75M321.2,299.4h0.75M348.5,332.9h0.75M329.6,296.1h0.75M350.9,277.3h0.75M360.5,307.2h0.75M340.6,306.6h0.75M340.6,328.7h0.75M362.5,318.8h0.75M334.1,311.6h0.75M357.9,329.4h0.75M350.7,338.3h0.75M321.4,322.5h0.75M333.4,323.0h0.75M351.0,333.5h0.75M322.9,306.5h0.75M356.7,347.3h0.75M359.0,300.1h0.75M352.6,287.9h0.75M354.7,330.9h0.75M345.9,300.1h0.75M354.6,309.1h0.75M340.4,317.1h0.75M338.0,295.7h0.75M350.2,313.2h0.75M340.4,309.4h0.75M333.9,293.7h0.75M332.0,321.0h0.75M339.2,314.0h0.75M336.9,298.9h0.75M352.4,329.4h0.75M353.6,312.5h0.75M354.2,283.8h0.75M356.1,334.6h0.75M336.1,312.4h0.75M336.4,294.1h0.75M355.9,306.6h0.75M328.5,305.1h0.75M350.2,287.8h0.75M342.8,308.5h0.75M348.7,299.4h0.75M350.0,302.6h0.75M348.8,324.1h0.75M330.8,299.0h0.75M322.0,282.6h0.75M360.6,300.3h0.75M358.3,307.2h0.75M342.0,299.7h0.75M348.5,320.7h0.75M324.8,334.7h0.75M340.1,331.5h0.75M345.5,315.2h0.75M350.1,329.5h0.75M330.1,329.4h0.75M324.9,322.5h0.75M361.0,330.2h0.75M356.3,311.1h0.75M328.4,327.7h0.75M355.2,317.3h0.75M354.8,327.2h0.75M328.6,327.2h0.75M354.5,291.0h0.75M336.9,331.7h0.75M334.9,286.3h0.75M327.7,312.9h0.75M345.6,320.3h0.75M346.5,331.1h0.75M342.3,290.2h0.75M325.2,324.2h0.75M354.1,309.3h0.75M334.2,287.6h0.75M332.0,308.5h0.75M347.7,322.4h0.75M328.7,293.2h0.75M358.9,332.5h0.75M348.0,287.8h0.75M353.8,303.9h0.75M335.2,308.6h0.75M338.8,291.2h0.75M331.5,337.3h0.75M331.4,341.5h0.75M338.3,335.8h0.75M353.7,301.7h0.75M341.9,331.3h0.75M355.7,309.2h0.75M325.6,306.5h0.75M333.0,325.1h0.75M322.5,293.6h0.75M359.0,274.0h0.75M323.6,338.0h0.75M343.5,309.4h0.75M349.0,329.4h0.75M329.5,312.8h0.75M361.8,293.9h0.75M361.8,315.6h0.75M330.9,300.0h0.75M326.8,293.0h0.75M348.0,281.5h0.75M342.4,312.2h0.75M346.1,305.2h0.75M346.7,308.9h0.75M360.8,341.0h0.75M353.0,331.7h0.75M334.0,325.4h0.75M352.1,304.1h0.75M339.7,327.6h0.75M361.6,325.1h0.75M340.9,317.5h0.75M321.5,304.1h0.75M359.1,301.9h0.75M332.5,313.2h0.75M355.2,306.0h0.75M346.4,334.4h0.75M352.0,315.1h0.75M351.7,324.1h0.75M358.7,335.7h0.75M355.7,321.6h0.75M347.8,299.0h0.75M334.6,307.9h0.75M341.5,337.5h0.75M332.6,288.4h0.75M335.0,303.1h0.75M340.2,321.7h0.75M338.6,333.0h0.75M333.0,330.9h0.75M333.7,326.3h0.75M334.0,325.7h0.75M329.0,310.4h0.75M345.2,290.6h0.75M324.8,322.7h0.75M331.3,292.2h0.75M328.1,330.0h0.75M350.4,297.2h0.75M332.6,283.5h0.75M325.1,349.2h0.75M355.2,299.6h0.75M339.2,319.8h0.75M354.5,290.7h0.75M334.3,343.3h0.75M335.4,280.7h0.75M344.3,324.3h0.75M323.9,332.6h0.75M361.6,306.8h0.75M326.5,275.5h0.75M359.0,286.4h0.75M348.4,290.7h0.75M352.8,327.9h0.75M329.7,317.6h0.75M358.1,335.7h0.75M343.3,321.8h0.75M338.2,320.6h0.75M329.0,301.8h0.75M328.1,303.1h0.75M356.9,343.2h0.75M361.3,339.8h0.75M338.4,313.7h0.75M351.1,330.0h0.75M350.1,325.9h0.75M341.5,306.2h0.75M341.0,301.4h0.75M344.0,327.4h0.75M335.4,340.9h0.75M352.0,344.2h0.75M338.4,310.2h0.75M342.0,291.0h0.75M328.6,308.0h0.75M361.6,291.5h0.75M324.2,345.2h0.75M350.8,307.3h0.75M348.5,332.6h0.75M335.3,304.7h0.75M361.6,340.5h0.75M322.5,316.0h0.75M332.3,332.2h0.75M335.0,321.0h0.75M347.7,328.4h0.75M345.5,292.2h0.75M350.6,293.5h0.75M356.8,310.1h0.75M321.8,334.4h0.75M344.3,336.6h0.75M337.7,325.4h0.75M349.7,321.1h0.75M342.9,289.0h0.75M335.5,338.2h0.75M321.3,323.5h0.75M333.9,321.7h0.75M339.6,332.0h0.75M335.0,304.1h0.75M336.8,321.4h0.75M348.1,324.5h0.75M335.0,328.1h0.75M356.4,293.8h0.75M336.0,326.5h0.75M339.1,336.2h0.75M339.0,321.9h0.75M358.6,300.0h0.75M346.2,337.2h0.75M361.1,295.0h0.75M321.2,303.3h0.75M360.8,333.0h0.75M329.1,320.5h0.75M358.3,309.2h0.75M322.8,330.1h0.75M356.6,323.1h0.75M347.3,295.9h0.75M349.5,303.7h0.75M337.3,330.7h0.75M337.1,330.3h0.75M327.5,292.1h0.75M326.8,317.7h0.75M347.0,326.1h0.75M335.2,308.7h0.75M322.2,290.4h0.75M328.1,312.5h0.75M328.1,338.5h0.75M329.0,326.4h0.75M339.9,302.6h0.75M358.9,332.5h0.75M345.2,324.1h0.75M351.8,306.6h0.75M325.4,305.6h0.75M349.8,300.3h0.75M357.0,311.8h0.75M362.4,310.2h0.75M350.6,306.6h0.75M346.3,333.8h0.75M361.0,327.8h0.75M326.4,316.0h0.75M354.0,340.8h0.75M350.9,324.2h0.75M351.2,339.9h0.75M335.8,331.7h0.75M324.3,322.6h0.75M326.9,325.0h0.75M349.2,329.1h0.75M334.0,328.1h0.75M360.5,333.9h0.75M326.1,309.0h0.75M354.9,309.8h0.75M340.9,304.3h0.75M333.2,337.7h0.75M331.6,336.2h0.75M335.7,314.1h0.75M336.3,311.8h0.75M330.4,297.6h0.75M330.1,342.6h0.75M361.4,324.0h0.75M338.5,340.9h0.75M346.9,322.1h0.75M350.2,316.8h0.75M334.8,327.5h0.75M359.9,334.9h0.75M333.2,332.5h0.75M329.0,309.5h0.75M322.9,316.5h0.75M331.9,339.2h0.75M323.6,316.7h0.75M347.1,330.1h0.75M344.9,317.6h0.75M321.9,331.5h0.75M360.5,291.4h0.75M351.3,270.7h0.75M343.9,293.8h0.75M360.3,313.5h0.75M343.0,310.6h0.75M328.3,340.3h0.75M353.4,347.9h0.75M360.7,297.6h0.75M323.5,332.2h0.75M342.0,316.9h0.75M330.4,332.0h0.75M358.6,310.6h0.75M325.0,328.5h0.75M354.6,273.5h0.75M329.6,315.1h0.75M347.7,308.6h0.75M349.8,304.7h0.75M352.6,307.0h0.75M323.2,313.1h0.75M341.1,315.8h0.75M326.2,317.3h0.75M326.3,327.2h0.75M327.7,331.4h0.75M327.2,341.0h0.75M359.9,324.2h0.75M344.3,304.8h0.75M331.6,320.1h0.75M341.2,313.4h0.75M323.3,303.6h0.75M330.0,308.7h0.75M347.1,303.7h0.75M349.9,318.1h0.75M346.6,291.0h0.75M362.0,318.5h0.75M361.8,312.3h0.75M355.7,274.8h0.75M340.4,306.1h0.75M352.5,341.8h0.75M331.4,320.2h0.75M357.0,290.8h0.75M331.1,320.1h0.75M362.2,325.5h0.75M321.6,297.6h0.75M354.1,312.1h0.75M341.8,302.4h0.75M355.0,318.7h0.75M342.7,331.1h0.75M355.7,304.0h0.75M350.5,298.0h0.75M347.6,297.4h0.75M360.6,321.7h0.75M325.9,291.4h0.75M359.5,317.4h0.75M342.7,330.5h0.75M350.4,328.7h0.75M348.8,324.2h0.75M337.3,277.5h0.75M342.9,313.4h0.75M361.5,304.1h0.75M341.3,317.0h0.75M359.1,298.7h0.75M321.4,297.7h0.75M344.9,340.1h0.75M349.7,334.7h0.75M337.4,294.6h0.75M324.4,331.7h0.75M354.0,291.1h0.75M352.3,308.9h0.75M336.9,347.1h0.75M325.1,339.1h0.75M355.9,315.0h0.75M353.3,325.3h0.75M355.7,310.9h0.75M355.1,332.6h0.75M331.9,307.9h0.75M347.0,301.8h0.75M340.4,298.2h0.75M337.2,322.2h0.75M338.1,319.2h0.75M349.0,336.2h0.75M362.5,298.6h0.75M340.7,330.0h0.75M336.2,339.1h0.75M347.1,327.6h0.75M347.2,295.9h0.75M337.9,298.4h0.75M347.9,293.6h0.75M348.3,308.6h0.75M352.1,328.2h0.75M327.9,298.0h0.75M348.1,314.0h0.75M338.4,287.8h0.75M357.6,324.3h0.75M346.7,294.3h0.75M354.7,329.5h0.75M354.7,321.7h0.75M329.9,300.8h0.75M324.2,324.8h0.75M352.6,309.6h0.75M323.3,317.4h0.75M360.4,318.8h0.75M349.7,305.7h0.75" stroke="#555" stroke-width="0.75" stroke-opacity="0.19" fill="none"/>
<path d="M399.7,317.2h0.75M402.2,327.7h0.75M387.5,298.5h0.75M415.6,326.8h0.75M403.7,338.6h0.75M402.5,273.9h0.75M408.0,340.2h0.75M414.5,311.5h0.75M383.5,316.2h0.75M387.2,340.0h0.75M416.9,333.1h0.75M404.4,315.6h0.75M413.4,343.7h0.75M390.0,284.5h0.75M417.5,327.7h0.75M394.2,321.0h0.75M409.9,337.2h0.75M414.4,281.0h0.75M397.8,311.9h0.75M393.6,319.9h0.75M397.0,292.1h0.75M381.5,326.5h0.75M379.1,335.1h0.75M415.8,338.0h0.75M403.5,299.6h0.75M379.6,321.3h0.75M400.9,344.3h0.75M386.5,291.4h0.75M411.4,329.3h0.75M391.2,310.1h0.75M376.8,338.2h0.75M404.1,325.3h0.75M417.9,337.4h0.75M407.1,288.5h0.75M416.5,325.3h0.75M380.4,317.1h0.75M388.3,296.3h0.75M408.7,316.8h0.75M395.5,330.8h0.75M383.6,324.2h0.75M390.5,324.4h0.75M388.1,309.8h0.75M405.6,320.9h0.75M408.6,318.4h0.75M407.0,338.0h0.75M404.2,336.5h0.75M407.5,317.9h0.75M414.9,321.2h0.75M387.2,310.3h0.75M387.8,323.5h0.75M417.3,298.5h0.75M413.1,342.2h0.75M404.0,317.0h0.75M409.4,277.6h0.75M403.1,310.8h0.75M389.0,340.9h0.75M399.8,311.1h0.75M386.4,315.5h0.75M380.2,343.2h0.75M390.3,332.5h0.75M410.1,314.3h0.75M381.9,301.6h0.75M378.0,315.8h0.75M386.0,314.5h0.75M409.0,337.6h0.75M413.2,322.4h0.75M387.6,339.0h0.75M416.4,344.1h0.75M396.2,336.3h0.75M404.9,316.6h0.75M404.1,315.8h0.75M394.8,322.8h0.75M411.4,327.9h0.75M413.8,335.0h0.75M395.9,333.8h0.75M388.7,311.7h0.75M415.4,330.6h0.75M405.5,315.1h0.75M391.4,332.1h0.75M383.0,278.9h0.75M392.7,334.9h0.75M394.7,329.0h0.75M410.3,299.9h0.75M405.6,307.5h0.75M397.5,311.8h0.75M414.2,321.7h0.75M400.7,338.2h0.75M412.4,342.6h0.75M378.8,325.3h0.75M379.5,296.0h0.75M412.2,343.7h0.75M407.0,341.6h0.75M387.0,294.3h0.75M381.2,327.5h0.75M379.1,327.5h0.75M389.5,327.7h0.75M413.3,330.3h0.75M384.2,276.2h0.75M386.6,311.2h0.75M411.0,312.9h0.75M383.9,327.2h0.75M386.1,294.6h0.75M407.5,309.3h0.75M412.1,302.0h0.75M415.7,288.0h0.75M378.0,319.5h0.75M389.9,304.6h0.75M401.8,320.3h0.75M390.0,304.7h0.75M407.2,332.7h0.75M385.6,296.6h0.75M401.5,332.0h0.75M382.9,327.3h0.75M382.4,301.1h0.75M409.6,314.9h0.75M402.5,315.2h0.75M399.9,318.5h0.75M391.9,328.0h0.75M404.4,280.2h0.75M416.1,301.8h0.75M391.8,328.9h0.75M378.1,294.7h0.75M386.9,334.9h0.75M408.9,314.7h0.75M388.6,285.7h0.75M407.8,331.6h0.75M384.7,307.1h0.75M401.2,345.6h0.75M391.5,339.3h0.75M398.5,337.0h0.75M391.8,337.1h0.75M401.0,291.9h0.75M407.1,283.5h0.75M405.5,315.9h0.75M394.2,317.3h0.75M377.7,316.5h0.75M410.8,325.3h0.75M380.6,332.4h0.75M392.0,332.7h0.75M409.2,339.7h0.75M417.2,328.2h0.75M406.6,336.7h0.75M380.9,293.9h0.75M416.6,283.2h0.75M378.1,318.4h0.75M377.6,336.5h0.75M407.0,315.8h0.75M414.7,296.6h0.75M403.0,298.3h0.75M412.9,306.3h0.75M403.3,336.1h0.75M379.7,312.5h0.75M402.1,335.5h0.75M408.3,339.9h0.75M396.8,332.2h0.75M405.9,339.3h0.75M395.8,307.9h0.75M380.4,303.6h0.75M412.3,307.3h0.75M384.8,280.7h0.75M384.7,339.6h0.75M381.5,304.8h0.75M390.6,326.1h0.75M393.0,309.5h0.75M384.4,322.6h0.75M382.9,318.0h0.75M395.1,330.0h0.75M376.6,304.1h0.75M396.8,309.9h0.75M380.6,299.2h0.75M381.7,312.1h0.75M381.1,334.7h0.75M411.7,342.0h0.75M410.4,279.9h0.75M417.5,335.2h0.75M409.9,330.5h0.75M397.4,292.6h0.75M392.6,301.0h0.75M400.7,336.0h0.75M402.6,303.5h0.75M417.6,338.1h0.75M390.2,322.7h0.75M414.0,344.0h0.75M416.0,321.0h0.75M416.2,298.6h0.75M402.4,325.2h0.75M401.9,318.5h0.75M417.9,291.4h0.75M393.5,333.6h0.75M408.7,337.6h0.75M379.5,342.3h0.75M386.1,326.6h0.75M397.3,323.9h0.75M407.0,303.7h0.75M383.6,341.9h0.75M410.5,330.5h0.75M400.2,327.4h0.75M381.8,328.7h0.75M377.7,334.9h0.75M392.8,313.3h0.75M410.6,296.4h0.75M417.1,345.3h0.75M408.0,284.8h0.75M385.6,309.1h0.75M413.8,320.6h0.75M382.7,286.5h0.75M392.8,311.2h0.75M404.2,335.9h0.75M390.3,326.0h0.75M389.9,323.9h0.75M394.3,281.1h0.75M414.1,317.4h0.75M395.8,297.8h0.75M379.8,315.6h0.75M391.0,315.5h0.75M400.7,317.5h0.75M398.8,311.4h0.75M416.3,331.9h0.75M397.5,318.9h0.75M409.3,338.2h0.75M407.6,312.9h0.75M395.7,299.8h0.75M393.7,314.3h0.75M395.4,336.3h0.75M381.1,313.9h0.75M379.7,334.2h0.75M380.9,328.6h0.75M381.6,308.3h0.75M379.5,303.5h0.75M392.7,296.7h0.75M382.3,318.7h0.75M417.2,328.4h0.75M393.2,310.7h0.75M376.3,341.2h0.75M403.8,279.8h0.75M406.1,332.8h0.75M415.9,301.9h0.75M386.4,345.7h0.75M389.5,295.0h0.75M407.5,339.2h0.75M402.4,315.9h0.75M402.3,310.0h0.75M415.4,286.6h0.75M417.9,305.7h0.75M376.5,315.2h0.75M392.4,340.3h0.75M415.7,342.4h0.75M376.9,292.5h0.75M390.3,323.7h0.75M408.2,284.5h0.75M379.2,295.8h0.75M400.8,325.5h0.75M414.7,322.2h0.75M398.5,337.4h0.75M376.3,338.3h0.75M380.9,300.9h0.75M393.3,326.6h0.75M376.6,333.0h0.75M403.9,332.0h0.75M387.4,323.6h0.75M390.5,321.6h0.75M409.0,323.7h0.75M406.9,316.8h0.75M409.7,323.8h0.75M384.1,337.2h0.75M390.5,313.4h0.75M402.8,318.0h0.75M397.2,317.9h0.75M410.0,335.9h0.75M393.5,307.2h0.75M414.3,317.9h0.75M385.4,331.0h0.75M403.6,315.5h0.75M409.7,335.4h0.75M417.6,322.5h0.75M392.0,295.0h0.75M413.2,314.6h0.75M401.4,299.9h0.75M403.0,317.9h0.75M386.9,314.3h0.75M413.0,313.2h0.75M378.9,334.2h0.75M417.7,337.5h0.75M399.9,331.3h0.75M400.5,331.8h0.75M383.4,337.1h0.75M404.5,338.5h0.75M382.6,302.2h0.75M411.2,337.4h0.75M407.5,301.1h0.75M383.2,309.3h0.75M409.2,332.8h0.75M402.7,299.8h0.75M388.6,342.1h0.75M404.0,339.4h0.75M405.3,274.0h0.75M397.1,326.5h0.75M405.2,339.1h0.75M409.3,322.7h0.75M413.5,322.8h0.75M411.0,324.5h0.75M380.6,323.0h0.75M412.3,323.9h0.75M416.0,328.3h0.75M396.4,341.6h0.75M414.1,293.0h0.75M385.5,306.6h0.75M377.8,276.6h0.75M394.9,291.3h0.75M381.1,304.0h0.75M381.6,337.6h0.75M394.7,311.6h0.75M417.0,324.9h0.75M397.9,311.4h0.75M417.6,344.5h0.75M397.5,303.6h0.75M395.6,316.1h0.75M377.0,314.7h0.75M379.6,305.3h0.75M412.8,291.9h0.75M405.0,315.8h0.75M399.8,304.1h0.75M413.5,282.7h0.75M403.4,337.0h0.75M387.9,313.2h0.75M412.5,278.7h0.75M406.7,325.4h0.75M379.5,319.8h0.75M411.0,328.4h0.75M391.4,314.1h0.75M411.6,299.0h0.75M410.8,326.6h0.75M414.2,315.9h0.75M380.9,336.7h0.75M407.0,312.2h0.75M389.2,305.6h0.75M412.1,303.3h0.75M380.9,308.0h0.75M412.9,307.2h0.75M417.0,321.6h0.75M397.8,314.8h0.75M399.1,342.4h0.75M401.8,304.8h0.75M413.8,339.9h0.75M379.8,312.8h0.75M411.9,319.9h0.75M390.8,341.7h0.75M393.2,331.9h0.75M412.8,340.7h0.75M381.2,322.5h0.75M382.1,311.4h0.75M404.7,328.3h0.75M406.7,328.6h0.75M385.6,286.8h0.75M405.2,296.2h0.75M391.1,340.4h0.75M377.3,329.9h0.75M387.1,334.2h0.75M382.9,303.3h0.75M395.1,342.9h0.75M395.1,310.8h0.75M392.3,298.9h0.75M414.3,314.2h0.75M392.3,313.7h0.75M384.1,289.5h0.75M415.9,335.0h0.75M403.0,336.0h0.75M416.1,304.1h0.75M395.1,323.1h0.75M401.5,335.9h0.75M389.9,314.9h0.75M416.5,321.1h0.75M387.7,306.9h0.75M415.2,319.4h0.75M390.4,311.5h0.75M408.3,333.9h0.75M403.3,301.3h0.75M408.8,285.0h0.75M384.7,337.7h0.75M418.1,301.9h0.75M397.0,323.2h0.75M379.2,329.8h0.75M404.8,312.2h0.75M379.4,339.7h0.75M403.3,313.1h0.75M406.2,304.1h0.75M384.6,290.8h0.75M381.0,337.5h0.75M381.8,305.1h0.75M403.7,337.7h0.75M407.5,319.0h0.75M414.7,339.6h0.75M389.7,293.4h0.75M380.2,335.7h0.75M402.5,343.4h0.75M411.2,329.5h0.75M406.6,298.5h0.75M396.7,345.7h0.75M387.4,333.0h0.75M406.7,305.3h0.75M412.1,342.7h0.75M385.3,293.8h0.75M405.9,298.2h0.75M408.5,280.0h0.75M418.0,324.5h0.75M391.9,316.5h0.75M392.6,293.5h0.75M378.0,320.6h0.75M382.8,336.7h0.75M407.4,294.6h0.75M387.5,326.4h0.75M414.4,301.7h0.75M389.5,321.3h0.75M409.5,313.1h0.75M391.2,308.9h0.75M407.9,279.2h0.75M394.5,324.1h0.75M385.0,318.3h0.75M384.7,328.7h0.75M388.1,303.3h0.75M381.1,343.9h0.75M412.5,281.7h0.75M414.8,304.2h0.75M409.5,326.7h0.75M376.3,298.5h0.75M413.2,308.1h0.75M409.5,321.0h0.75M411.5,331.2h0.75M402.6,335.9h0.75M384.8,311.4h0.75M388.6,327.3h0.75M392.4,282.7h0.75M383.9,337.0h0.75M377.3,328.0h0.75M416.1,337.6h0.75M392.5,305.0h0.75M401.6,320.4h0.75M380.6,330.8h0.75M412.1,283.0h0.75M407.7,334.7h0.75M377.8,329.2h0.75M384.5,332.7h0.75M407.4,301.0h0.75M378.5,332.0h0.75M377.1,323.7h0.75M381.1,300.3h0.75M382.1,298.5h0.75M408.6,335.5h0.75M409.0,316.1h0.75M400.1,308.9h0.75M388.9,314.5h0.75M409.0,328.7h0.75M402.7,299.0h0.75M378.7,301.1h0.75M384.0,327.2h0.75M405.3,337.4h0.75M399.9,327.9h0.75M392.7,340.8h0.75M398.4,309.8h0.75M386.3,313.8h0.75M400.7,314.6h0.75M381.9,314.1h0.75M417.6,308.4h0.75M410.7,332.5h0.75M397.0,309.4h0.75M417.2,317.1h0.75M404.6,319.6h0.75M400.4,345.4h0.75M403.3,312.4h0.75M405.6,328.6h0.75M417.7,311.9h0.75M409.0,332.9h0.75M386.1,315.5h0.75M378.6,282.3h0.75M414.7,321.7h0.75M407.1,313.1h0.75M400.6,308.5h0.75M396.7,310.1h0.75M416.0,274.4h0.75M377.9,330.0h0.75M382.6,323.1h0.75M389.4,326.4h0.75M418.0,323.6h0.75M405.3,315.1h0.75M401.3,318.9h0.75M390.5,319.4h0.75M382.7,338.6h0.75M376.8,313.8h0.75M382.1,300.4h0.75M383.4,293.1h0.75M397.6,313.0h0.75M391.5,324.0h0.75M417.2,324.3h0.75M414.8,330.2h0.75M399.4,327.5h0.75M383.1,293.1h0.75M389.4,315.8h0.75M377.2,314.8h0.75M403.9,296.6h0.75M392.3,324.6h0.75M415.0,332.1h0.75M389.4,286.9h0.75M411.9,322.3h0.75M392.6,297.0h0.75M403.5,332.0h0.75M391.0,322.9h0.75M410.1,291.3h0.75M385.5,321.8h0.75M382.8,307.2h0.75M378.3,304.6h0.75M392.1,327.6h0.75M406.9,316.5h0.75M395.5,339.8h0.75M411.5,338.6h0.75M400.7,335.8h0.75M398.5,316.7h0.75M397.0,338.2h0.75M377.8,291.7h0.75M400.9,332.2h0.75M384.1,314.3h0.75M379.6,336.2h0.75M380.4,284.0h0.75M383.0,324.0h0.75M402.2,291.4h0.75M388.1,310.8h0.75M388.5,323.6h0.75M393.5,298.9h0.75M416.3,328.6h0.75M386.9,321.8h0.75M388.7,306.3h0.75M386.6,322.8h0.75M389.3,318.8h0.75M388.6,284.9h0.75M411.0,329.6h0.75M417.2,329.7h0.75M392.6,338.2h0.75M412.5,340.0h0.75M380.6,314.4h0.75M396.3,326.8h0.75M410.6,325.2h0.75M379.9,288.8h0.75M418.0,330.0h0.75M392.9,309.0h0.75M397.1,317.8h0.75M415.8,325.7h0.75M414.7,321.2h0.75M384.9,309.4h0.75M395.2,335.9h0.75M407.0,294.7h0.75M395.4,325.3h0.75M415.6,303.0h0.75M384.5,339.3h0.75M417.1,339.9h0.75M402.2,329.6h0.75M401.9,337.0h0.75M404.8,331.6h0.75M387.2,326.9h0.75M394.7,331.0h0.75M385.3,338.1h0.75M409.9,305.6h0.75M390.0,330.0h0.75M382.1,302.7h0.75M413.5,319.0h0.75M390.5,313.3h0.75M416.0,326.5h0.75M394.8,326.4h0.75M403.4,337.5h0.75M409.1,334.6h0.75M397.8,290.6h0.75M415.8,302.2h0.75M410.1,287.4h0.75M413.6,329.6h0.75M398.4,313.6h0.75M381.5,343.3h0.75M383.4,305.3h0.75M382.2,341.6h0.75M398.5,331.0h0.75M416.0,331.4h0.75M399.3,325.2h0.75M394.2,337.1h0.75M380.8,306.6h0.75M391.9,336.2h0.75M383.8,336.6h0.75M395.3,325.2h0.75M395.4,327.5h0.75M415.3,306.0h0.75M392.7,320.8h0.75M413.2,324.6h0.75M377.9,311.8h0.75M390.6,286.9h0.75M406.4,341.3h0.75M394.9,332.9h0.75M379.4,314.7h0.75M391.1,322.1h0.75M399.3,324.4h0.75M416.2,341.5h0.75M386.1,323.1h0.75M379.9,330.1h0.75M407.9,333.1h0.75M401.9,294.9h0.75M390.8,324.3h0.75M392.5,339.5h0.75M389.9,334.2h0.75M404.0,339.3h0.75M412.5,301.3h0.75M388.7,331.9h0.75M414.3,309.8h0.75M393.7,336.6h0.75M396.7,332.7h0.75M386.9,315.0h0.75M379.7,323.9h0.75M384.6,319.6h0.75M386.6,340.3h0.75M394.5,323.1h0.75M396.8,292.8h0.75M411.6,322.2h0.75M391.2,280.9h0.75M408.3,299.3h0.75M386.8,320.4h0.75M396.2,319.0h0.75M379.3,291.6h0.75M413.6,313.3h0.75M390.9,309.9h0.75M403.0,310.0h0.75M399.7,317.9h0.75M396.6,284.9h0.75M386.1,285.1h0.75M410.7,306.6h0.75M395.9,329.6h0.75M381.6,339.9h0.75M380.3,331.1h0.75M397.3,292.6h0.75M399.8,334.3h0.75M387.7,334.0h0.75M386.0,335.2h0.75M411.0,330.1h0.75M404.8,308.2h0.75M382.1,320.7h0.75M410.0,318.3h0.75M378.5,285.7h0.75M411.5,322.5h0.75M411.2,308.6h0.75M381.3,341.3h0.75M417.7,327.5h0.75M413.9,333.8h0.75M383.6,284.6h0.75M403.5,329.8h0.75M395.6,332.9h0.75M382.2,319.2h0.75M384.8,307.6h0.75M384.8,320.0h0.75M404.3,323.1h0.75M400.1,317.4h0.75M416.9,311.4h0.75M389.0,327.8h0.75M396.3,337.1h0.75M391.7,308.5h0.75M392.1,336.4h0.75M400.6,288.9h0.75M409.1,328.5h0.75M404.8,313.1h0.75M380.9,321.9h0.75M387.7,313.5h0.75M402.4,293.1h0.75M408.1,301.8h0.75M412.5,344.8h0.75M391.3,317.3h0.75M395.4,341.0h0.75M378.1,321.4h0.75M397.9,337.8h0.75M388.9,318.2h0.75M398.2,345.0h0.75M401.3,319.6h0.75M383.3,308.3h0.75M379.3,302.3h0.75M406.1,291.8h0.75M406.4,296.6h0.75M417.6,327.9h0.75M397.3,314.1h0.75M378.9,336.4h0.75M379.3,303.9h0.75M416.9,339.4h0.75M407.0,303.5h0.75M383.0,308.9h0.75M393.9,313.0h0.75M384.3,308.7h0.75M408.7,317.2h0.75M406.8,332.9h0.75M415.0,291.8h0.75M403.7,307.3h0.75M393.1,289.3h0.75M414.4,332.0h0.75M392.2,297.7h0.75M407.0,321.1h0.75M385.3,336.2h0.75M387.7,311.8h0.75M401.5,296.9h0.75M388.4,308.8h0.75M412.2,340.3h0.75M397.8,294.7h0.75M415.1,336.1h0.75M401.4,297.6h0.75M400.3,300.9h0.75M397.4,332.2h0.75M384.3,326.6h0.75M390.8,312.1h0.75M413.7,329.2h0.75M404.6,299.9h0.75M408.4,336.4h0.75M393.6,323.9h0.75M384.6,340.4h0.75M409.5,324.8h0.75M393.6,323.9h0.75M408.8,335.5h0.75M378.9,324.2h0.75M390.9,293.5h0.75M403.4,325.8h0.75M415.2,310.8h0.75M384.5,326.5h0.75M417.3,345.6h0.75M404.4,325.7h0.75M384.5,334.8h0.75M376.7,313.7h0.75M415.1,278.6h0.75M404.5,287.4h0.75M406.4,281.2h0.75M393.5,305.7h0.75M379.8,309.2h0.75M396.2,312.0h0.75M403.1,327.3h0.75M387.7,331.1h0.75M416.4,331.5h0.75M408.6,331.0h0.75M376.9,335.4h0.75M388.5,330.2h0.75M413.9,319.0h0.75M407.5,316.8h0.75M409.8,293.0h0.75M384.0,279.0h0.75M413.1,335.7h0.75M403.8,300.0h0.75M393.1,336.3h0.75M404.8,316.1h0.75M386.4,290.3h0.75M413.8,333.9h0.75M379.4,329.4h0.75M387.3,345.4h0.75M406.3,322.8h0.75M393.7,339.6h0.75M413.2,321.2h0.75M410.8,308.6h0.75M404.7,316.3h0.75M391.2,327.8h0.75M394.5,337.1h0.75M390.0,333.4h0.75M389.2,339.5h0.75M376.6,322.5h0.75M387.0,319.0h0.75M405.3,322.2h0.75M398.9,339.8h0.75M390.0,314.8h0.75M389.8,289.9h0.75M383.6,315.4h0.75M379.3,327.2h0.75M382.6,334.7h0.75M402.2,340.7h0.75M415.1,328.8h0.75M404.9,333.5h0.75M390.6,333.4h0.75M399.7,333.5h0.75M381.7,325.0h0.75M379.6,340.4h0.75M378.7,337.2h0.75M399.9,277.1h0.75M400.7,297.7h0.75M382.6,345.3h0.75M415.7,327.6h0.75M382.0,299.3h0.75M397.5,338.3h0.75M403.4,294.1h0.75M377.4,322.7h0.75M387.5,315.6h0.75M398.5,310.0h0.75M404.5,307.2h0.75M404.7,293.7h0.75M403.9,315.0h0.75M379.2,295.2h0.75M378.5,326.1h0.75M412.2,311.9h0.75M382.3,331.7h0.75M391.3,340.1h0.75M411.4,337.3h0.75M378.0,330.8h0.75M412.1,331.9h0.75M403.6,294.0h0.75M392.4,343.2h0.75M386.2,324.0h0.75M398.0,322.8h0.75M410.7,328.2h0.75M384.6,303.3h0.75M386.5,319.5h0.75M397.1,297.7h0.75M410.1,338.7h0.75M393.6,320.7h0.75M393.4,298.8h0.75M416.5,342.5h0.75M398.6,324.0h0.75M409.1,331.3h0.75M404.4,332.9h0.75M399.1,329.1h0.75M394.3,318.3h0.75M403.6,309.8h0.75M411.1,288.7h0.75M382.1,325.9h0.75M387.4,296.8h0.75M385.0,314.6h0.75M410.1,337.0h0.75M389.7,337.9h0.75M394.9,333.9h0.75M397.7,303.4h0.75M416.3,340.1h0.75M376.3,299.0h0.75M383.9,338.5h0.75M412.6,331.3h0.75M395.3,342.4h0.75M391.5,344.1h0.75M415.7,322.3h0.75M380.6,311.8h0.75M376.8,338.7h0.75M414.2,311.6h0.75M410.5,312.4h0.75M398.7,323.5h0.75M387.3,299.7h0.75M408.8,318.7h0.75M382.7,299.2h0.75M394.0,318.8h0.75M383.3,338.1h0.75M393.2,339.3h0.75M376.3,341.8h0.75M395.4,329.9h0.75M395.1,330.9h0.75M417.4,317.8h0.75M392.0,337.5h0.75M398.4,298.6h0.75M382.4,301.6h0.75M387.9,297.3h0.75M385.7,316.4h0.75M417.0,290.1h0.75M381.5,329.1h0.75M403.1,302.9h0.75M411.0,328.6h0.75M415.7,323.8h0.75M405.7,328.4h0.75M383.7,329.0h0.75M414.7,332.7h0.75M397.8,320.1h0.75M398.3,323.7h0.75M413.6,307.5h0.75M376.8,320.9h0.75M406.3,294.0h0.75M408.1,341.3h0.75M404.2,339.6h0.75M384.2,292.0h0.75M414.5,278.7h0.75M386.2,316.1h0.75M389.7,321.9h0.75M411.2,320.0h0.75M414.8,313.3h0.75M387.2,325.9h0.75M396.2,316.2h0.75M411.8,316.5h0.75M398.7,284.7h0.75M385.7,324.4h0.75M391.7,293.2h0.75M402.7,335.8h0.75M406.5,319.4h0.75M389.0,313.8h0.75M384.1,327.4h0.75M408.9,336.9h0.75M388.8,301.8h0.75M386.4,316.1h0.75M388.2,342.9h0.75M385.8,336.2h0.75M381.7,315.6h0.75M392.3,314.3h0.75M384.0,333.8h0.75M403.3,293.8h0.75M380.4,297.1h0.75M391.1,323.8h0.75M415.9,323.7h0.75M395.3,323.5h0.75M413.6,331.7h0.75M385.7,336.5h0.75M409.1,316.1h0.75M379.7,311.9h0.75M416.1,334.9h0.75M416.5,307.1h0.75M405.2,336.8h0.75M384.6,329.2h0.75M407.9,334.9h0.75M409.9,326.6h0.75M403.6,296.0h0.75M408.7,329.5h0.75M386.8,320.5h0.75M408.9,303.2h0.75M385.6,295.8h0.75M397.4,308.4h0.75M392.7,298.0h0.75M385.1,299.2h0.75M386.9,335.1h0.75M413.3,341.0h0.75M378.7,345.3h0.75M396.7,322.9h0.75M396.4,323.8h0.75M380.8,290.0h0.75M379.6,297.3h0.75M394.4,331.8h0.75M391.1,323.8h0.75M387.0,323.7h0.75M386.8,331.2h0.75M385.7,333.4h0.75M402.9,329.6h0.75M417.1,278.7h0.75M389.0,322.5h0.75M392.9,334.7h0.75M405.4,334.1h0.75M389.0,341.2h0.75M381.4,321.8h0.75M403.4,321.5h0.75M391.0,282.7h0.75M376.3,321.4h0.75M389.9,323.7h0.75M413.0,338.8h0.75M378.3,337.2h0.75M413.5,290.7h0.75M401.9,299.6h0.75M411.1,315.0h0.75M399.7,332.2h0.75M405.9,301.4h0.75M413.3,332.1h0.75M383.3,324.4h0.75M380.7,336.7h0.75M400.1,313.1h0.75M396.2,316.2h0.75M398.0,289.9h0.75M391.2,321.6h0.75M417.3,332.2h0.75M401.5,321.6h0.75M401.7,321.7h0.75M377.3,338.4h0.75M387.7,331.5h0.75M388.0,311.4h0.75M417.8,340.7h0.75M381.9,330.0h0.75M397.3,310.7h0.75M406.8,305.2h0.75M402.2,327.9h0.75M408.1,321.2h0.75M391.3,325.3h0.75M382.9,298.3h0.75M385.7,331.4h0.75M399.2,335.4h0.75M397.9,317.1h0.75M393.2,311.2h0.75M414.7,342.9h0.75M392.9,343.3h0.75M385.0,298.2h0.75M401.3,322.4h0.75M400.5,318.2h0.75M409.1,309.6h0.75M399.6,321.4h0.75M376.4,327.7h0.75M396.4,314.7h0.75M383.8,311.2h0.75M386.0,336.0h0.75M408.4,326.9h0.75M416.5,310.9h0.75M412.7,300.4h0.75M386.0,315.5h0.75M394.0,340.0h0.75M412.2,334.4h0.75M411.4,305.3h0.75M378.5,324.9h0.75M387.8,275.9h0.75M401.0,338.0h0.75M384.3,340.1h0.75M377.0,305.7h0.75M385.4,312.9h0.75M398.8,310.4h0.75M406.1,302.9h0.75M407.1,328.0h0.75M399.9,315.3h0.75M401.2,276.2h0.75M398.0,305.8h0.75M409.5,327.8h0.75M403.4,329.0h0.75M404.8,280.7h0.75M414.0,323.1h0.75M381.0,326.5h0.75M377.7,326.7h0.75" stroke="#555" stroke-width="0.75" stroke-opacity="0.19" fill="none"/>
<path d="M59.50,508.60 L60.50,507.45 L61.50,506.30 L62.50,505.14 L63.50,503.98 L64.50,502.81 L65.50,501.65 L66.50,500.49 L67.50,499.33 L68.50,498.17 L69.50,497.01 L70.50,495.86 L71.50,494.72 L72.50,493.58 L73.50,492.46 L74.50,491.34 L75.50,490.23 L76.50,489.13 L77.50,488.05 L78.50,486.98 L79.50,485.93 L80.50,484.89 L81.50,483.87 L82.50,482.87 L83.50,481.89 L84.50,480.93 L85.50,479.99 L86.50,479.08 L87.50,478.20 L88.50,477.35 L89.50,476.52 L90.50,475.72 L91.50,474.94 L92.50,474.18 L93.50,473.44 L94.50,472.73 L95.50,472.03 L96.50,471.36 L97.50,470.71 L98.50,470.08 L99.50,469.47 L100.50,468.84 L101.50,468.18 L102.50,467.54 L103.50,466.92 L104.50,466.32 L105.50,465.74 L106.50,465.18 L107.50,464.64 L108.50,464.13 L109.50,463.63 L110.50,463.16 L111.50,462.70 L112.50,462.28 L113.50,461.87 L114.50,461.49 L115.50,461.13 L116.50,460.80 L117.50,460.49 L118.50,460.21 L119.50,459.95 L120.50,459.71 L121.50,459.50 L122.50,459.30 L123.50,459.14 L124.50,458.99 L125.50,458.86 L126.50,458.76 L127.50,458.68 L128.50,458.62 L129.50,458.58 L130.50,458.56 L131.50,458.58 L132.50,458.64 L133.50,458.72 L134.50,458.81 L135.50,458.93 L136.50,459.06 L137.50,459.21 L138.50,459.38 L139.50,459.56 L140.50,459.77 L141.50,459.99 L142.50,460.23 L143.50,460.48 L144.50,460.75 L145.50,461.04 L146.50,461.34 L147.50,461.66 L148.50,461.99 L149.50,462.34 L150.50,462.70 L151.50,463.08 L152.50,463.47 L153.50,463.87 L154.50,464.29 L155.50,464.72 L156.50,465.16 L157.50,465.61 L158.50,466.07 L159.50,466.55 L160.50,467.04 L161.50,467.53 L162.50,468.04 L163.50,468.55 L164.50,469.07 L165.50,469.60 L166.50,470.14 L167.50,470.68 L168.50,471.23 L169.50,471.78 L170.50,472.34 L171.50,472.91 L172.50,473.47 L173.50,474.05 L174.50,474.62 L175.50,475.20 L176.50,475.78 L177.50,476.36 L178.50,476.94 L179.50,477.52 L180.50,478.11 L181.50,478.69 L182.50,479.27 L183.50,479.85 L184.50,480.44 L185.50,481.02 L186.50,481.60 L187.50,482.18 L188.50,482.76 L189.50,483.34 L190.50,483.92 L191.50,484.50 L192.50,485.08 L193.50,485.66 L194.50,486.24 L195.50,486.82 L196.50,487.40 L197.50,487.98 L198.50,488.56 L199.50,489.14 L200.50,489.72 L201.50,490.30 L202.50,490.88 L203.50,491.46 L204.50,492.04 L205.50,492.62 L206.50,493.20 L207.50,493.78 L208.50,494.36 L209.50,494.94 L210.50,495.48 L211.50,495.98 L212.50,496.48 L213.50,496.97 L214.50,497.47 L215.50,497.97 L216.50,498.46 L217.50,498.96 L218.50,499.46 L219.50,499.96 L220.50,500.46 L221.50,500.95 L222.50,501.45 L223.50,501.95 L224.50,502.45 L225.50,502.95 L226.50,503.45 L227.50,503.95 L228.50,504.45 L229.50,504.95 L230.50,505.45 L231.50,505.96 L232.50,506.46 L233.50,506.96 L234.50,507.46 L235.50,507.97 L236.50,508.47 L237.50,508.98 L238.50,509.48 L239.50,509.99 L240.50,510.49 L241.50,511.00 L242.50,511.51 L243.50,512.01 L244.50,512.52 L245.50,513.03 L246.50,513.54 L247.50,514.05 L248.50,514.56 L249.50,515.08 L250.50,515.59 L251.50,516.10 L252.50,516.61 L253.50,517.13 L253.50,531.13 L252.50,530.47 L251.50,529.81 L250.50,529.15 L249.50,528.49 L248.50,527.83 L247.50,527.17 L246.50,526.51 L245.50,525.86 L244.50,525.20 L243.50,524.54 L242.50,523.89 L241.50,523.23 L240.50,522.58 L239.50,521.93 L238.50,521.27 L237.50,520.62 L236.50,519.97 L235.50,519.32 L234.50,518.67 L233.50,518.02 L232.50,517.37 L231.50,516.72 L230.50,516.07 L229.50,515.42 L228.50,514.77 L227.50,514.13 L226.50,513.48 L225.50,512.83 L224.50,512.18 L223.50,511.54 L222.50,510.89 L221.50,510.25 L220.50,509.60 L219.50,508.96 L218.50,508.31 L217.50,507.67 L216.50,507.02 L215.50,506.38 L214.50,505.73 L213.50,505.09 L212.50,504.44 L211.50,503.80 L210.50,503.16 L209.50,502.55 L208.50,501.99 L207.50,501.43 L206.50,500.87 L205.50,500.31 L204.50,499.75 L203.50,499.19 L202.50,498.63 L201.50,498.07 L200.50,497.51 L199.50,496.95 L198.50,496.39 L197.50,495.83 L196.50,495.27 L195.50,494.71 L194.50,494.15 L193.50,493.59 L192.50,493.03 L191.50,492.47 L190.50,491.91 L189.50,491.35 L188.50,490.79 L187.50,490.23 L186.50,489.67 L185.50,489.11 L184.50,488.55 L183.50,487.98 L182.50,487.42 L181.50,486.86 L180.50,486.30 L179.50,485.73 L178.50,485.17 L177.50,484.61 L176.50,484.05 L175.50,483.49 L174.50,482.93 L173.50,482.38 L172.50,481.82 L171.50,481.28 L170.50,480.73 L169.50,480.19 L168.50,479.66 L167.50,479.13 L166.50,478.61 L165.50,478.09 L164.50,477.58 L163.50,477.08 L162.50,476.59 L161.50,476.10 L160.50,475.63 L159.50,475.16 L158.50,474.71 L157.50,474.27 L156.50,473.83 L155.50,473.41 L154.50,473.00 L153.50,472.61 L152.50,472.22 L151.50,471.85 L150.50,471.50 L149.50,471.16 L148.50,470.83 L147.50,470.52 L146.50,470.22 L145.50,469.94 L144.50,469.67 L143.50,469.42 L142.50,469.19 L141.50,468.97 L140.50,468.77 L139.50,468.59 L138.50,468.42 L137.50,468.27 L136.50,468.14 L135.50,468.03 L134.50,467.94 L133.50,467.86 L132.50,467.81 L131.50,467.77 L130.50,467.74 L129.50,467.71 L128.50,467.70 L127.50,467.71 L126.50,467.74 L125.50,467.79 L124.50,467.86 L123.50,467.96 L122.50,468.07 L121.50,468.21 L120.50,468.38 L119.50,468.56 L118.50,468.77 L117.50,469.00 L116.50,469.26 L115.50,469.54 L114.50,469.84 L113.50,470.17 L112.50,470.53 L111.50,470.90 L110.50,471.30 L109.50,471.72 L108.50,472.17 L107.50,472.63 L106.50,473.12 L105.50,473.63 L104.50,474.15 L103.50,474.70 L102.50,475.27 L101.50,475.86 L100.50,476.46 L99.50,477.13 L98.50,477.86 L97.50,478.61 L96.50,479.38 L95.50,480.17 L94.50,480.98 L93.50,481.81 L92.50,482.67 L91.50,483.55 L90.50,484.45 L89.50,485.37 L88.50,486.31 L87.50,487.28 L86.50,488.28 L85.50,489.28 L84.50,490.31 L83.50,491.36 L82.50,492.43 L81.50,493.52 L80.50,494.62 L79.50,495.75 L78.50,496.89 L77.50,498.05 L76.50,499.22 L75.50,500.41 L74.50,501.60 L73.50,502.81 L72.50,504.03 L71.50,505.25 L70.50,506.49 L69.50,507.72 L68.50,508.97 L67.50,510.22 L66.50,511.47 L65.50,512.72 L64.50,513.97 L63.50,515.22 L62.50,516.47 L61.50,517.72 L60.50,518.96 L59.50,520.20 Z" fill="#3d5a98" fill-opacity="0.27"/>
<path d="M59.50,514.40 L60.50,513.20 L61.50,512.01 L62.50,510.80 L63.50,509.60 L64.50,508.39 L65.50,507.18 L66.50,505.98 L67.50,504.77 L68.50,503.57 L69.50,502.37 L70.50,501.17 L71.50,499.99 L72.50,498.81 L73.50,497.63 L74.50,496.47 L75.50,495.32 L76.50,494.18 L77.50,493.05 L78.50,491.94 L79.50,490.84 L80.50,489.76 L81.50,488.69 L82.50,487.65 L83.50,486.62 L84.50,485.62 L85.50,484.64 L86.50,483.68 L87.50,482.74 L88.50,481.83 L89.50,480.95 L90.50,480.08 L91.50,479.24 L92.50,478.42 L93.50,477.63 L94.50,476.85 L95.50,476.10 L96.50,475.37 L97.50,474.66 L98.50,473.97 L99.50,473.30 L100.50,472.65 L101.50,472.02 L102.50,471.40 L103.50,470.81 L104.50,470.24 L105.50,469.68 L106.50,469.15 L107.50,468.64 L108.50,468.15 L109.50,467.68 L110.50,467.23 L111.50,466.80 L112.50,466.40 L113.50,466.02 L114.50,465.67 L115.50,465.34 L116.50,465.03 L117.50,464.75 L118.50,464.49 L119.50,464.25 L120.50,464.04 L121.50,463.85 L122.50,463.69 L123.50,463.55 L124.50,463.43 L125.50,463.33 L126.50,463.25 L127.50,463.19 L128.50,463.16 L129.50,463.14 L130.50,463.15 L131.50,463.18 L132.50,463.22 L133.50,463.29 L134.50,463.37 L135.50,463.48 L136.50,463.60 L137.50,463.74 L138.50,463.90 L139.50,464.08 L140.50,464.27 L141.50,464.48 L142.50,464.71 L143.50,464.95 L144.50,465.21 L145.50,465.49 L146.50,465.78 L147.50,466.09 L148.50,466.41 L149.50,466.75 L150.50,467.10 L151.50,467.47 L152.50,467.84 L153.50,468.24 L154.50,468.64 L155.50,469.06 L156.50,469.49 L157.50,469.94 L158.50,470.39 L159.50,470.86 L160.50,471.33 L161.50,471.82 L162.50,472.31 L163.50,472.81 L164.50,473.33 L165.50,473.84 L166.50,474.37 L167.50,474.90 L168.50,475.44 L169.50,475.99 L170.50,476.54 L171.50,477.09 L172.50,477.65 L173.50,478.21 L174.50,478.78 L175.50,479.34 L176.50,479.91 L177.50,480.48 L178.50,481.06 L179.50,481.63 L180.50,482.20 L181.50,482.77 L182.50,483.35 L183.50,483.92 L184.50,484.49 L185.50,485.06 L186.50,485.63 L187.50,486.20 L188.50,486.78 L189.50,487.35 L190.50,487.92 L191.50,488.49 L192.50,489.06 L193.50,489.63 L194.50,490.20 L195.50,490.77 L196.50,491.34 L197.50,491.91 L198.50,492.48 L199.50,493.05 L200.50,493.62 L201.50,494.19 L202.50,494.76 L203.50,495.33 L204.50,495.90 L205.50,496.47 L206.50,497.04 L207.50,497.61 L208.50,498.18 L209.50,498.75 L210.50,499.32 L211.50,499.89 L212.50,500.46 L213.50,501.03 L214.50,501.60 L215.50,502.17 L216.50,502.74 L217.50,503.31 L218.50,503.89 L219.50,504.46 L220.50,505.03 L221.50,505.60 L222.50,506.17 L223.50,506.75 L224.50,507.32 L225.50,507.89 L226.50,508.46 L227.50,509.04 L228.50,509.61 L229.50,510.19 L230.50,510.76 L231.50,511.34 L232.50,511.91 L233.50,512.49 L234.50,513.07 L235.50,513.64 L236.50,514.22 L237.50,514.80 L238.50,515.38 L239.50,515.96 L240.50,516.54 L241.50,517.12 L242.50,517.70 L243.50,518.28 L244.50,518.86 L245.50,519.44 L246.50,520.03 L247.50,520.61 L248.50,521.20 L249.50,521.78 L250.50,522.37 L251.50,522.95 L252.50,523.54 L253.50,524.13" fill="none" stroke="#34508f" stroke-width="1.4" stroke-linejoin="round"/>
<path d="M59.50,536.35 L60.50,536.00 L61.50,535.65 L62.50,535.30 L63.50,534.94 L64.50,534.58 L65.50,534.22 L66.50,533.86 L67.50,533.50 L68.50,533.13 L69.50,532.76 L70.50,532.39 L71.50,532.02 L72.50,531.64 L73.50,531.27 L74.50,530.89 L75.50,530.51 L76.50,530.13 L77.50,529.74 L78.50,529.35 L79.50,528.97 L80.50,528.58 L81.50,528.18 L82.50,527.79 L83.50,527.39 L84.50,527.00 L85.50,526.60 L86.50,526.19 L87.50,525.79 L88.50,525.38 L89.50,524.98 L90.50,524.57 L91.50,524.16 L92.50,523.74 L93.50,523.33 L94.50,522.90 L95.50,522.46 L96.50,522.01 L97.50,521.56 L98.50,521.11 L99.50,520.66 L100.50,520.21 L101.50,519.76 L102.50,519.30 L103.50,518.84 L104.50,518.38 L105.50,517.92 L106.50,517.46 L107.50,516.99 L108.50,516.53 L109.50,516.06 L110.50,515.59 L111.50,515.12 L112.50,514.65 L113.50,514.18 L114.50,513.70 L115.50,513.22 L116.50,512.75 L117.50,512.27 L118.50,511.79 L119.50,511.30 L120.50,510.82 L121.50,510.33 L122.50,509.85 L123.50,509.36 L124.50,508.87 L125.50,508.38 L126.50,507.89 L127.50,507.39 L128.50,506.90 L129.50,506.40 L130.50,505.90 L131.50,505.40 L132.50,504.90 L133.50,504.40 L134.50,503.90 L135.50,503.40 L136.50,502.89 L137.50,502.38 L138.50,501.88 L139.50,501.37 L140.50,500.86 L141.50,500.35 L142.50,499.83 L143.50,499.32 L144.50,498.80 L145.50,498.29 L146.50,497.77 L147.50,497.25 L148.50,496.74 L149.50,496.22 L150.50,495.70 L151.50,495.17 L152.50,494.66 L153.50,494.14 L154.50,493.64 L155.50,493.15 L156.50,492.67 L157.50,492.21 L158.50,491.76 L159.50,491.32 L160.50,490.91 L161.50,490.51 L162.50,490.14 L163.50,489.78 L164.50,489.44 L165.50,489.12 L166.50,488.81 L167.50,488.51 L168.50,488.22 L169.50,487.94 L170.50,487.67 L171.50,487.40 L172.50,487.13 L173.50,486.86 L174.50,486.60 L175.50,486.32 L176.50,486.05 L177.50,485.76 L178.50,485.47 L179.50,485.16 L180.50,484.84 L181.50,484.50 L182.50,484.15 L183.50,483.77 L184.50,483.38 L185.50,482.96 L186.50,482.51 L187.50,482.04 L188.50,481.54 L189.50,481.03 L190.50,480.48 L191.50,479.92 L192.50,479.34 L193.50,478.75 L194.50,478.13 L195.50,477.51 L196.50,476.87 L197.50,476.22 L198.50,475.56 L199.50,474.89 L200.50,474.21 L201.50,473.53 L202.50,472.84 L203.50,472.15 L204.50,471.46 L205.50,470.77 L206.50,470.07 L207.50,469.38 L208.50,468.68 L209.50,467.98 L210.50,467.28 L211.50,466.57 L212.50,465.85 L213.50,465.13 L214.50,464.40 L215.50,463.65 L216.50,462.90 L217.50,462.14 L218.50,461.37 L219.50,460.58 L220.50,459.78 L221.50,458.97 L222.50,458.14 L223.50,457.30 L224.50,456.44 L225.50,455.58 L226.50,454.69 L227.50,453.80 L228.50,452.89 L229.50,451.97 L230.50,451.04 L231.50,450.10 L232.50,449.14 L233.50,448.17 L234.50,447.19 L235.50,446.20 L236.50,445.13 L237.50,443.99 L238.50,442.84 L239.50,441.67 L240.50,440.50 L241.50,439.31 L242.50,438.11 L243.50,436.91 L244.50,435.69 L245.50,434.47 L246.50,433.23 L247.50,431.99 L248.50,430.73 L249.50,429.47 L250.50,428.20 L251.50,426.92 L252.50,425.63 L253.50,424.34 L253.50,436.34 L252.50,437.36 L251.50,438.37 L250.50,439.38 L249.50,440.37 L248.50,441.36 L247.50,442.34 L246.50,443.31 L245.50,444.27 L244.50,445.22 L243.50,446.17 L242.50,447.10 L241.50,448.02 L240.50,448.93 L239.50,449.83 L238.50,450.72 L237.50,451.60 L236.50,452.47 L235.50,453.39 L234.50,454.37 L233.50,455.33 L232.50,456.28 L231.50,457.22 L230.50,458.15 L229.50,459.06 L228.50,459.97 L227.50,460.86 L226.50,461.74 L225.50,462.60 L224.50,463.45 L223.50,464.29 L222.50,465.11 L221.50,465.93 L220.50,466.72 L219.50,467.51 L218.50,468.28 L217.50,469.03 L216.50,469.78 L215.50,470.51 L214.50,471.24 L213.50,471.95 L212.50,472.66 L211.50,473.36 L210.50,474.05 L209.50,474.74 L208.50,475.43 L207.50,476.11 L206.50,476.78 L205.50,477.46 L204.50,478.13 L203.50,478.81 L202.50,479.48 L201.50,480.15 L200.50,480.82 L199.50,481.48 L198.50,482.14 L197.50,482.79 L196.50,483.42 L195.50,484.05 L194.50,484.67 L193.50,485.27 L192.50,485.85 L191.50,486.42 L190.50,486.97 L189.50,487.50 L188.50,488.01 L187.50,488.49 L186.50,488.95 L185.50,489.38 L184.50,489.79 L183.50,490.18 L182.50,490.54 L181.50,490.88 L180.50,491.20 L179.50,491.51 L178.50,491.81 L177.50,492.09 L176.50,492.36 L175.50,492.63 L174.50,492.89 L173.50,493.15 L172.50,493.40 L171.50,493.66 L170.50,493.91 L169.50,494.18 L168.50,494.44 L167.50,494.72 L166.50,495.01 L165.50,495.30 L164.50,495.62 L163.50,495.94 L162.50,496.29 L161.50,496.65 L160.50,497.03 L159.50,497.44 L158.50,497.86 L157.50,498.30 L156.50,498.75 L155.50,499.22 L154.50,499.70 L153.50,500.19 L152.50,500.69 L151.50,501.19 L150.50,501.71 L149.50,502.24 L148.50,502.78 L147.50,503.33 L146.50,503.87 L145.50,504.42 L144.50,504.96 L143.50,505.51 L142.50,506.05 L141.50,506.59 L140.50,507.13 L139.50,507.67 L138.50,508.21 L137.50,508.74 L136.50,509.28 L135.50,509.81 L134.50,510.34 L133.50,510.87 L132.50,511.40 L131.50,511.93 L130.50,512.46 L129.50,512.99 L128.50,513.51 L127.50,514.04 L126.50,514.56 L125.50,515.08 L124.50,515.60 L123.50,516.12 L122.50,516.63 L121.50,517.15 L120.50,517.66 L119.50,518.18 L118.50,518.69 L117.50,519.20 L116.50,519.70 L115.50,520.21 L114.50,520.72 L113.50,521.22 L112.50,521.72 L111.50,522.22 L110.50,522.72 L109.50,523.22 L108.50,523.71 L107.50,524.21 L106.50,524.70 L105.50,525.19 L104.50,525.68 L103.50,526.17 L102.50,526.66 L101.50,527.14 L100.50,527.62 L99.50,528.11 L98.50,528.59 L97.50,529.06 L96.50,529.54 L95.50,530.01 L94.50,530.49 L93.50,530.97 L92.50,531.47 L91.50,531.96 L90.50,532.45 L89.50,532.94 L88.50,533.43 L87.50,533.92 L86.50,534.40 L85.50,534.89 L84.50,535.37 L83.50,535.85 L82.50,536.32 L81.50,536.80 L80.50,537.27 L79.50,537.74 L78.50,538.21 L77.50,538.68 L76.50,539.15 L75.50,539.61 L74.50,540.07 L73.50,540.53 L72.50,540.99 L71.50,541.44 L70.50,541.90 L69.50,542.35 L68.50,542.80 L67.50,543.25 L66.50,543.69 L65.50,544.14 L64.50,544.58 L63.50,545.02 L62.50,545.45 L61.50,545.89 L60.50,546.32 L59.50,546.75 Z" fill="#b5173f" fill-opacity="0.27"/>
<path d="M59.50,541.55 L60.50,541.16 L61.50,540.77 L62.50,540.38 L63.50,539.98 L64.50,539.58 L65.50,539.18 L66.50,538.78 L67.50,538.37 L68.50,537.97 L69.50,537.56 L70.50,537.14 L71.50,536.73 L72.50,536.32 L73.50,535.90 L74.50,535.48 L75.50,535.06 L76.50,534.64 L77.50,534.21 L78.50,533.78 L79.50,533.35 L80.50,532.92 L81.50,532.49 L82.50,532.06 L83.50,531.62 L84.50,531.18 L85.50,530.74 L86.50,530.30 L87.50,529.85 L88.50,529.41 L89.50,528.96 L90.50,528.51 L91.50,528.06 L92.50,527.61 L93.50,527.15 L94.50,526.69 L95.50,526.24 L96.50,525.78 L97.50,525.31 L98.50,524.85 L99.50,524.38 L100.50,523.92 L101.50,523.45 L102.50,522.98 L103.50,522.51 L104.50,522.03 L105.50,521.56 L106.50,521.08 L107.50,520.60 L108.50,520.12 L109.50,519.64 L110.50,519.16 L111.50,518.67 L112.50,518.19 L113.50,517.70 L114.50,517.21 L115.50,516.72 L116.50,516.23 L117.50,515.73 L118.50,515.24 L119.50,514.74 L120.50,514.24 L121.50,513.74 L122.50,513.24 L123.50,512.74 L124.50,512.23 L125.50,511.73 L126.50,511.22 L127.50,510.71 L128.50,510.21 L129.50,509.69 L130.50,509.18 L131.50,508.67 L132.50,508.15 L133.50,507.64 L134.50,507.12 L135.50,506.60 L136.50,506.08 L137.50,505.56 L138.50,505.04 L139.50,504.52 L140.50,503.99 L141.50,503.47 L142.50,502.94 L143.50,502.41 L144.50,501.88 L145.50,501.35 L146.50,500.82 L147.50,500.29 L148.50,499.76 L149.50,499.23 L150.50,498.70 L151.50,498.18 L152.50,497.67 L153.50,497.16 L154.50,496.67 L155.50,496.18 L156.50,495.71 L157.50,495.25 L158.50,494.81 L159.50,494.38 L160.50,493.97 L161.50,493.58 L162.50,493.21 L163.50,492.86 L164.50,492.53 L165.50,492.21 L166.50,491.91 L167.50,491.62 L168.50,491.33 L169.50,491.06 L170.50,490.79 L171.50,490.53 L172.50,490.27 L173.50,490.01 L174.50,489.74 L175.50,489.48 L176.50,489.21 L177.50,488.93 L178.50,488.64 L179.50,488.34 L180.50,488.02 L181.50,487.69 L182.50,487.34 L183.50,486.97 L184.50,486.58 L185.50,486.17 L186.50,485.73 L187.50,485.27 L188.50,484.78 L189.50,484.26 L190.50,483.73 L191.50,483.17 L192.50,482.60 L193.50,482.01 L194.50,481.40 L195.50,480.78 L196.50,480.15 L197.50,479.50 L198.50,478.85 L199.50,478.18 L200.50,477.51 L201.50,476.84 L202.50,476.16 L203.50,475.48 L204.50,474.79 L205.50,474.11 L206.50,473.43 L207.50,472.74 L208.50,472.05 L209.50,471.36 L210.50,470.67 L211.50,469.96 L212.50,469.26 L213.50,468.54 L214.50,467.82 L215.50,467.08 L216.50,466.34 L217.50,465.59 L218.50,464.82 L219.50,464.04 L220.50,463.25 L221.50,462.45 L222.50,461.63 L223.50,460.79 L224.50,459.95 L225.50,459.09 L226.50,458.21 L227.50,457.33 L228.50,456.43 L229.50,455.52 L230.50,454.59 L231.50,453.66 L232.50,452.71 L233.50,451.75 L234.50,450.78 L235.50,449.80 L236.50,448.80 L237.50,447.80 L238.50,446.78 L239.50,445.75 L240.50,444.71 L241.50,443.66 L242.50,442.61 L243.50,441.54 L244.50,440.46 L245.50,439.37 L246.50,438.27 L247.50,437.16 L248.50,436.05 L249.50,434.92 L250.50,433.79 L251.50,432.65 L252.50,431.50 L253.50,430.34" fill="none" stroke="#b4173f" stroke-width="1.5" stroke-linejoin="round"/>
<path d="M59.50,479.88 L60.50,479.67 L61.50,479.47 L62.50,479.27 L63.50,479.08 L64.50,478.89 L65.50,478.70 L66.50,478.52 L67.50,478.35 L68.50,478.18 L69.50,478.01 L70.50,477.85 L71.50,477.69 L72.50,477.54 L73.50,477.39 L74.50,477.24 L75.50,477.11 L76.50,476.97 L77.50,476.84 L78.50,476.72 L79.50,476.60 L80.50,476.48 L81.50,476.37 L82.50,476.26 L83.50,476.16 L84.50,476.06 L85.50,475.97 L86.50,475.88 L87.50,475.80 L88.50,475.72 L89.50,475.65 L90.50,475.58 L91.50,475.51 L92.50,475.45 L93.50,475.40 L94.50,475.35 L95.50,475.30 L96.50,475.26 L97.50,475.23 L98.50,475.20 L99.50,475.17 L100.50,475.15 L101.50,475.13 L102.50,475.10 L103.50,475.05 L104.50,475.02 L105.50,474.99 L106.50,474.96 L107.50,474.94 L108.50,474.92 L109.50,474.91 L110.50,474.90 L111.50,474.90 L112.50,474.90 L113.50,474.91 L114.50,474.92 L115.50,474.94 L116.50,474.96 L117.50,474.99 L118.50,475.02 L119.50,475.06 L120.50,475.10 L121.50,475.15 L122.50,475.20 L123.50,475.26 L124.50,475.32 L125.50,475.39 L126.50,475.47 L127.50,475.54 L128.50,475.63 L129.50,475.71 L130.50,475.81 L131.50,475.91 L132.50,476.01 L133.50,476.12 L134.50,476.23 L135.50,476.35 L136.50,476.47 L137.50,476.60 L138.50,476.74 L139.50,476.88 L140.50,477.02 L141.50,477.17 L142.50,477.32 L143.50,477.48 L144.50,477.65 L145.50,477.82 L146.50,478.00 L147.50,478.18 L148.50,478.36 L149.50,478.56 L150.50,478.75 L151.50,478.95 L152.50,479.16 L153.50,479.37 L154.50,479.59 L155.50,479.82 L156.50,480.04 L157.50,480.28 L158.50,480.52 L159.50,480.76 L160.50,481.01 L161.50,481.27 L162.50,481.53 L163.50,481.79 L164.50,482.06 L165.50,482.33 L166.50,482.61 L167.50,482.89 L168.50,483.18 L169.50,483.47 L170.50,483.77 L171.50,484.07 L172.50,484.38 L173.50,484.69 L174.50,485.00 L175.50,485.32 L176.50,485.64 L177.50,485.97 L178.50,486.30 L179.50,486.64 L180.50,486.98 L181.50,487.32 L182.50,487.67 L183.50,488.02 L184.50,488.37 L185.50,488.73 L186.50,489.09 L187.50,489.45 L188.50,489.81 L189.50,490.18 L190.50,490.55 L191.50,490.93 L192.50,491.31 L193.50,491.69 L194.50,492.07 L195.50,492.45 L196.50,492.84 L197.50,493.23 L198.50,493.62 L199.50,494.02 L200.50,494.41 L201.50,494.81 L202.50,495.21 L203.50,495.61 L204.50,496.01 L205.50,496.41 L206.50,496.82 L207.50,497.23 L208.50,497.64 L209.50,498.04 L210.50,498.45 L211.50,498.84 L212.50,499.23 L213.50,499.63 L214.50,500.02 L215.50,500.42 L216.50,500.82 L217.50,501.21 L218.50,501.61 L219.50,502.01 L220.50,502.41 L221.50,502.80 L222.50,503.20 L223.50,503.60 L224.50,504.00 L225.50,504.39 L226.50,504.79 L227.50,505.19 L228.50,505.58 L229.50,505.98 L230.50,506.38 L231.50,506.77 L232.50,507.16 L233.50,507.55 L234.50,507.95 L235.50,508.34 L236.50,508.72 L237.50,509.11 L238.50,509.50 L239.50,509.88 L240.50,510.26 L241.50,510.65 L242.50,511.03 L243.50,511.40 L244.50,511.78 L245.50,512.15 L246.50,512.52 L247.50,512.89 L248.50,513.26 L249.50,513.62 L250.50,513.98 L251.50,514.34 L252.50,514.70 L253.50,515.05 L253.50,525.85 L252.50,525.46 L251.50,525.07 L250.50,524.67 L249.50,524.28 L248.50,523.87 L247.50,523.47 L246.50,523.07 L245.50,522.66 L244.50,522.25 L243.50,521.83 L242.50,521.42 L241.50,521.00 L240.50,520.59 L239.50,520.17 L238.50,519.75 L237.50,519.32 L236.50,518.90 L235.50,518.47 L234.50,518.05 L233.50,517.62 L232.50,517.19 L231.50,516.76 L230.50,516.33 L229.50,515.90 L228.50,515.47 L227.50,515.03 L226.50,514.60 L225.50,514.17 L224.50,513.73 L223.50,513.30 L222.50,512.86 L221.50,512.43 L220.50,511.99 L219.50,511.56 L218.50,511.12 L217.50,510.69 L216.50,510.25 L215.50,509.82 L214.50,509.39 L213.50,508.96 L212.50,508.52 L211.50,508.09 L210.50,507.66 L209.50,507.24 L208.50,506.84 L207.50,506.43 L206.50,506.02 L205.50,505.61 L204.50,505.21 L203.50,504.81 L202.50,504.41 L201.50,504.01 L200.50,503.61 L199.50,503.22 L198.50,502.82 L197.50,502.43 L196.50,502.04 L195.50,501.65 L194.50,501.27 L193.50,500.89 L192.50,500.51 L191.50,500.13 L190.50,499.75 L189.50,499.38 L188.50,499.01 L187.50,498.65 L186.50,498.29 L185.50,497.93 L184.50,497.57 L183.50,497.22 L182.50,496.87 L181.50,496.52 L180.50,496.18 L179.50,495.84 L178.50,495.50 L177.50,495.17 L176.50,494.84 L175.50,494.52 L174.50,494.20 L173.50,493.89 L172.50,493.58 L171.50,493.27 L170.50,492.97 L169.50,492.67 L168.50,492.38 L167.50,492.09 L166.50,491.81 L165.50,491.53 L164.50,491.26 L163.50,490.99 L162.50,490.73 L161.50,490.47 L160.50,490.22 L159.50,489.98 L158.50,489.74 L157.50,489.50 L156.50,489.28 L155.50,489.06 L154.50,488.84 L153.50,488.63 L152.50,488.42 L151.50,488.22 L150.50,488.03 L149.50,487.84 L148.50,487.65 L147.50,487.47 L146.50,487.30 L145.50,487.13 L144.50,486.96 L143.50,486.81 L142.50,486.65 L141.50,486.50 L140.50,486.36 L139.50,486.22 L138.50,486.09 L137.50,485.96 L136.50,485.84 L135.50,485.72 L134.50,485.61 L133.50,485.50 L132.50,485.40 L131.50,485.31 L130.50,485.21 L129.50,485.13 L128.50,485.05 L127.50,484.97 L126.50,484.90 L125.50,484.83 L124.50,484.77 L123.50,484.72 L122.50,484.67 L121.50,484.62 L120.50,484.58 L119.50,484.54 L118.50,484.51 L117.50,484.49 L116.50,484.47 L115.50,484.45 L114.50,484.44 L113.50,484.43 L112.50,484.43 L111.50,484.44 L110.50,484.44 L109.50,484.46 L108.50,484.48 L107.50,484.50 L106.50,484.53 L105.50,484.56 L104.50,484.60 L103.50,484.64 L102.50,484.69 L101.50,484.75 L100.50,484.85 L99.50,484.94 L98.50,485.05 L97.50,485.15 L96.50,485.26 L95.50,485.38 L94.50,485.50 L93.50,485.63 L92.50,485.76 L91.50,485.89 L90.50,486.03 L89.50,486.18 L88.50,486.33 L87.50,486.48 L86.50,486.64 L85.50,486.80 L84.50,486.97 L83.50,487.14 L82.50,487.32 L81.50,487.50 L80.50,487.69 L79.50,487.88 L78.50,488.08 L77.50,488.28 L76.50,488.49 L75.50,488.70 L74.50,488.91 L73.50,489.13 L72.50,489.35 L71.50,489.58 L70.50,489.81 L69.50,490.05 L68.50,490.29 L67.50,490.54 L66.50,490.79 L65.50,491.05 L64.50,491.31 L63.50,491.57 L62.50,491.84 L61.50,492.12 L60.50,492.40 L59.50,492.68 Z" fill="#72b55e" fill-opacity="0.27"/>
<path d="M59.50,486.28 L60.50,486.03 L61.50,485.79 L62.50,485.56 L63.50,485.33 L64.50,485.10 L65.50,484.88 L66.50,484.66 L67.50,484.44 L68.50,484.24 L69.50,484.03 L70.50,483.83 L71.50,483.64 L72.50,483.45 L73.50,483.26 L74.50,483.08 L75.50,482.90 L76.50,482.73 L77.50,482.56 L78.50,482.40 L79.50,482.24 L80.50,482.09 L81.50,481.94 L82.50,481.79 L83.50,481.65 L84.50,481.52 L85.50,481.39 L86.50,481.26 L87.50,481.14 L88.50,481.02 L89.50,480.91 L90.50,480.80 L91.50,480.70 L92.50,480.60 L93.50,480.51 L94.50,480.42 L95.50,480.34 L96.50,480.26 L97.50,480.19 L98.50,480.12 L99.50,480.06 L100.50,480.00 L101.50,479.94 L102.50,479.89 L103.50,479.85 L104.50,479.81 L105.50,479.77 L106.50,479.74 L107.50,479.72 L108.50,479.70 L109.50,479.68 L110.50,479.67 L111.50,479.67 L112.50,479.67 L113.50,479.67 L114.50,479.68 L115.50,479.70 L116.50,479.71 L117.50,479.74 L118.50,479.77 L119.50,479.80 L120.50,479.84 L121.50,479.89 L122.50,479.93 L123.50,479.99 L124.50,480.05 L125.50,480.11 L126.50,480.18 L127.50,480.26 L128.50,480.34 L129.50,480.42 L130.50,480.51 L131.50,480.61 L132.50,480.71 L133.50,480.81 L134.50,480.92 L135.50,481.04 L136.50,481.16 L137.50,481.28 L138.50,481.41 L139.50,481.55 L140.50,481.69 L141.50,481.84 L142.50,481.99 L143.50,482.14 L144.50,482.31 L145.50,482.47 L146.50,482.65 L147.50,482.82 L148.50,483.01 L149.50,483.20 L150.50,483.39 L151.50,483.59 L152.50,483.79 L153.50,484.00 L154.50,484.22 L155.50,484.44 L156.50,484.66 L157.50,484.89 L158.50,485.13 L159.50,485.37 L160.50,485.62 L161.50,485.87 L162.50,486.13 L163.50,486.39 L164.50,486.66 L165.50,486.93 L166.50,487.21 L167.50,487.49 L168.50,487.78 L169.50,488.07 L170.50,488.37 L171.50,488.67 L172.50,488.98 L173.50,489.29 L174.50,489.60 L175.50,489.92 L176.50,490.24 L177.50,490.57 L178.50,490.90 L179.50,491.24 L180.50,491.58 L181.50,491.92 L182.50,492.27 L183.50,492.62 L184.50,492.97 L185.50,493.33 L186.50,493.69 L187.50,494.05 L188.50,494.41 L189.50,494.78 L190.50,495.15 L191.50,495.53 L192.50,495.91 L193.50,496.29 L194.50,496.67 L195.50,497.05 L196.50,497.44 L197.50,497.83 L198.50,498.22 L199.50,498.62 L200.50,499.01 L201.50,499.41 L202.50,499.81 L203.50,500.21 L204.50,500.61 L205.50,501.01 L206.50,501.42 L207.50,501.83 L208.50,502.24 L209.50,502.64 L210.50,503.06 L211.50,503.47 L212.50,503.88 L213.50,504.29 L214.50,504.71 L215.50,505.12 L216.50,505.54 L217.50,505.95 L218.50,506.37 L219.50,506.78 L220.50,507.20 L221.50,507.62 L222.50,508.03 L223.50,508.45 L224.50,508.86 L225.50,509.28 L226.50,509.70 L227.50,510.11 L228.50,510.53 L229.50,510.94 L230.50,511.35 L231.50,511.76 L232.50,512.18 L233.50,512.59 L234.50,513.00 L235.50,513.40 L236.50,513.81 L237.50,514.22 L238.50,514.62 L239.50,515.02 L240.50,515.43 L241.50,515.83 L242.50,516.22 L243.50,516.62 L244.50,517.01 L245.50,517.40 L246.50,517.79 L247.50,518.18 L248.50,518.57 L249.50,518.95 L250.50,519.33 L251.50,519.71 L252.50,520.08 L253.50,520.45" fill="none" stroke="#6db35a" stroke-width="1.1" stroke-linejoin="round"/>
<rect x="47.850" y="420.5" width="1.2" height="133.400" fill="#000"/><rect x="47.850" y="552.500" width="204.550" height="1.4" fill="#000"/>
<path d="M45.2,437.9 H48.3" stroke="#111" stroke-width="1"/>
<text x="42.5" y="440.9" font-size="8.8" text-anchor="end" font-weight="normal" font-style="normal" fill="#2a2a2a" textLength="11.4" lengthAdjust="spacingAndGlyphs" >1.0</text>
<path d="M45.2,466.05 H48.3" stroke="#111" stroke-width="1"/>
<text x="42.5" y="469.05" font-size="8.8" text-anchor="end" font-weight="normal" font-style="normal" fill="#2a2a2a" textLength="11.4" lengthAdjust="spacingAndGlyphs" >0.5</text>
<path d="M45.2,494.2 H48.3" stroke="#111" stroke-width="1"/>
<text x="42.5" y="497.2" font-size="8.8" text-anchor="end" font-weight="normal" font-style="normal" fill="#2a2a2a" textLength="11.4" lengthAdjust="spacingAndGlyphs" >0.0</text>
<path d="M45.2,522.35 H48.3" stroke="#111" stroke-width="1"/>
<text x="42.5" y="525.35" font-size="8.8" text-anchor="end" font-weight="normal" font-style="normal" fill="#2a2a2a" textLength="14.6" lengthAdjust="spacingAndGlyphs" >-0.5</text>
<path d="M45.2,550.5 H48.3" stroke="#111" stroke-width="1"/>
<text x="42.5" y="553.5" font-size="8.8" text-anchor="end" font-weight="normal" font-style="normal" fill="#2a2a2a" textLength="14.6" lengthAdjust="spacingAndGlyphs" >-1.0</text>
<path d="M57.8,553 V556.2" stroke="#111" stroke-width="1"/>
<text x="58.099999999999994" y="565.9" font-size="8.2" text-anchor="middle" font-weight="normal" font-style="normal" fill="#2a2a2a" textLength="15.9" lengthAdjust="spacingAndGlyphs" >0.00</text>
<path d="M108.8,553 V556.2" stroke="#111" stroke-width="1"/>
<text x="109.1" y="565.9" font-size="8.2" text-anchor="middle" font-weight="normal" font-style="normal" fill="#2a2a2a" textLength="15.9" lengthAdjust="spacingAndGlyphs" >0.25</text>
<path d="M160.3,553 V556.2" stroke="#111" stroke-width="1"/>
<text x="160.60000000000002" y="565.9" font-size="8.2" text-anchor="middle" font-weight="normal" font-style="normal" fill="#2a2a2a" textLength="15.9" lengthAdjust="spacingAndGlyphs" >0.50</text>
<path d="M211.5,553 V556.2" stroke="#111" stroke-width="1"/>
<text x="211.8" y="565.9" font-size="8.2" text-anchor="middle" font-weight="normal" font-style="normal" fill="#2a2a2a" textLength="15.9" lengthAdjust="spacingAndGlyphs" >0.75</text>
<text transform="translate(20.2,487) rotate(-90)" x="0" y="0" font-size="8.2" text-anchor="middle" dominant-baseline="central" fill="#2a2a2a" stroke="#2a2a2a" stroke-width="0.25" textLength="65.6" lengthAdjust="spacingAndGlyphs">Normalized expression</text>
<text x="48.9" y="578.0" font-size="10.3" text-anchor="start" font-weight="normal" font-style="normal" fill="#2a2a2a" textLength="15.2" lengthAdjust="spacingAndGlyphs" stroke="#2a2a2a" stroke-width="0.4" >HSCs</text>
<text x="230.1" y="578.2" font-size="10.3" text-anchor="start" font-weight="normal" font-style="normal" fill="#2a2a2a" textLength="16.6" lengthAdjust="spacingAndGlyphs" stroke="#2a2a2a" stroke-width="0.4" >MEPs</text>
<text x="150.15" y="585.6" font-size="10.2" text-anchor="middle" font-weight="normal" font-style="normal" fill="#2a2a2a" textLength="36.3" lengthAdjust="spacingAndGlyphs" stroke="#2a2a2a" stroke-width="0.3" >Pseudo-time</text>
<rect x="73.5" y="574.75" width="146.5" height="1.5" fill="#000"/>
<path d="M226.4,575.5 L216.2,571.3 L218.4,575.5 L216.2,579.6 Z" fill="#000"/>
<text x="111.5" y="411.6" font-size="10.1" text-anchor="start" font-weight="normal" font-style="normal" fill="#2a2a2a" textLength="63.099999999999994" lengthAdjust="spacingAndGlyphs" >Healthy donors</text>
<rect x="111.5" y="412.6" width="63.099999999999994" height="0.9" fill="#777"/>
<rect x="54.9" y="420.7" width="18.6" height="11.5" fill="#3d5a98" fill-opacity="0.27"/>
<path d="M55.3,426.4 H73.1" stroke="#34508f" stroke-width="1.2"/>
<text x="77.0" y="429.2" font-size="8.9" text-anchor="start" font-weight="normal" font-style="italic" fill="#2a2a2a" textLength="23.3" lengthAdjust="spacingAndGlyphs" >GATA2</text>
<rect x="54.9" y="435.2" width="18.6" height="11.5" fill="#b5173f" fill-opacity="0.27"/>
<path d="M55.3,440.9 H73.1" stroke="#b4173f" stroke-width="1.6"/>
<text x="77.0" y="443.7" font-size="8.9" text-anchor="start" font-weight="normal" font-style="italic" fill="#2a2a2a" textLength="23.3" lengthAdjust="spacingAndGlyphs" >GATA1</text>
<rect x="54.9" y="450.1" width="18.6" height="11.5" fill="#72b55e" fill-opacity="0.27"/>
<path d="M55.3,455.8 H73.1" stroke="#6db35a" stroke-width="1.7"/>
<text x="77.0" y="458.6" font-size="8.9" text-anchor="start" font-weight="normal" font-style="italic" fill="#2a2a2a" textLength="17.0" lengthAdjust="spacingAndGlyphs" >SPI1</text>
<path d="M318.10,506.98 L319.10,505.94 L320.10,504.88 L321.10,503.79 L322.10,502.69 L323.10,501.57 L324.10,500.43 L325.10,499.29 L326.10,498.13 L327.10,496.96 L328.10,495.78 L329.10,494.59 L330.10,493.41 L331.10,492.22 L332.10,491.03 L333.10,489.84 L334.10,488.65 L335.10,487.47 L336.10,486.29 L337.10,485.12 L338.10,483.97 L339.10,482.82 L340.10,481.69 L341.10,480.57 L342.10,479.48 L343.10,478.40 L344.10,477.34 L345.10,476.30 L346.10,475.29 L347.10,474.30 L348.10,473.35 L349.10,472.42 L350.10,471.52 L351.10,470.66 L352.10,469.82 L353.10,469.01 L354.10,468.24 L355.10,467.49 L356.10,466.76 L357.10,466.07 L358.10,465.40 L359.10,464.76 L360.10,464.14 L361.10,463.55 L362.10,462.98 L363.10,462.44 L364.10,461.92 L365.10,461.43 L366.10,460.95 L367.10,460.50 L368.10,460.07 L369.10,459.66 L370.10,459.27 L371.10,458.90 L372.10,458.55 L373.10,458.22 L374.10,457.91 L375.10,457.62 L376.10,457.36 L377.10,457.11 L378.10,456.88 L379.10,456.67 L380.10,456.48 L381.10,456.32 L382.10,456.17 L383.10,456.05 L384.10,455.95 L385.10,455.86 L386.10,455.80 L387.10,455.76 L388.10,455.74 L389.10,455.75 L390.10,455.77 L391.10,455.82 L392.10,455.88 L393.10,455.97 L394.10,456.08 L395.10,456.22 L396.10,456.37 L397.10,456.55 L398.10,456.75 L399.10,456.97 L400.10,457.22 L401.10,457.48 L402.10,457.77 L403.10,458.09 L404.10,458.42 L405.10,458.78 L406.10,459.16 L407.10,459.56 L408.10,459.99 L409.10,460.44 L410.10,460.91 L411.10,461.41 L412.10,461.93 L413.10,462.47 L414.10,463.04 L415.10,463.63 L416.10,464.23 L417.10,464.86 L418.10,465.50 L419.10,466.16 L420.10,466.83 L421.10,467.52 L422.10,468.21 L423.10,468.92 L424.10,469.63 L425.10,470.36 L426.10,471.09 L427.10,471.82 L428.10,472.56 L429.10,473.29 L430.10,474.03 L431.10,474.77 L432.10,475.51 L433.10,476.24 L434.10,476.97 L435.10,477.70 L436.10,478.43 L437.10,479.15 L438.10,479.87 L439.10,480.58 L440.10,481.30 L441.10,482.01 L442.10,482.72 L443.10,483.42 L444.10,484.12 L445.10,484.82 L446.10,485.51 L447.10,486.20 L448.10,486.88 L449.10,487.57 L450.10,488.24 L451.10,488.92 L452.10,489.59 L453.10,490.25 L454.10,490.91 L455.10,491.57 L456.10,492.22 L457.10,492.86 L458.10,493.50 L459.10,494.14 L460.10,494.77 L461.10,495.39 L462.10,496.01 L463.10,496.62 L464.10,497.23 L465.10,497.82 L466.10,498.41 L467.10,498.99 L468.10,499.57 L469.10,500.13 L470.10,500.69 L471.10,501.23 L472.10,501.77 L473.10,502.30 L474.10,502.82 L475.10,503.33 L476.10,503.82 L477.10,504.31 L478.10,504.79 L479.10,505.25 L480.10,505.70 L481.10,506.14 L482.10,506.57 L483.10,506.98 L484.10,507.39 L485.10,507.78 L486.10,508.15 L487.10,508.51 L488.10,508.86 L489.10,509.20 L490.10,509.51 L491.10,509.82 L492.10,510.11 L493.10,510.38 L494.10,510.64 L495.10,510.88 L496.10,511.10 L497.10,511.31 L498.10,511.50 L499.10,511.67 L500.10,511.82 L501.10,511.96 L502.10,512.08 L503.10,512.18 L504.10,512.26 L505.10,512.32 L506.10,512.37 L507.10,512.39 L508.10,512.39 L509.10,512.37 L510.10,512.34 L511.10,512.28 L511.50,512.25 L511.50,516.65 L511.10,516.68 L510.10,516.73 L509.10,516.77 L508.10,516.79 L507.10,516.78 L506.10,516.76 L505.10,516.71 L504.10,516.65 L503.10,516.56 L502.10,516.46 L501.10,516.34 L500.10,516.20 L499.10,516.04 L498.10,515.87 L497.10,515.68 L496.10,515.47 L495.10,515.24 L494.10,515.00 L493.10,514.74 L492.10,514.47 L491.10,514.18 L490.10,513.87 L489.10,513.55 L488.10,513.21 L487.10,512.86 L486.10,512.50 L485.10,512.12 L484.10,511.73 L483.10,511.33 L482.10,510.91 L481.10,510.48 L480.10,510.04 L479.10,509.58 L478.10,509.12 L477.10,508.64 L476.10,508.15 L475.10,507.65 L474.10,507.14 L473.10,506.62 L472.10,506.09 L471.10,505.55 L470.10,505.00 L469.10,504.44 L468.10,503.88 L467.10,503.30 L466.10,502.72 L465.10,502.13 L464.10,501.53 L463.10,500.92 L462.10,500.31 L461.10,499.69 L460.10,499.06 L459.10,498.43 L458.10,497.79 L457.10,497.15 L456.10,496.50 L455.10,495.85 L454.10,495.19 L453.10,494.53 L452.10,493.86 L451.10,493.19 L450.10,492.52 L449.10,491.84 L448.10,491.15 L447.10,490.47 L446.10,489.77 L445.10,489.08 L444.10,488.38 L443.10,487.68 L442.10,486.97 L441.10,486.26 L440.10,485.55 L439.10,484.84 L438.10,484.12 L437.10,483.39 L436.10,482.67 L435.10,481.94 L434.10,481.21 L433.10,480.48 L432.10,479.74 L431.10,479.01 L430.10,478.26 L429.10,477.52 L428.10,476.78 L427.10,476.04 L426.10,475.31 L425.10,474.58 L424.10,473.85 L423.10,473.14 L422.10,472.43 L421.10,471.73 L420.10,471.04 L419.10,470.37 L418.10,469.71 L417.10,469.06 L416.10,468.44 L415.10,467.83 L414.10,467.24 L413.10,466.67 L412.10,466.12 L411.10,465.60 L410.10,465.10 L409.10,464.63 L408.10,464.18 L407.10,463.75 L406.10,463.34 L405.10,462.96 L404.10,462.60 L403.10,462.26 L402.10,461.95 L401.10,461.66 L400.10,461.39 L399.10,461.14 L398.10,460.92 L397.10,460.71 L396.10,460.53 L395.10,460.38 L394.10,460.24 L393.10,460.13 L392.10,460.04 L391.10,459.97 L390.10,459.92 L389.10,459.89 L388.10,459.89 L387.10,459.90 L386.10,459.94 L385.10,460.00 L384.10,460.08 L383.10,460.18 L382.10,460.31 L381.10,460.45 L380.10,460.61 L379.10,460.80 L378.10,461.00 L377.10,461.23 L376.10,461.48 L375.10,461.74 L374.10,462.03 L373.10,462.34 L372.10,462.66 L371.10,463.01 L370.10,463.38 L369.10,463.77 L368.10,464.17 L367.10,464.60 L366.10,465.05 L365.10,465.52 L364.10,466.02 L363.10,466.53 L362.10,467.08 L361.10,467.64 L360.10,468.23 L359.10,468.84 L358.10,469.48 L357.10,470.15 L356.10,470.84 L355.10,471.56 L354.10,472.31 L353.10,473.09 L352.10,473.89 L351.10,474.73 L350.10,475.59 L349.10,476.48 L348.10,477.41 L347.10,478.36 L346.10,479.35 L345.10,480.36 L344.10,481.39 L343.10,482.45 L342.10,483.53 L341.10,484.62 L340.10,485.74 L339.10,486.87 L338.10,488.01 L337.10,489.16 L336.10,490.33 L335.10,491.50 L334.10,492.68 L333.10,493.87 L332.10,495.05 L331.10,496.24 L330.10,497.43 L329.10,498.62 L328.10,499.80 L327.10,500.97 L326.10,502.14 L325.10,503.30 L324.10,504.45 L323.10,505.58 L322.10,506.70 L321.10,507.80 L320.10,508.88 L319.10,509.94 L318.10,510.98 Z" fill="#3d5a98" fill-opacity="0.27"/>
<path d="M318.10,508.98 L319.10,507.94 L320.10,506.88 L321.10,505.80 L322.10,504.69 L323.10,503.57 L324.10,502.44 L325.10,501.29 L326.10,500.13 L327.10,498.96 L328.10,497.79 L329.10,496.61 L330.10,495.42 L331.10,494.23 L332.10,493.04 L333.10,491.85 L334.10,490.67 L335.10,489.48 L336.10,488.31 L337.10,487.14 L338.10,485.99 L339.10,484.84 L340.10,483.71 L341.10,482.60 L342.10,481.50 L343.10,480.42 L344.10,479.36 L345.10,478.33 L346.10,477.32 L347.10,476.33 L348.10,475.38 L349.10,474.45 L350.10,473.56 L351.10,472.69 L352.10,471.86 L353.10,471.05 L354.10,470.27 L355.10,469.52 L356.10,468.80 L357.10,468.11 L358.10,467.44 L359.10,466.80 L360.10,466.19 L361.10,465.60 L362.10,465.03 L363.10,464.49 L364.10,463.97 L365.10,463.47 L366.10,463.00 L367.10,462.55 L368.10,462.12 L369.10,461.71 L370.10,461.32 L371.10,460.96 L372.10,460.61 L373.10,460.28 L374.10,459.97 L375.10,459.68 L376.10,459.42 L377.10,459.17 L378.10,458.94 L379.10,458.73 L380.10,458.55 L381.10,458.38 L382.10,458.24 L383.10,458.12 L384.10,458.01 L385.10,457.93 L386.10,457.87 L387.10,457.83 L388.10,457.82 L389.10,457.82 L390.10,457.84 L391.10,457.89 L392.10,457.96 L393.10,458.05 L394.10,458.16 L395.10,458.30 L396.10,458.45 L397.10,458.63 L398.10,458.83 L399.10,459.06 L400.10,459.30 L401.10,459.57 L402.10,459.86 L403.10,460.17 L404.10,460.51 L405.10,460.87 L406.10,461.25 L407.10,461.66 L408.10,462.08 L409.10,462.53 L410.10,463.01 L411.10,463.51 L412.10,464.03 L413.10,464.57 L414.10,465.14 L415.10,465.73 L416.10,466.34 L417.10,466.96 L418.10,467.60 L419.10,468.26 L420.10,468.94 L421.10,469.62 L422.10,470.32 L423.10,471.03 L424.10,471.74 L425.10,472.47 L426.10,473.20 L427.10,473.93 L428.10,474.67 L429.10,475.41 L430.10,476.15 L431.10,476.89 L432.10,477.63 L433.10,478.36 L434.10,479.09 L435.10,479.82 L436.10,480.55 L437.10,481.27 L438.10,481.99 L439.10,482.71 L440.10,483.42 L441.10,484.14 L442.10,484.84 L443.10,485.55 L444.10,486.25 L445.10,486.95 L446.10,487.64 L447.10,488.33 L448.10,489.02 L449.10,489.70 L450.10,490.38 L451.10,491.05 L452.10,491.72 L453.10,492.39 L454.10,493.05 L455.10,493.71 L456.10,494.36 L457.10,495.01 L458.10,495.65 L459.10,496.29 L460.10,496.92 L461.10,497.54 L462.10,498.16 L463.10,498.77 L464.10,499.38 L465.10,499.97 L466.10,500.56 L467.10,501.15 L468.10,501.72 L469.10,502.29 L470.10,502.84 L471.10,503.39 L472.10,503.93 L473.10,504.46 L474.10,504.98 L475.10,505.49 L476.10,505.99 L477.10,506.47 L478.10,506.95 L479.10,507.42 L480.10,507.87 L481.10,508.31 L482.10,508.74 L483.10,509.16 L484.10,509.56 L485.10,509.95 L486.10,510.33 L487.10,510.69 L488.10,511.04 L489.10,511.37 L490.10,511.69 L491.10,512.00 L492.10,512.29 L493.10,512.56 L494.10,512.82 L495.10,513.06 L496.10,513.28 L497.10,513.49 L498.10,513.68 L499.10,513.86 L500.10,514.01 L501.10,514.15 L502.10,514.27 L503.10,514.37 L504.10,514.45 L505.10,514.52 L506.10,514.56 L507.10,514.59 L508.10,514.59 L509.10,514.57 L510.10,514.53 L511.10,514.48 L511.50,514.45" fill="none" stroke="#34508f" stroke-width="1.4" stroke-linejoin="round"/>
<path d="M318.10,535.50 L319.10,535.31 L320.10,535.12 L321.10,534.91 L322.10,534.69 L323.10,534.46 L324.10,534.22 L325.10,533.97 L326.10,533.71 L327.10,533.44 L328.10,533.16 L329.10,532.87 L330.10,532.57 L331.10,532.26 L332.10,531.95 L333.10,531.62 L334.10,531.29 L335.10,530.95 L336.10,530.60 L337.10,530.24 L338.10,529.88 L339.10,529.50 L340.10,529.13 L341.10,528.74 L342.10,528.35 L343.10,527.95 L344.10,527.54 L345.10,527.13 L346.10,526.71 L347.10,526.29 L348.10,525.86 L349.10,525.43 L350.10,524.99 L351.10,524.55 L352.10,524.10 L353.10,523.65 L354.10,523.19 L355.10,522.73 L356.10,522.27 L357.10,521.80 L358.10,521.33 L359.10,520.85 L360.10,520.37 L361.10,519.89 L362.10,519.41 L363.10,518.92 L364.10,518.44 L365.10,517.95 L366.10,517.46 L367.10,516.96 L368.10,516.47 L369.10,515.97 L370.10,515.48 L371.10,514.98 L372.10,514.48 L373.10,513.98 L374.10,513.49 L375.10,512.99 L376.10,512.49 L377.10,511.99 L378.10,511.50 L379.10,511.00 L380.10,510.51 L381.10,510.01 L382.10,509.52 L383.10,509.03 L384.10,508.55 L385.10,508.06 L386.10,507.58 L387.10,507.10 L388.10,506.62 L389.10,506.14 L390.10,505.67 L391.10,505.20 L392.10,504.74 L393.10,504.28 L394.10,503.82 L395.10,503.37 L396.10,502.92 L397.10,502.47 L398.10,502.03 L399.10,501.60 L400.10,501.17 L401.10,500.74 L402.10,500.32 L403.10,499.91 L404.10,499.50 L405.10,499.09 L406.10,498.69 L407.10,498.29 L408.10,497.89 L409.10,497.50 L410.10,497.12 L411.10,496.73 L412.10,496.36 L413.10,495.98 L414.10,495.61 L415.10,495.25 L416.10,494.88 L417.10,494.52 L418.10,494.17 L419.10,493.82 L420.10,493.47 L421.10,493.12 L422.10,492.78 L423.10,492.44 L424.10,492.11 L425.10,491.78 L426.10,491.45 L427.10,491.13 L428.10,490.80 L429.10,490.49 L430.10,490.17 L431.10,489.86 L432.10,489.55 L433.10,489.24 L434.10,488.94 L435.10,488.64 L436.10,488.35 L437.10,488.06 L438.10,487.78 L439.10,487.51 L440.10,487.24 L441.10,486.98 L442.10,486.73 L443.10,486.49 L444.10,486.26 L445.10,486.04 L446.10,485.82 L447.10,485.62 L448.10,485.44 L449.10,485.26 L450.10,485.09 L451.10,484.92 L452.10,484.77 L453.10,484.62 L454.10,484.47 L455.10,484.33 L456.10,484.19 L457.10,484.05 L458.10,483.91 L459.10,483.77 L460.10,483.63 L461.10,483.48 L462.10,483.33 L463.10,483.17 L464.10,483.01 L465.10,482.84 L466.10,482.66 L467.10,482.47 L468.10,482.27 L469.10,482.06 L470.10,481.83 L471.10,481.59 L472.10,481.33 L473.10,481.06 L474.10,480.76 L475.10,480.45 L476.10,480.11 L477.10,479.75 L478.10,479.36 L479.10,478.95 L480.10,478.51 L481.10,478.04 L482.10,477.55 L483.10,477.02 L484.10,476.47 L485.10,475.89 L486.10,475.28 L487.10,474.64 L488.10,473.98 L489.10,473.28 L490.10,472.56 L491.10,471.81 L492.10,471.03 L493.10,470.21 L494.10,469.38 L495.10,468.51 L496.10,467.61 L497.10,466.68 L498.10,465.73 L499.10,464.74 L500.10,463.73 L501.10,462.69 L502.10,461.62 L503.10,460.52 L504.10,459.38 L505.10,458.22 L506.10,457.04 L507.10,455.82 L508.10,454.57 L509.10,453.29 L510.10,451.98 L511.10,450.65 L511.50,450.10 L511.50,454.50 L511.10,455.05 L510.10,456.38 L509.10,457.69 L508.10,458.97 L507.10,460.22 L506.10,461.44 L505.10,462.62 L504.10,463.78 L503.10,464.92 L502.10,466.02 L501.10,467.09 L500.10,468.13 L499.10,469.14 L498.10,470.13 L497.10,471.08 L496.10,472.01 L495.10,472.91 L494.10,473.78 L493.10,474.61 L492.10,475.43 L491.10,476.21 L490.10,476.96 L489.10,477.68 L488.10,478.38 L487.10,479.04 L486.10,479.68 L485.10,480.29 L484.10,480.87 L483.10,481.42 L482.10,481.95 L481.10,482.44 L480.10,482.91 L479.10,483.35 L478.10,483.76 L477.10,484.15 L476.10,484.51 L475.10,484.85 L474.10,485.16 L473.10,485.46 L472.10,485.73 L471.10,485.99 L470.10,486.23 L469.10,486.46 L468.10,486.67 L467.10,486.87 L466.10,487.06 L465.10,487.24 L464.10,487.41 L463.10,487.57 L462.10,487.73 L461.10,487.88 L460.10,488.03 L459.10,488.17 L458.10,488.31 L457.10,488.45 L456.10,488.59 L455.10,488.73 L454.10,488.87 L453.10,489.02 L452.10,489.17 L451.10,489.32 L450.10,489.49 L449.10,489.66 L448.10,489.84 L447.10,490.02 L446.10,490.22 L445.10,490.44 L444.10,490.66 L443.10,490.89 L442.10,491.13 L441.10,491.38 L440.10,491.64 L439.10,491.91 L438.10,492.18 L437.10,492.46 L436.10,492.75 L435.10,493.04 L434.10,493.34 L433.10,493.64 L432.10,493.95 L431.10,494.26 L430.10,494.57 L429.10,494.89 L428.10,495.20 L427.10,495.53 L426.10,495.85 L425.10,496.18 L424.10,496.51 L423.10,496.84 L422.10,497.18 L421.10,497.52 L420.10,497.87 L419.10,498.22 L418.10,498.57 L417.10,498.92 L416.10,499.28 L415.10,499.65 L414.10,500.01 L413.10,500.38 L412.10,500.76 L411.10,501.13 L410.10,501.52 L409.10,501.90 L408.10,502.29 L407.10,502.69 L406.10,503.09 L405.10,503.49 L404.10,503.90 L403.10,504.31 L402.10,504.72 L401.10,505.14 L400.10,505.57 L399.10,506.00 L398.10,506.43 L397.10,506.87 L396.10,507.32 L395.10,507.77 L394.10,508.22 L393.10,508.68 L392.10,509.14 L391.10,509.60 L390.10,510.07 L389.10,510.54 L388.10,511.02 L387.10,511.50 L386.10,511.98 L385.10,512.46 L384.10,512.95 L383.10,513.43 L382.10,513.92 L381.10,514.41 L380.10,514.91 L379.10,515.40 L378.10,515.90 L377.10,516.39 L376.10,516.89 L375.10,517.39 L374.10,517.89 L373.10,518.38 L372.10,518.88 L371.10,519.38 L370.10,519.88 L369.10,520.37 L368.10,520.87 L367.10,521.36 L366.10,521.86 L365.10,522.35 L364.10,522.84 L363.10,523.32 L362.10,523.81 L361.10,524.29 L360.10,524.77 L359.10,525.25 L358.10,525.73 L357.10,526.20 L356.10,526.67 L355.10,527.13 L354.10,527.59 L353.10,528.05 L352.10,528.50 L351.10,528.95 L350.10,529.39 L349.10,529.83 L348.10,530.26 L347.10,530.69 L346.10,531.11 L345.10,531.53 L344.10,531.94 L343.10,532.35 L342.10,532.75 L341.10,533.14 L340.10,533.53 L339.10,533.90 L338.10,534.28 L337.10,534.64 L336.10,535.00 L335.10,535.35 L334.10,535.69 L333.10,536.02 L332.10,536.35 L331.10,536.66 L330.10,536.97 L329.10,537.27 L328.10,537.56 L327.10,537.84 L326.10,538.11 L325.10,538.37 L324.10,538.62 L323.10,538.86 L322.10,539.09 L321.10,539.31 L320.10,539.52 L319.10,539.71 L318.10,539.90 Z" fill="#b5173f" fill-opacity="0.27"/>
<path d="M318.10,537.70 L319.10,537.51 L320.10,537.32 L321.10,537.11 L322.10,536.89 L323.10,536.66 L324.10,536.42 L325.10,536.17 L326.10,535.91 L327.10,535.64 L328.10,535.36 L329.10,535.07 L330.10,534.77 L331.10,534.46 L332.10,534.15 L333.10,533.82 L334.10,533.49 L335.10,533.15 L336.10,532.80 L337.10,532.44 L338.10,532.08 L339.10,531.70 L340.10,531.33 L341.10,530.94 L342.10,530.55 L343.10,530.15 L344.10,529.74 L345.10,529.33 L346.10,528.91 L347.10,528.49 L348.10,528.06 L349.10,527.63 L350.10,527.19 L351.10,526.75 L352.10,526.30 L353.10,525.85 L354.10,525.39 L355.10,524.93 L356.10,524.47 L357.10,524.00 L358.10,523.53 L359.10,523.05 L360.10,522.57 L361.10,522.09 L362.10,521.61 L363.10,521.12 L364.10,520.64 L365.10,520.15 L366.10,519.66 L367.10,519.16 L368.10,518.67 L369.10,518.17 L370.10,517.68 L371.10,517.18 L372.10,516.68 L373.10,516.18 L374.10,515.69 L375.10,515.19 L376.10,514.69 L377.10,514.19 L378.10,513.70 L379.10,513.20 L380.10,512.71 L381.10,512.21 L382.10,511.72 L383.10,511.23 L384.10,510.75 L385.10,510.26 L386.10,509.78 L387.10,509.30 L388.10,508.82 L389.10,508.34 L390.10,507.87 L391.10,507.40 L392.10,506.94 L393.10,506.48 L394.10,506.02 L395.10,505.57 L396.10,505.12 L397.10,504.67 L398.10,504.23 L399.10,503.80 L400.10,503.37 L401.10,502.94 L402.10,502.52 L403.10,502.11 L404.10,501.70 L405.10,501.29 L406.10,500.89 L407.10,500.49 L408.10,500.09 L409.10,499.70 L410.10,499.32 L411.10,498.93 L412.10,498.56 L413.10,498.18 L414.10,497.81 L415.10,497.45 L416.10,497.08 L417.10,496.72 L418.10,496.37 L419.10,496.02 L420.10,495.67 L421.10,495.32 L422.10,494.98 L423.10,494.64 L424.10,494.31 L425.10,493.98 L426.10,493.65 L427.10,493.33 L428.10,493.00 L429.10,492.69 L430.10,492.37 L431.10,492.06 L432.10,491.75 L433.10,491.44 L434.10,491.14 L435.10,490.84 L436.10,490.55 L437.10,490.26 L438.10,489.98 L439.10,489.71 L440.10,489.44 L441.10,489.18 L442.10,488.93 L443.10,488.69 L444.10,488.46 L445.10,488.24 L446.10,488.02 L447.10,487.82 L448.10,487.64 L449.10,487.46 L450.10,487.29 L451.10,487.12 L452.10,486.97 L453.10,486.82 L454.10,486.67 L455.10,486.53 L456.10,486.39 L457.10,486.25 L458.10,486.11 L459.10,485.97 L460.10,485.83 L461.10,485.68 L462.10,485.53 L463.10,485.37 L464.10,485.21 L465.10,485.04 L466.10,484.86 L467.10,484.67 L468.10,484.47 L469.10,484.26 L470.10,484.03 L471.10,483.79 L472.10,483.53 L473.10,483.26 L474.10,482.96 L475.10,482.65 L476.10,482.31 L477.10,481.95 L478.10,481.56 L479.10,481.15 L480.10,480.71 L481.10,480.24 L482.10,479.75 L483.10,479.22 L484.10,478.67 L485.10,478.09 L486.10,477.48 L487.10,476.84 L488.10,476.18 L489.10,475.48 L490.10,474.76 L491.10,474.01 L492.10,473.23 L493.10,472.41 L494.10,471.58 L495.10,470.71 L496.10,469.81 L497.10,468.88 L498.10,467.93 L499.10,466.94 L500.10,465.93 L501.10,464.89 L502.10,463.82 L503.10,462.72 L504.10,461.58 L505.10,460.42 L506.10,459.24 L507.10,458.02 L508.10,456.77 L509.10,455.49 L510.10,454.18 L511.10,452.85 L511.50,452.30" fill="none" stroke="#b4173f" stroke-width="1.5" stroke-linejoin="round"/>
<path d="M318.10,480.47 L319.10,480.12 L320.10,479.77 L321.10,479.43 L322.10,479.10 L323.10,478.78 L324.10,478.46 L325.10,478.16 L326.10,477.86 L327.10,477.58 L328.10,477.30 L329.10,477.03 L330.10,476.77 L331.10,476.51 L332.10,476.27 L333.10,476.03 L334.10,475.80 L335.10,475.58 L336.10,475.37 L337.10,475.17 L338.10,474.97 L339.10,474.78 L340.10,474.60 L341.10,474.43 L342.10,474.27 L343.10,474.11 L344.10,473.96 L345.10,473.82 L346.10,473.69 L347.10,473.56 L348.10,473.44 L349.10,473.33 L350.10,473.23 L351.10,473.13 L352.10,473.05 L353.10,472.97 L354.10,472.89 L355.10,472.82 L356.10,472.77 L357.10,472.71 L358.10,472.67 L359.10,472.63 L360.10,472.60 L361.10,472.58 L362.10,472.56 L363.10,472.55 L364.10,472.54 L365.10,472.55 L366.10,472.55 L367.10,472.55 L368.10,472.55 L369.10,472.55 L370.10,472.57 L371.10,472.59 L372.10,472.61 L373.10,472.64 L374.10,472.68 L375.10,472.72 L376.10,472.78 L377.10,472.83 L378.10,472.90 L379.10,472.96 L380.10,473.04 L381.10,473.12 L382.10,473.21 L383.10,473.30 L384.10,473.40 L385.10,473.50 L386.10,473.61 L387.10,473.73 L388.10,473.85 L389.10,473.98 L390.10,474.11 L391.10,474.25 L392.10,474.39 L393.10,474.54 L394.10,474.69 L395.10,474.85 L396.10,475.02 L397.10,475.19 L398.10,475.36 L399.10,475.54 L400.10,475.73 L401.10,475.92 L402.10,476.11 L403.10,476.31 L404.10,476.52 L405.10,476.73 L406.10,476.94 L407.10,477.16 L408.10,477.38 L409.10,477.61 L410.10,477.84 L411.10,478.08 L412.10,478.32 L413.10,478.57 L414.10,478.82 L415.10,479.08 L416.10,479.33 L417.10,479.60 L418.10,479.87 L419.10,480.14 L420.10,480.41 L421.10,480.69 L422.10,480.98 L423.10,481.27 L424.10,481.56 L425.10,481.85 L426.10,482.15 L427.10,482.45 L428.10,482.76 L429.10,483.07 L430.10,483.39 L431.10,483.70 L432.10,484.02 L433.10,484.35 L434.10,484.68 L435.10,485.01 L436.10,485.34 L437.10,485.68 L438.10,486.02 L439.10,486.36 L440.10,486.71 L441.10,487.06 L442.10,487.41 L443.10,487.77 L444.10,488.13 L445.10,488.49 L446.10,488.85 L447.10,489.22 L448.10,489.58 L449.10,489.96 L450.10,490.33 L451.10,490.70 L452.10,491.08 L453.10,491.46 L454.10,491.84 L455.10,492.23 L456.10,492.61 L457.10,493.00 L458.10,493.39 L459.10,493.78 L460.10,494.18 L461.10,494.57 L462.10,494.97 L463.10,495.37 L464.10,495.77 L465.10,496.17 L466.10,496.57 L467.10,496.98 L468.10,497.38 L469.10,497.79 L470.10,498.19 L471.10,498.60 L472.10,499.01 L473.10,499.42 L474.10,499.83 L475.10,500.24 L476.10,500.65 L477.10,501.05 L478.10,501.46 L479.10,501.86 L480.10,502.25 L481.10,502.64 L482.10,503.03 L483.10,503.42 L484.10,503.79 L485.10,504.16 L486.10,504.53 L487.10,504.88 L488.10,505.23 L489.10,505.57 L490.10,505.91 L491.10,506.23 L492.10,506.54 L493.10,506.84 L494.10,507.13 L495.10,507.41 L496.10,507.68 L497.10,507.93 L498.10,508.17 L499.10,508.40 L500.10,508.61 L501.10,508.81 L502.10,508.99 L503.10,509.16 L504.10,509.31 L505.10,509.44 L506.10,509.56 L507.10,509.65 L508.10,509.73 L509.10,509.79 L510.10,509.83 L511.10,509.85 L511.50,509.85 L511.50,515.45 L511.10,515.45 L510.10,515.42 L509.10,515.38 L508.10,515.31 L507.10,515.23 L506.10,515.13 L505.10,515.01 L504.10,514.87 L503.10,514.71 L502.10,514.54 L501.10,514.35 L500.10,514.15 L499.10,513.93 L498.10,513.70 L497.10,513.45 L496.10,513.19 L495.10,512.92 L494.10,512.64 L493.10,512.34 L492.10,512.03 L491.10,511.72 L490.10,511.39 L489.10,511.05 L488.10,510.71 L487.10,510.35 L486.10,509.99 L485.10,509.62 L484.10,509.24 L483.10,508.86 L482.10,508.47 L481.10,508.08 L480.10,507.68 L479.10,507.28 L478.10,506.87 L477.10,506.46 L476.10,506.05 L475.10,505.64 L474.10,505.23 L473.10,504.81 L472.10,504.40 L471.10,503.98 L470.10,503.57 L469.10,503.15 L468.10,502.74 L467.10,502.33 L466.10,501.92 L465.10,501.51 L464.10,501.11 L463.10,500.70 L462.10,500.30 L461.10,499.90 L460.10,499.49 L459.10,499.10 L458.10,498.70 L457.10,498.30 L456.10,497.91 L455.10,497.52 L454.10,497.13 L453.10,496.74 L452.10,496.36 L451.10,495.97 L450.10,495.59 L449.10,495.21 L448.10,494.84 L447.10,494.46 L446.10,494.09 L445.10,493.72 L444.10,493.36 L443.10,492.99 L442.10,492.63 L441.10,492.27 L440.10,491.92 L439.10,491.57 L438.10,491.22 L437.10,490.87 L436.10,490.53 L435.10,490.19 L434.10,489.85 L433.10,489.52 L432.10,489.19 L431.10,488.86 L430.10,488.54 L429.10,488.22 L428.10,487.90 L427.10,487.59 L426.10,487.28 L425.10,486.98 L424.10,486.68 L423.10,486.38 L422.10,486.09 L421.10,485.80 L420.10,485.51 L419.10,485.23 L418.10,484.95 L417.10,484.68 L416.10,484.41 L415.10,484.15 L414.10,483.89 L413.10,483.63 L412.10,483.38 L411.10,483.13 L410.10,482.89 L409.10,482.65 L408.10,482.41 L407.10,482.19 L406.10,481.96 L405.10,481.74 L404.10,481.53 L403.10,481.32 L402.10,481.11 L401.10,480.91 L400.10,480.71 L399.10,480.52 L398.10,480.34 L397.10,480.16 L396.10,479.98 L395.10,479.81 L394.10,479.65 L393.10,479.49 L392.10,479.33 L391.10,479.18 L390.10,479.04 L389.10,478.90 L388.10,478.77 L387.10,478.64 L386.10,478.52 L385.10,478.41 L384.10,478.30 L383.10,478.19 L382.10,478.10 L381.10,478.00 L380.10,477.92 L379.10,477.84 L378.10,477.76 L377.10,477.69 L376.10,477.63 L375.10,477.57 L374.10,477.53 L373.10,477.48 L372.10,477.44 L371.10,477.41 L370.10,477.39 L369.10,477.37 L368.10,477.36 L367.10,477.35 L366.10,477.36 L365.10,477.38 L364.10,477.42 L363.10,477.47 L362.10,477.52 L361.10,477.58 L360.10,477.65 L359.10,477.72 L358.10,477.80 L357.10,477.88 L356.10,477.98 L355.10,478.08 L354.10,478.19 L353.10,478.30 L352.10,478.43 L351.10,478.56 L350.10,478.69 L349.10,478.84 L348.10,478.99 L347.10,479.15 L346.10,479.32 L345.10,479.49 L344.10,479.67 L343.10,479.86 L342.10,480.06 L341.10,480.27 L340.10,480.48 L339.10,480.70 L338.10,480.93 L337.10,481.17 L336.10,481.42 L335.10,481.67 L334.10,481.93 L333.10,482.20 L332.10,482.48 L331.10,482.77 L330.10,483.06 L329.10,483.37 L328.10,483.68 L327.10,484.00 L326.10,484.33 L325.10,484.66 L324.10,485.01 L323.10,485.36 L322.10,485.73 L321.10,486.10 L320.10,486.48 L319.10,486.87 L318.10,487.27 Z" fill="#72b55e" fill-opacity="0.27"/>
<path d="M318.10,483.87 L319.10,483.49 L320.10,483.13 L321.10,482.77 L322.10,482.41 L323.10,482.07 L324.10,481.74 L325.10,481.41 L326.10,481.10 L327.10,480.79 L328.10,480.49 L329.10,480.20 L330.10,479.91 L331.10,479.64 L332.10,479.37 L333.10,479.12 L334.10,478.87 L335.10,478.63 L336.10,478.39 L337.10,478.17 L338.10,477.95 L339.10,477.74 L340.10,477.54 L341.10,477.35 L342.10,477.16 L343.10,476.99 L344.10,476.82 L345.10,476.66 L346.10,476.50 L347.10,476.36 L348.10,476.22 L349.10,476.09 L350.10,475.96 L351.10,475.84 L352.10,475.74 L353.10,475.63 L354.10,475.54 L355.10,475.45 L356.10,475.37 L357.10,475.30 L358.10,475.23 L359.10,475.17 L360.10,475.12 L361.10,475.08 L362.10,475.04 L363.10,475.01 L364.10,474.98 L365.10,474.97 L366.10,474.96 L367.10,474.95 L368.10,474.95 L369.10,474.96 L370.10,474.98 L371.10,475.00 L372.10,475.03 L373.10,475.06 L374.10,475.10 L375.10,475.15 L376.10,475.20 L377.10,475.26 L378.10,475.33 L379.10,475.40 L380.10,475.48 L381.10,475.56 L382.10,475.65 L383.10,475.75 L384.10,475.85 L385.10,475.95 L386.10,476.07 L387.10,476.19 L388.10,476.31 L389.10,476.44 L390.10,476.57 L391.10,476.72 L392.10,476.86 L393.10,477.01 L394.10,477.17 L395.10,477.33 L396.10,477.50 L397.10,477.67 L398.10,477.85 L399.10,478.03 L400.10,478.22 L401.10,478.41 L402.10,478.61 L403.10,478.81 L404.10,479.02 L405.10,479.23 L406.10,479.45 L407.10,479.67 L408.10,479.90 L409.10,480.13 L410.10,480.37 L411.10,480.61 L412.10,480.85 L413.10,481.10 L414.10,481.35 L415.10,481.61 L416.10,481.87 L417.10,482.14 L418.10,482.41 L419.10,482.68 L420.10,482.96 L421.10,483.25 L422.10,483.53 L423.10,483.82 L424.10,484.12 L425.10,484.41 L426.10,484.72 L427.10,485.02 L428.10,485.33 L429.10,485.65 L430.10,485.96 L431.10,486.28 L432.10,486.61 L433.10,486.93 L434.10,487.26 L435.10,487.60 L436.10,487.93 L437.10,488.27 L438.10,488.62 L439.10,488.96 L440.10,489.31 L441.10,489.67 L442.10,490.02 L443.10,490.38 L444.10,490.74 L445.10,491.10 L446.10,491.47 L447.10,491.84 L448.10,492.21 L449.10,492.58 L450.10,492.96 L451.10,493.34 L452.10,493.72 L453.10,494.10 L454.10,494.49 L455.10,494.87 L456.10,495.26 L457.10,495.65 L458.10,496.05 L459.10,496.44 L460.10,496.84 L461.10,497.23 L462.10,497.63 L463.10,498.03 L464.10,498.44 L465.10,498.84 L466.10,499.25 L467.10,499.65 L468.10,500.06 L469.10,500.47 L470.10,500.88 L471.10,501.29 L472.10,501.70 L473.10,502.12 L474.10,502.53 L475.10,502.94 L476.10,503.35 L477.10,503.76 L478.10,504.16 L479.10,504.57 L480.10,504.97 L481.10,505.36 L482.10,505.75 L483.10,506.14 L484.10,506.52 L485.10,506.89 L486.10,507.26 L487.10,507.62 L488.10,507.97 L489.10,508.31 L490.10,508.65 L491.10,508.97 L492.10,509.29 L493.10,509.59 L494.10,509.89 L495.10,510.17 L496.10,510.44 L497.10,510.69 L498.10,510.94 L499.10,511.17 L500.10,511.38 L501.10,511.58 L502.10,511.77 L503.10,511.94 L504.10,512.09 L505.10,512.22 L506.10,512.34 L507.10,512.44 L508.10,512.52 L509.10,512.58 L510.10,512.63 L511.10,512.65 L511.50,512.65" fill="none" stroke="#6db35a" stroke-width="1.1" stroke-linejoin="round"/>
<rect x="308.100" y="420.5" width="1.5" height="133.400" fill="#000"/><rect x="308.100" y="552.500" width="204.300" height="1.4" fill="#000"/>
<path d="M305.2,440.2 H308.3" stroke="#111" stroke-width="1"/>
<text x="302.5" y="443.2" font-size="8.8" text-anchor="end" font-weight="normal" font-style="normal" fill="#2a2a2a" textLength="11.4" lengthAdjust="spacingAndGlyphs" >1.0</text>
<path d="M305.2,467.87 H308.3" stroke="#111" stroke-width="1"/>
<text x="302.5" y="470.87" font-size="8.8" text-anchor="end" font-weight="normal" font-style="normal" fill="#2a2a2a" textLength="11.4" lengthAdjust="spacingAndGlyphs" >0.5</text>
<path d="M305.2,495.55 H308.3" stroke="#111" stroke-width="1"/>
<text x="302.5" y="498.55" font-size="8.8" text-anchor="end" font-weight="normal" font-style="normal" fill="#2a2a2a" textLength="11.4" lengthAdjust="spacingAndGlyphs" >0.0</text>
<path d="M305.2,523.22 H308.3" stroke="#111" stroke-width="1"/>
<text x="302.5" y="526.22" font-size="8.8" text-anchor="end" font-weight="normal" font-style="normal" fill="#2a2a2a" textLength="14.6" lengthAdjust="spacingAndGlyphs" >-0.5</text>
<path d="M305.2,550.9 H308.3" stroke="#111" stroke-width="1"/>
<text x="302.5" y="553.9" font-size="8.8" text-anchor="end" font-weight="normal" font-style="normal" fill="#2a2a2a" textLength="14.6" lengthAdjust="spacingAndGlyphs" >-1.0</text>
<path d="M317.8,553 V556.2" stroke="#111" stroke-width="1"/>
<text x="318.1" y="565.9" font-size="8.2" text-anchor="middle" font-weight="normal" font-style="normal" fill="#2a2a2a" textLength="15.9" lengthAdjust="spacingAndGlyphs" >0.00</text>
<path d="M368.8,553 V556.2" stroke="#111" stroke-width="1"/>
<text x="369.1" y="565.9" font-size="8.2" text-anchor="middle" font-weight="normal" font-style="normal" fill="#2a2a2a" textLength="15.9" lengthAdjust="spacingAndGlyphs" >0.25</text>
<path d="M420.3,553 V556.2" stroke="#111" stroke-width="1"/>
<text x="420.6" y="565.9" font-size="8.2" text-anchor="middle" font-weight="normal" font-style="normal" fill="#2a2a2a" textLength="15.9" lengthAdjust="spacingAndGlyphs" >0.50</text>
<path d="M471.5,553 V556.2" stroke="#111" stroke-width="1"/>
<text x="471.8" y="565.9" font-size="8.2" text-anchor="middle" font-weight="normal" font-style="normal" fill="#2a2a2a" textLength="15.9" lengthAdjust="spacingAndGlyphs" >0.75</text>
<text transform="translate(280.2,487) rotate(-90)" x="0" y="0" font-size="8.2" text-anchor="middle" dominant-baseline="central" fill="#2a2a2a" stroke="#2a2a2a" stroke-width="0.25" textLength="65.6" lengthAdjust="spacingAndGlyphs">Normalized expression</text>
<text x="308.9" y="578.0" font-size="10.3" text-anchor="start" font-weight="normal" font-style="normal" fill="#2a2a2a" textLength="15.2" lengthAdjust="spacingAndGlyphs" stroke="#2a2a2a" stroke-width="0.4" >HSCs</text>
<text x="490.1" y="578.2" font-size="10.3" text-anchor="start" font-weight="normal" font-style="normal" fill="#2a2a2a" textLength="16.6" lengthAdjust="spacingAndGlyphs" stroke="#2a2a2a" stroke-width="0.4" >MEPs</text>
<text x="410.15" y="585.6" font-size="10.2" text-anchor="middle" font-weight="normal" font-style="normal" fill="#2a2a2a" textLength="36.3" lengthAdjust="spacingAndGlyphs" stroke="#2a2a2a" stroke-width="0.3" >Pseudo-time</text>
<rect x="333.5" y="574.75" width="146.5" height="1.5" fill="#000"/>
<path d="M486.4,575.5 L476.2,571.3 L478.4,575.5 L476.2,579.6 Z" fill="#000"/>
<text x="390.6" y="411.6" font-size="10.1" text-anchor="start" font-weight="normal" font-style="normal" fill="#2a2a2a" textLength="33.599999999999966" lengthAdjust="spacingAndGlyphs" >Patients</text>
<rect x="390.6" y="412.6" width="33.599999999999966" height="0.9" fill="#777"/>
<rect x="314.9" y="420.7" width="18.6" height="11.5" fill="#3d5a98" fill-opacity="0.27"/>
<path d="M315.29999999999995,426.4 H333.09999999999997" stroke="#34508f" stroke-width="1.2"/>
<text x="337.0" y="429.2" font-size="8.9" text-anchor="start" font-weight="normal" font-style="italic" fill="#2a2a2a" textLength="23.3" lengthAdjust="spacingAndGlyphs" >GATA2</text>
<rect x="314.9" y="435.2" width="18.6" height="11.5" fill="#b5173f" fill-opacity="0.27"/>
<path d="M315.29999999999995,440.9 H333.09999999999997" stroke="#b4173f" stroke-width="1.6"/>
<text x="337.0" y="443.7" font-size="8.9" text-anchor="start" font-weight="normal" font-style="italic" fill="#2a2a2a" textLength="23.3" lengthAdjust="spacingAndGlyphs" >GATA1</text>
<rect x="314.9" y="450.1" width="18.6" height="11.5" fill="#72b55e" fill-opacity="0.27"/>
<path d="M315.29999999999995,455.8 H333.09999999999997" stroke="#6db35a" stroke-width="1.7"/>
<text x="337.0" y="458.6" font-size="8.9" text-anchor="start" font-weight="normal" font-style="italic" fill="#2a2a2a" textLength="17.0" lengthAdjust="spacingAndGlyphs" >SPI1</text>
<text x="7.4" y="17.4" font-size="11.8" text-anchor="start" font-weight="bold" font-style="normal" fill="#000" textLength="8.2" lengthAdjust="spacingAndGlyphs" stroke="#000" stroke-width="0.25" >A</text>
<text x="268.6" y="17.3" font-size="11.8" text-anchor="start" font-weight="bold" font-style="normal" fill="#000" textLength="7.6" lengthAdjust="spacingAndGlyphs" stroke="#000" stroke-width="0.25" >B</text>
<text x="7.6" y="227.4" font-size="11.8" text-anchor="start" font-weight="bold" font-style="normal" fill="#000" textLength="7.8" lengthAdjust="spacingAndGlyphs" stroke="#000" stroke-width="0.25" >C</text>
<text x="268.0" y="227.2" font-size="11.8" text-anchor="start" font-weight="bold" font-style="normal" fill="#000" textLength="8.4" lengthAdjust="spacingAndGlyphs" stroke="#000" stroke-width="0.25" >D</text>
<text x="8.0" y="397.3" font-size="11.8" text-anchor="start" font-weight="bold" font-style="normal" fill="#000" textLength="6.9" lengthAdjust="spacingAndGlyphs" stroke="#000" stroke-width="0.25" >E</text>
<text x="268.0" y="397.3" font-size="11.8" text-anchor="start" font-weight="bold" font-style="normal" fill="#000" textLength="7.1" lengthAdjust="spacingAndGlyphs" stroke="#000" stroke-width="0.25" >F</text>
<rect x="0" y="0" width="1.1" height="595" fill="#000"/><rect x="0" y="0" width="520" height="1.1" fill="#000"/><rect x="518.9" y="0" width="1.1" height="595" fill="#000"/>
<rect x="0" y="593.7" width="520" height="1.3" fill="#000"/>
</svg></body></html>
